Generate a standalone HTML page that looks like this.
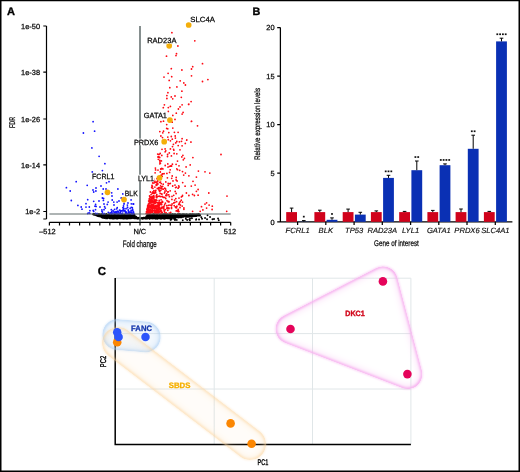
<!DOCTYPE html>
<html><head><meta charset="utf-8"><style>
html,body{margin:0;padding:0;background:#fff;}
body{width:520px;height:472px;overflow:hidden;position:relative;}
svg{position:absolute;left:0;top:0;font-family:"Liberation Sans", sans-serif;will-change:transform;text-rendering:geometricPrecision;}
text.t{stroke:#000;stroke-width:0.25px;}
</style></head><body>
<svg width="520" height="472" viewBox="0 0 520 472">
<g id="A">
<text x="7.0" y="14.8" font-size="11" text-anchor="start" fill="#000" font-weight="bold" stroke="#000" stroke-width="0.35">A</text>
<path d="M46.5 26 V219 M43.3 26 H46.5 M43.3 72.2 H46.5 M43.3 119 H46.5 M43.3 164.8 H46.5 M43.3 211.5 H46.5 M43.3 219 H46.5" stroke="#000" stroke-width="1.2" fill="none"/>
<text x="40.0" y="28.7" font-size="7.4" text-anchor="end" fill="#111" class="t" >1e-50</text>
<text x="40.0" y="74.9" font-size="7.4" text-anchor="end" fill="#111" class="t" >1e-38</text>
<text x="40.0" y="121.7" font-size="7.4" text-anchor="end" fill="#111" class="t" >1e-26</text>
<text x="40.0" y="167.5" font-size="7.4" text-anchor="end" fill="#111" class="t" >1e-14</text>
<text x="40.0" y="214.2" font-size="7.4" text-anchor="end" fill="#111" class="t" >1e-2</text>
<text class="t" transform="translate(15.2 122.5) rotate(-90)" font-size="8.2" text-anchor="middle" textLength="11" lengthAdjust="spacingAndGlyphs" fill="#111">FDR</text>
<path d="M49.4 222.3 H230.7 M49.4 222.3 V225.6 M59.5 222.3 V225.6 M69.5 222.3 V225.6 M79.6 222.3 V225.6 M89.7 222.3 V225.6 M99.8 222.3 V225.6 M109.8 222.3 V225.6 M119.9 222.3 V225.6 M130.0 222.3 V225.6 M140.0 222.3 V225.6 M150.1 222.3 V225.6 M160.2 222.3 V225.6 M170.3 222.3 V225.6 M180.3 222.3 V225.6 M190.4 222.3 V225.6 M200.5 222.3 V225.6 M210.6 222.3 V225.6 M220.6 222.3 V225.6 M230.7 222.3 V225.6" stroke="#000" stroke-width="1.2" fill="none"/>
<text x="47.4" y="233.6" font-size="7.4" text-anchor="middle" fill="#111" class="t" >–512</text>
<text x="139.8" y="233.6" font-size="7.4" text-anchor="middle" fill="#111" class="t" >N/C</text>
<text x="230.0" y="233.6" font-size="7.4" text-anchor="middle" fill="#111" class="t" >512</text>
<text x="122.8" y="246.9" font-size="9.3" text-anchor="start" fill="#111" textLength="34" lengthAdjust="spacingAndGlyphs" class="t" >Fold change</text>
<path fill="#000" d="M189.6 216.1a0.95 0.95 0 1 0 1.9 0a0.95 0.95 0 1 0 -1.9 0M96.8 215.2a0.95 0.95 0 1 0 1.9 0a0.95 0.95 0 1 0 -1.9 0M192.0 214.7a0.95 0.95 0 1 0 1.9 0a0.95 0.95 0 1 0 -1.9 0M159.4 215.9a0.95 0.95 0 1 0 1.9 0a0.95 0.95 0 1 0 -1.9 0M98.5 215.3a0.95 0.95 0 1 0 1.9 0a0.95 0.95 0 1 0 -1.9 0M93.3 214.3a0.95 0.95 0 1 0 1.9 0a0.95 0.95 0 1 0 -1.9 0M174.9 217.6a0.95 0.95 0 1 0 1.9 0a0.95 0.95 0 1 0 -1.9 0M178.5 217.1a0.95 0.95 0 1 0 1.9 0a0.95 0.95 0 1 0 -1.9 0M94.8 214.9a0.95 0.95 0 1 0 1.9 0a0.95 0.95 0 1 0 -1.9 0M164.3 215.5a0.95 0.95 0 1 0 1.9 0a0.95 0.95 0 1 0 -1.9 0M190.9 215.6a0.95 0.95 0 1 0 1.9 0a0.95 0.95 0 1 0 -1.9 0M147.2 216.2a0.95 0.95 0 1 0 1.9 0a0.95 0.95 0 1 0 -1.9 0M122.1 215.5a0.95 0.95 0 1 0 1.9 0a0.95 0.95 0 1 0 -1.9 0M104.1 216.8a0.95 0.95 0 1 0 1.9 0a0.95 0.95 0 1 0 -1.9 0M146.5 215.4a0.95 0.95 0 1 0 1.9 0a0.95 0.95 0 1 0 -1.9 0M148.7 214.9a0.95 0.95 0 1 0 1.9 0a0.95 0.95 0 1 0 -1.9 0M105.2 215.5a0.95 0.95 0 1 0 1.9 0a0.95 0.95 0 1 0 -1.9 0M122.2 215.3a0.95 0.95 0 1 0 1.9 0a0.95 0.95 0 1 0 -1.9 0M150.1 218.1a0.95 0.95 0 1 0 1.9 0a0.95 0.95 0 1 0 -1.9 0M152.6 217.2a0.95 0.95 0 1 0 1.9 0a0.95 0.95 0 1 0 -1.9 0M167.8 216.2a0.95 0.95 0 1 0 1.9 0a0.95 0.95 0 1 0 -1.9 0M157.2 216.4a0.95 0.95 0 1 0 1.9 0a0.95 0.95 0 1 0 -1.9 0M117.2 215.2a0.95 0.95 0 1 0 1.9 0a0.95 0.95 0 1 0 -1.9 0M129.1 218.0a0.95 0.95 0 1 0 1.9 0a0.95 0.95 0 1 0 -1.9 0M151.2 216.5a0.95 0.95 0 1 0 1.9 0a0.95 0.95 0 1 0 -1.9 0M197.7 214.7a0.95 0.95 0 1 0 1.9 0a0.95 0.95 0 1 0 -1.9 0M108.2 214.5a0.95 0.95 0 1 0 1.9 0a0.95 0.95 0 1 0 -1.9 0M132.9 216.1a0.95 0.95 0 1 0 1.9 0a0.95 0.95 0 1 0 -1.9 0M102.8 215.1a0.95 0.95 0 1 0 1.9 0a0.95 0.95 0 1 0 -1.9 0M170.8 214.8a0.95 0.95 0 1 0 1.9 0a0.95 0.95 0 1 0 -1.9 0M129.1 217.2a0.95 0.95 0 1 0 1.9 0a0.95 0.95 0 1 0 -1.9 0M182.8 216.6a0.95 0.95 0 1 0 1.9 0a0.95 0.95 0 1 0 -1.9 0M170.8 217.2a0.95 0.95 0 1 0 1.9 0a0.95 0.95 0 1 0 -1.9 0M142.4 217.8a0.95 0.95 0 1 0 1.9 0a0.95 0.95 0 1 0 -1.9 0M189.8 214.5a0.95 0.95 0 1 0 1.9 0a0.95 0.95 0 1 0 -1.9 0M173.7 216.4a0.95 0.95 0 1 0 1.9 0a0.95 0.95 0 1 0 -1.9 0M195.0 215.2a0.95 0.95 0 1 0 1.9 0a0.95 0.95 0 1 0 -1.9 0M175.7 217.3a0.95 0.95 0 1 0 1.9 0a0.95 0.95 0 1 0 -1.9 0M132.0 216.2a0.95 0.95 0 1 0 1.9 0a0.95 0.95 0 1 0 -1.9 0M169.1 215.4a0.95 0.95 0 1 0 1.9 0a0.95 0.95 0 1 0 -1.9 0M151.0 216.0a0.95 0.95 0 1 0 1.9 0a0.95 0.95 0 1 0 -1.9 0M176.1 217.2a0.95 0.95 0 1 0 1.9 0a0.95 0.95 0 1 0 -1.9 0M123.9 214.8a0.95 0.95 0 1 0 1.9 0a0.95 0.95 0 1 0 -1.9 0M153.9 214.6a0.95 0.95 0 1 0 1.9 0a0.95 0.95 0 1 0 -1.9 0M126.0 217.9a0.95 0.95 0 1 0 1.9 0a0.95 0.95 0 1 0 -1.9 0M194.6 214.6a0.95 0.95 0 1 0 1.9 0a0.95 0.95 0 1 0 -1.9 0M152.1 216.5a0.95 0.95 0 1 0 1.9 0a0.95 0.95 0 1 0 -1.9 0M174.6 216.2a0.95 0.95 0 1 0 1.9 0a0.95 0.95 0 1 0 -1.9 0M146.9 216.6a0.95 0.95 0 1 0 1.9 0a0.95 0.95 0 1 0 -1.9 0M133.1 215.8a0.95 0.95 0 1 0 1.9 0a0.95 0.95 0 1 0 -1.9 0M129.0 218.4a0.95 0.95 0 1 0 1.9 0a0.95 0.95 0 1 0 -1.9 0M147.8 214.7a0.95 0.95 0 1 0 1.9 0a0.95 0.95 0 1 0 -1.9 0M134.3 216.8a0.95 0.95 0 1 0 1.9 0a0.95 0.95 0 1 0 -1.9 0M186.1 216.7a0.95 0.95 0 1 0 1.9 0a0.95 0.95 0 1 0 -1.9 0M198.6 214.7a0.95 0.95 0 1 0 1.9 0a0.95 0.95 0 1 0 -1.9 0M179.2 214.8a0.95 0.95 0 1 0 1.9 0a0.95 0.95 0 1 0 -1.9 0M196.7 215.6a0.95 0.95 0 1 0 1.9 0a0.95 0.95 0 1 0 -1.9 0M103.0 217.8a0.95 0.95 0 1 0 1.9 0a0.95 0.95 0 1 0 -1.9 0M179.7 217.4a0.95 0.95 0 1 0 1.9 0a0.95 0.95 0 1 0 -1.9 0M122.4 216.5a0.95 0.95 0 1 0 1.9 0a0.95 0.95 0 1 0 -1.9 0M111.4 215.0a0.95 0.95 0 1 0 1.9 0a0.95 0.95 0 1 0 -1.9 0M156.2 215.8a0.95 0.95 0 1 0 1.9 0a0.95 0.95 0 1 0 -1.9 0M159.8 214.4a0.95 0.95 0 1 0 1.9 0a0.95 0.95 0 1 0 -1.9 0M176.1 215.3a0.95 0.95 0 1 0 1.9 0a0.95 0.95 0 1 0 -1.9 0M123.9 217.9a0.95 0.95 0 1 0 1.9 0a0.95 0.95 0 1 0 -1.9 0M163.2 215.1a0.95 0.95 0 1 0 1.9 0a0.95 0.95 0 1 0 -1.9 0M150.8 215.4a0.95 0.95 0 1 0 1.9 0a0.95 0.95 0 1 0 -1.9 0M148.5 218.8a0.95 0.95 0 1 0 1.9 0a0.95 0.95 0 1 0 -1.9 0M108.0 217.5a0.95 0.95 0 1 0 1.9 0a0.95 0.95 0 1 0 -1.9 0M101.9 214.8a0.95 0.95 0 1 0 1.9 0a0.95 0.95 0 1 0 -1.9 0M179.9 216.1a0.95 0.95 0 1 0 1.9 0a0.95 0.95 0 1 0 -1.9 0M97.8 214.2a0.95 0.95 0 1 0 1.9 0a0.95 0.95 0 1 0 -1.9 0M125.9 217.3a0.95 0.95 0 1 0 1.9 0a0.95 0.95 0 1 0 -1.9 0M109.3 215.4a0.95 0.95 0 1 0 1.9 0a0.95 0.95 0 1 0 -1.9 0M188.7 215.6a0.95 0.95 0 1 0 1.9 0a0.95 0.95 0 1 0 -1.9 0M97.0 215.9a0.95 0.95 0 1 0 1.9 0a0.95 0.95 0 1 0 -1.9 0M194.7 215.0a0.95 0.95 0 1 0 1.9 0a0.95 0.95 0 1 0 -1.9 0M118.0 214.4a0.95 0.95 0 1 0 1.9 0a0.95 0.95 0 1 0 -1.9 0M183.4 215.1a0.95 0.95 0 1 0 1.9 0a0.95 0.95 0 1 0 -1.9 0M179.2 215.2a0.95 0.95 0 1 0 1.9 0a0.95 0.95 0 1 0 -1.9 0M194.7 215.1a0.95 0.95 0 1 0 1.9 0a0.95 0.95 0 1 0 -1.9 0M117.3 215.9a0.95 0.95 0 1 0 1.9 0a0.95 0.95 0 1 0 -1.9 0M115.0 215.6a0.95 0.95 0 1 0 1.9 0a0.95 0.95 0 1 0 -1.9 0M143.4 217.8a0.95 0.95 0 1 0 1.9 0a0.95 0.95 0 1 0 -1.9 0M109.8 215.8a0.95 0.95 0 1 0 1.9 0a0.95 0.95 0 1 0 -1.9 0M196.0 214.7a0.95 0.95 0 1 0 1.9 0a0.95 0.95 0 1 0 -1.9 0M103.5 216.4a0.95 0.95 0 1 0 1.9 0a0.95 0.95 0 1 0 -1.9 0M104.4 217.8a0.95 0.95 0 1 0 1.9 0a0.95 0.95 0 1 0 -1.9 0M117.5 215.0a0.95 0.95 0 1 0 1.9 0a0.95 0.95 0 1 0 -1.9 0M116.7 214.4a0.95 0.95 0 1 0 1.9 0a0.95 0.95 0 1 0 -1.9 0M127.9 214.9a0.95 0.95 0 1 0 1.9 0a0.95 0.95 0 1 0 -1.9 0M101.1 215.1a0.95 0.95 0 1 0 1.9 0a0.95 0.95 0 1 0 -1.9 0M104.9 216.2a0.95 0.95 0 1 0 1.9 0a0.95 0.95 0 1 0 -1.9 0M178.0 214.7a0.95 0.95 0 1 0 1.9 0a0.95 0.95 0 1 0 -1.9 0M169.1 215.8a0.95 0.95 0 1 0 1.9 0a0.95 0.95 0 1 0 -1.9 0M113.5 218.4a0.95 0.95 0 1 0 1.9 0a0.95 0.95 0 1 0 -1.9 0M115.6 216.2a0.95 0.95 0 1 0 1.9 0a0.95 0.95 0 1 0 -1.9 0M167.3 215.3a0.95 0.95 0 1 0 1.9 0a0.95 0.95 0 1 0 -1.9 0M154.5 215.9a0.95 0.95 0 1 0 1.9 0a0.95 0.95 0 1 0 -1.9 0M156.7 215.2a0.95 0.95 0 1 0 1.9 0a0.95 0.95 0 1 0 -1.9 0M104.3 216.5a0.95 0.95 0 1 0 1.9 0a0.95 0.95 0 1 0 -1.9 0M120.3 217.6a0.95 0.95 0 1 0 1.9 0a0.95 0.95 0 1 0 -1.9 0M162.1 216.8a0.95 0.95 0 1 0 1.9 0a0.95 0.95 0 1 0 -1.9 0M133.2 214.6a0.95 0.95 0 1 0 1.9 0a0.95 0.95 0 1 0 -1.9 0M183.0 215.1a0.95 0.95 0 1 0 1.9 0a0.95 0.95 0 1 0 -1.9 0M102.8 216.4a0.95 0.95 0 1 0 1.9 0a0.95 0.95 0 1 0 -1.9 0M98.2 214.9a0.95 0.95 0 1 0 1.9 0a0.95 0.95 0 1 0 -1.9 0M104.7 217.4a0.95 0.95 0 1 0 1.9 0a0.95 0.95 0 1 0 -1.9 0M134.6 218.4a0.95 0.95 0 1 0 1.9 0a0.95 0.95 0 1 0 -1.9 0M186.4 216.4a0.95 0.95 0 1 0 1.9 0a0.95 0.95 0 1 0 -1.9 0M120.9 214.3a0.95 0.95 0 1 0 1.9 0a0.95 0.95 0 1 0 -1.9 0M162.7 215.8a0.95 0.95 0 1 0 1.9 0a0.95 0.95 0 1 0 -1.9 0M162.2 217.4a0.95 0.95 0 1 0 1.9 0a0.95 0.95 0 1 0 -1.9 0M182.5 215.2a0.95 0.95 0 1 0 1.9 0a0.95 0.95 0 1 0 -1.9 0M110.7 214.7a0.95 0.95 0 1 0 1.9 0a0.95 0.95 0 1 0 -1.9 0M95.4 214.4a0.95 0.95 0 1 0 1.9 0a0.95 0.95 0 1 0 -1.9 0M124.6 217.0a0.95 0.95 0 1 0 1.9 0a0.95 0.95 0 1 0 -1.9 0M181.7 215.9a0.95 0.95 0 1 0 1.9 0a0.95 0.95 0 1 0 -1.9 0M118.6 216.1a0.95 0.95 0 1 0 1.9 0a0.95 0.95 0 1 0 -1.9 0M128.7 214.2a0.95 0.95 0 1 0 1.9 0a0.95 0.95 0 1 0 -1.9 0M117.5 214.7a0.95 0.95 0 1 0 1.9 0a0.95 0.95 0 1 0 -1.9 0M113.7 218.2a0.95 0.95 0 1 0 1.9 0a0.95 0.95 0 1 0 -1.9 0M100.4 216.4a0.95 0.95 0 1 0 1.9 0a0.95 0.95 0 1 0 -1.9 0M171.8 217.4a0.95 0.95 0 1 0 1.9 0a0.95 0.95 0 1 0 -1.9 0M100.8 217.3a0.95 0.95 0 1 0 1.9 0a0.95 0.95 0 1 0 -1.9 0M191.5 215.7a0.95 0.95 0 1 0 1.9 0a0.95 0.95 0 1 0 -1.9 0M180.7 216.1a0.95 0.95 0 1 0 1.9 0a0.95 0.95 0 1 0 -1.9 0M96.9 215.5a0.95 0.95 0 1 0 1.9 0a0.95 0.95 0 1 0 -1.9 0M146.3 218.5a0.95 0.95 0 1 0 1.9 0a0.95 0.95 0 1 0 -1.9 0M173.3 214.4a0.95 0.95 0 1 0 1.9 0a0.95 0.95 0 1 0 -1.9 0M178.1 215.1a0.95 0.95 0 1 0 1.9 0a0.95 0.95 0 1 0 -1.9 0M195.7 215.3a0.95 0.95 0 1 0 1.9 0a0.95 0.95 0 1 0 -1.9 0M118.0 214.5a0.95 0.95 0 1 0 1.9 0a0.95 0.95 0 1 0 -1.9 0M124.6 214.8a0.95 0.95 0 1 0 1.9 0a0.95 0.95 0 1 0 -1.9 0M163.4 215.3a0.95 0.95 0 1 0 1.9 0a0.95 0.95 0 1 0 -1.9 0M146.7 216.2a0.95 0.95 0 1 0 1.9 0a0.95 0.95 0 1 0 -1.9 0M129.0 215.5a0.95 0.95 0 1 0 1.9 0a0.95 0.95 0 1 0 -1.9 0M106.4 216.7a0.95 0.95 0 1 0 1.9 0a0.95 0.95 0 1 0 -1.9 0M179.1 216.0a0.95 0.95 0 1 0 1.9 0a0.95 0.95 0 1 0 -1.9 0M109.3 217.1a0.95 0.95 0 1 0 1.9 0a0.95 0.95 0 1 0 -1.9 0M180.8 214.6a0.95 0.95 0 1 0 1.9 0a0.95 0.95 0 1 0 -1.9 0M130.0 215.1a0.95 0.95 0 1 0 1.9 0a0.95 0.95 0 1 0 -1.9 0M121.4 215.1a0.95 0.95 0 1 0 1.9 0a0.95 0.95 0 1 0 -1.9 0M126.1 216.3a0.95 0.95 0 1 0 1.9 0a0.95 0.95 0 1 0 -1.9 0M198.2 215.3a0.95 0.95 0 1 0 1.9 0a0.95 0.95 0 1 0 -1.9 0M168.5 218.3a0.95 0.95 0 1 0 1.9 0a0.95 0.95 0 1 0 -1.9 0M102.8 216.1a0.95 0.95 0 1 0 1.9 0a0.95 0.95 0 1 0 -1.9 0M190.4 215.6a0.95 0.95 0 1 0 1.9 0a0.95 0.95 0 1 0 -1.9 0M192.1 215.6a0.95 0.95 0 1 0 1.9 0a0.95 0.95 0 1 0 -1.9 0M174.7 217.3a0.95 0.95 0 1 0 1.9 0a0.95 0.95 0 1 0 -1.9 0M111.1 217.0a0.95 0.95 0 1 0 1.9 0a0.95 0.95 0 1 0 -1.9 0M191.1 214.6a0.95 0.95 0 1 0 1.9 0a0.95 0.95 0 1 0 -1.9 0M180.7 216.5a0.95 0.95 0 1 0 1.9 0a0.95 0.95 0 1 0 -1.9 0M111.0 217.8a0.95 0.95 0 1 0 1.9 0a0.95 0.95 0 1 0 -1.9 0M130.9 216.6a0.95 0.95 0 1 0 1.9 0a0.95 0.95 0 1 0 -1.9 0M152.3 217.1a0.95 0.95 0 1 0 1.9 0a0.95 0.95 0 1 0 -1.9 0M167.3 218.1a0.95 0.95 0 1 0 1.9 0a0.95 0.95 0 1 0 -1.9 0M108.1 215.5a0.95 0.95 0 1 0 1.9 0a0.95 0.95 0 1 0 -1.9 0M99.7 216.2a0.95 0.95 0 1 0 1.9 0a0.95 0.95 0 1 0 -1.9 0M138.9 218.7a0.95 0.95 0 1 0 1.9 0a0.95 0.95 0 1 0 -1.9 0M95.4 214.8a0.95 0.95 0 1 0 1.9 0a0.95 0.95 0 1 0 -1.9 0M169.1 214.2a0.95 0.95 0 1 0 1.9 0a0.95 0.95 0 1 0 -1.9 0M183.4 216.4a0.95 0.95 0 1 0 1.9 0a0.95 0.95 0 1 0 -1.9 0M121.6 217.1a0.95 0.95 0 1 0 1.9 0a0.95 0.95 0 1 0 -1.9 0M180.3 217.0a0.95 0.95 0 1 0 1.9 0a0.95 0.95 0 1 0 -1.9 0M123.0 216.1a0.95 0.95 0 1 0 1.9 0a0.95 0.95 0 1 0 -1.9 0M128.6 215.1a0.95 0.95 0 1 0 1.9 0a0.95 0.95 0 1 0 -1.9 0M126.0 216.2a0.95 0.95 0 1 0 1.9 0a0.95 0.95 0 1 0 -1.9 0M189.2 216.2a0.95 0.95 0 1 0 1.9 0a0.95 0.95 0 1 0 -1.9 0M194.9 215.3a0.95 0.95 0 1 0 1.9 0a0.95 0.95 0 1 0 -1.9 0M97.5 215.6a0.95 0.95 0 1 0 1.9 0a0.95 0.95 0 1 0 -1.9 0M123.1 216.7a0.95 0.95 0 1 0 1.9 0a0.95 0.95 0 1 0 -1.9 0M123.4 215.7a0.95 0.95 0 1 0 1.9 0a0.95 0.95 0 1 0 -1.9 0M94.1 214.4a0.95 0.95 0 1 0 1.9 0a0.95 0.95 0 1 0 -1.9 0M162.4 215.9a0.95 0.95 0 1 0 1.9 0a0.95 0.95 0 1 0 -1.9 0M152.1 216.0a0.95 0.95 0 1 0 1.9 0a0.95 0.95 0 1 0 -1.9 0M110.5 218.1a0.95 0.95 0 1 0 1.9 0a0.95 0.95 0 1 0 -1.9 0M103.2 217.7a0.95 0.95 0 1 0 1.9 0a0.95 0.95 0 1 0 -1.9 0M101.3 216.0a0.95 0.95 0 1 0 1.9 0a0.95 0.95 0 1 0 -1.9 0M115.5 216.7a0.95 0.95 0 1 0 1.9 0a0.95 0.95 0 1 0 -1.9 0M146.5 216.9a0.95 0.95 0 1 0 1.9 0a0.95 0.95 0 1 0 -1.9 0M138.5 218.2a0.95 0.95 0 1 0 1.9 0a0.95 0.95 0 1 0 -1.9 0M168.2 217.4a0.95 0.95 0 1 0 1.9 0a0.95 0.95 0 1 0 -1.9 0M198.0 215.3a0.95 0.95 0 1 0 1.9 0a0.95 0.95 0 1 0 -1.9 0M180.7 215.4a0.95 0.95 0 1 0 1.9 0a0.95 0.95 0 1 0 -1.9 0M194.7 215.2a0.95 0.95 0 1 0 1.9 0a0.95 0.95 0 1 0 -1.9 0M155.2 215.2a0.95 0.95 0 1 0 1.9 0a0.95 0.95 0 1 0 -1.9 0M167.5 216.0a0.95 0.95 0 1 0 1.9 0a0.95 0.95 0 1 0 -1.9 0M158.1 218.2a0.95 0.95 0 1 0 1.9 0a0.95 0.95 0 1 0 -1.9 0M190.1 216.2a0.95 0.95 0 1 0 1.9 0a0.95 0.95 0 1 0 -1.9 0M171.6 215.5a0.95 0.95 0 1 0 1.9 0a0.95 0.95 0 1 0 -1.9 0M164.5 218.0a0.95 0.95 0 1 0 1.9 0a0.95 0.95 0 1 0 -1.9 0M131.3 217.4a0.95 0.95 0 1 0 1.9 0a0.95 0.95 0 1 0 -1.9 0M169.0 214.4a0.95 0.95 0 1 0 1.9 0a0.95 0.95 0 1 0 -1.9 0M101.8 216.2a0.95 0.95 0 1 0 1.9 0a0.95 0.95 0 1 0 -1.9 0M103.3 218.0a0.95 0.95 0 1 0 1.9 0a0.95 0.95 0 1 0 -1.9 0M118.5 215.0a0.95 0.95 0 1 0 1.9 0a0.95 0.95 0 1 0 -1.9 0M181.6 216.0a0.95 0.95 0 1 0 1.9 0a0.95 0.95 0 1 0 -1.9 0M93.3 214.3a0.95 0.95 0 1 0 1.9 0a0.95 0.95 0 1 0 -1.9 0M111.1 216.6a0.95 0.95 0 1 0 1.9 0a0.95 0.95 0 1 0 -1.9 0M165.3 215.9a0.95 0.95 0 1 0 1.9 0a0.95 0.95 0 1 0 -1.9 0M185.6 215.6a0.95 0.95 0 1 0 1.9 0a0.95 0.95 0 1 0 -1.9 0M128.0 214.9a0.95 0.95 0 1 0 1.9 0a0.95 0.95 0 1 0 -1.9 0M110.7 217.8a0.95 0.95 0 1 0 1.9 0a0.95 0.95 0 1 0 -1.9 0M133.4 216.3a0.95 0.95 0 1 0 1.9 0a0.95 0.95 0 1 0 -1.9 0M182.3 215.4a0.95 0.95 0 1 0 1.9 0a0.95 0.95 0 1 0 -1.9 0M157.0 214.5a0.95 0.95 0 1 0 1.9 0a0.95 0.95 0 1 0 -1.9 0M114.4 218.1a0.95 0.95 0 1 0 1.9 0a0.95 0.95 0 1 0 -1.9 0M95.8 214.5a0.95 0.95 0 1 0 1.9 0a0.95 0.95 0 1 0 -1.9 0M106.8 217.2a0.95 0.95 0 1 0 1.9 0a0.95 0.95 0 1 0 -1.9 0M120.6 216.4a0.95 0.95 0 1 0 1.9 0a0.95 0.95 0 1 0 -1.9 0M152.5 216.6a0.95 0.95 0 1 0 1.9 0a0.95 0.95 0 1 0 -1.9 0M198.2 214.3a0.95 0.95 0 1 0 1.9 0a0.95 0.95 0 1 0 -1.9 0M174.3 217.4a0.95 0.95 0 1 0 1.9 0a0.95 0.95 0 1 0 -1.9 0M159.4 217.1a0.95 0.95 0 1 0 1.9 0a0.95 0.95 0 1 0 -1.9 0M121.5 217.7a0.95 0.95 0 1 0 1.9 0a0.95 0.95 0 1 0 -1.9 0M192.4 215.6a0.95 0.95 0 1 0 1.9 0a0.95 0.95 0 1 0 -1.9 0M173.5 217.0a0.95 0.95 0 1 0 1.9 0a0.95 0.95 0 1 0 -1.9 0M159.7 215.8a0.95 0.95 0 1 0 1.9 0a0.95 0.95 0 1 0 -1.9 0M127.5 215.6a0.95 0.95 0 1 0 1.9 0a0.95 0.95 0 1 0 -1.9 0M117.3 215.2a0.95 0.95 0 1 0 1.9 0a0.95 0.95 0 1 0 -1.9 0M105.7 214.2a0.95 0.95 0 1 0 1.9 0a0.95 0.95 0 1 0 -1.9 0M152.5 215.6a0.95 0.95 0 1 0 1.9 0a0.95 0.95 0 1 0 -1.9 0M98.2 214.9a0.95 0.95 0 1 0 1.9 0a0.95 0.95 0 1 0 -1.9 0M169.5 216.5a0.95 0.95 0 1 0 1.9 0a0.95 0.95 0 1 0 -1.9 0M127.8 218.3a0.95 0.95 0 1 0 1.9 0a0.95 0.95 0 1 0 -1.9 0M99.7 214.7a0.95 0.95 0 1 0 1.9 0a0.95 0.95 0 1 0 -1.9 0M197.7 214.8a0.95 0.95 0 1 0 1.9 0a0.95 0.95 0 1 0 -1.9 0M137.3 218.2a0.95 0.95 0 1 0 1.9 0a0.95 0.95 0 1 0 -1.9 0M143.4 218.3a0.95 0.95 0 1 0 1.9 0a0.95 0.95 0 1 0 -1.9 0M118.9 214.3a0.95 0.95 0 1 0 1.9 0a0.95 0.95 0 1 0 -1.9 0M120.0 217.3a0.95 0.95 0 1 0 1.9 0a0.95 0.95 0 1 0 -1.9 0M156.2 218.2a0.95 0.95 0 1 0 1.9 0a0.95 0.95 0 1 0 -1.9 0M112.3 217.4a0.95 0.95 0 1 0 1.9 0a0.95 0.95 0 1 0 -1.9 0M156.0 214.6a0.95 0.95 0 1 0 1.9 0a0.95 0.95 0 1 0 -1.9 0M185.6 215.1a0.95 0.95 0 1 0 1.9 0a0.95 0.95 0 1 0 -1.9 0M111.4 216.6a0.95 0.95 0 1 0 1.9 0a0.95 0.95 0 1 0 -1.9 0M160.2 218.4a0.95 0.95 0 1 0 1.9 0a0.95 0.95 0 1 0 -1.9 0M126.3 217.5a0.95 0.95 0 1 0 1.9 0a0.95 0.95 0 1 0 -1.9 0M134.8 217.3a0.95 0.95 0 1 0 1.9 0a0.95 0.95 0 1 0 -1.9 0M158.7 215.7a0.95 0.95 0 1 0 1.9 0a0.95 0.95 0 1 0 -1.9 0M155.6 215.4a0.95 0.95 0 1 0 1.9 0a0.95 0.95 0 1 0 -1.9 0M92.5 214.5a0.95 0.95 0 1 0 1.9 0a0.95 0.95 0 1 0 -1.9 0M197.7 214.3a0.95 0.95 0 1 0 1.9 0a0.95 0.95 0 1 0 -1.9 0M169.3 215.6a0.95 0.95 0 1 0 1.9 0a0.95 0.95 0 1 0 -1.9 0M107.9 214.8a0.95 0.95 0 1 0 1.9 0a0.95 0.95 0 1 0 -1.9 0M100.8 216.8a0.95 0.95 0 1 0 1.9 0a0.95 0.95 0 1 0 -1.9 0M149.2 216.9a0.95 0.95 0 1 0 1.9 0a0.95 0.95 0 1 0 -1.9 0M162.0 217.0a0.95 0.95 0 1 0 1.9 0a0.95 0.95 0 1 0 -1.9 0M171.1 215.2a0.95 0.95 0 1 0 1.9 0a0.95 0.95 0 1 0 -1.9 0M173.5 217.1a0.95 0.95 0 1 0 1.9 0a0.95 0.95 0 1 0 -1.9 0M174.5 217.8a0.95 0.95 0 1 0 1.9 0a0.95 0.95 0 1 0 -1.9 0M121.1 216.5a0.95 0.95 0 1 0 1.9 0a0.95 0.95 0 1 0 -1.9 0M105.3 214.2a0.95 0.95 0 1 0 1.9 0a0.95 0.95 0 1 0 -1.9 0M161.8 217.8a0.95 0.95 0 1 0 1.9 0a0.95 0.95 0 1 0 -1.9 0M197.9 214.6a0.95 0.95 0 1 0 1.9 0a0.95 0.95 0 1 0 -1.9 0M100.8 214.3a0.95 0.95 0 1 0 1.9 0a0.95 0.95 0 1 0 -1.9 0M97.5 215.3a0.95 0.95 0 1 0 1.9 0a0.95 0.95 0 1 0 -1.9 0M110.7 218.3a0.95 0.95 0 1 0 1.9 0a0.95 0.95 0 1 0 -1.9 0M107.2 215.0a0.95 0.95 0 1 0 1.9 0a0.95 0.95 0 1 0 -1.9 0M175.1 215.1a0.95 0.95 0 1 0 1.9 0a0.95 0.95 0 1 0 -1.9 0M144.9 217.1a0.95 0.95 0 1 0 1.9 0a0.95 0.95 0 1 0 -1.9 0M177.5 215.8a0.95 0.95 0 1 0 1.9 0a0.95 0.95 0 1 0 -1.9 0M188.6 214.5a0.95 0.95 0 1 0 1.9 0a0.95 0.95 0 1 0 -1.9 0M98.1 215.7a0.95 0.95 0 1 0 1.9 0a0.95 0.95 0 1 0 -1.9 0M184.4 214.4a0.95 0.95 0 1 0 1.9 0a0.95 0.95 0 1 0 -1.9 0M135.3 218.4a0.95 0.95 0 1 0 1.9 0a0.95 0.95 0 1 0 -1.9 0M158.8 215.2a0.95 0.95 0 1 0 1.9 0a0.95 0.95 0 1 0 -1.9 0M119.4 216.1a0.95 0.95 0 1 0 1.9 0a0.95 0.95 0 1 0 -1.9 0M113.0 217.5a0.95 0.95 0 1 0 1.9 0a0.95 0.95 0 1 0 -1.9 0M123.3 218.6a0.95 0.95 0 1 0 1.9 0a0.95 0.95 0 1 0 -1.9 0M152.6 214.9a0.95 0.95 0 1 0 1.9 0a0.95 0.95 0 1 0 -1.9 0M184.9 214.9a0.95 0.95 0 1 0 1.9 0a0.95 0.95 0 1 0 -1.9 0M179.9 215.1a0.95 0.95 0 1 0 1.9 0a0.95 0.95 0 1 0 -1.9 0M143.5 218.3a0.95 0.95 0 1 0 1.9 0a0.95 0.95 0 1 0 -1.9 0M164.8 216.9a0.95 0.95 0 1 0 1.9 0a0.95 0.95 0 1 0 -1.9 0M153.6 218.3a0.95 0.95 0 1 0 1.9 0a0.95 0.95 0 1 0 -1.9 0M186.5 215.1a0.95 0.95 0 1 0 1.9 0a0.95 0.95 0 1 0 -1.9 0M184.3 214.7a0.95 0.95 0 1 0 1.9 0a0.95 0.95 0 1 0 -1.9 0M189.5 214.5a0.95 0.95 0 1 0 1.9 0a0.95 0.95 0 1 0 -1.9 0M101.6 214.8a0.95 0.95 0 1 0 1.9 0a0.95 0.95 0 1 0 -1.9 0M100.8 215.3a0.95 0.95 0 1 0 1.9 0a0.95 0.95 0 1 0 -1.9 0M168.4 217.9a0.95 0.95 0 1 0 1.9 0a0.95 0.95 0 1 0 -1.9 0M94.6 214.5a0.95 0.95 0 1 0 1.9 0a0.95 0.95 0 1 0 -1.9 0M165.5 214.4a0.95 0.95 0 1 0 1.9 0a0.95 0.95 0 1 0 -1.9 0M116.1 216.1a0.95 0.95 0 1 0 1.9 0a0.95 0.95 0 1 0 -1.9 0M93.2 214.8a0.95 0.95 0 1 0 1.9 0a0.95 0.95 0 1 0 -1.9 0M185.9 214.5a0.95 0.95 0 1 0 1.9 0a0.95 0.95 0 1 0 -1.9 0M105.7 216.1a0.95 0.95 0 1 0 1.9 0a0.95 0.95 0 1 0 -1.9 0M165.1 214.9a0.95 0.95 0 1 0 1.9 0a0.95 0.95 0 1 0 -1.9 0M129.2 216.4a0.95 0.95 0 1 0 1.9 0a0.95 0.95 0 1 0 -1.9 0M128.8 215.1a0.95 0.95 0 1 0 1.9 0a0.95 0.95 0 1 0 -1.9 0M186.4 216.1a0.95 0.95 0 1 0 1.9 0a0.95 0.95 0 1 0 -1.9 0M110.2 215.4a0.95 0.95 0 1 0 1.9 0a0.95 0.95 0 1 0 -1.9 0M95.7 215.0a0.95 0.95 0 1 0 1.9 0a0.95 0.95 0 1 0 -1.9 0M165.4 217.1a0.95 0.95 0 1 0 1.9 0a0.95 0.95 0 1 0 -1.9 0M150.3 217.4a0.95 0.95 0 1 0 1.9 0a0.95 0.95 0 1 0 -1.9 0M185.4 216.1a0.95 0.95 0 1 0 1.9 0a0.95 0.95 0 1 0 -1.9 0M125.4 216.0a0.95 0.95 0 1 0 1.9 0a0.95 0.95 0 1 0 -1.9 0M132.9 215.9a0.95 0.95 0 1 0 1.9 0a0.95 0.95 0 1 0 -1.9 0M156.7 218.5a0.95 0.95 0 1 0 1.9 0a0.95 0.95 0 1 0 -1.9 0M157.0 215.9a0.95 0.95 0 1 0 1.9 0a0.95 0.95 0 1 0 -1.9 0M112.5 214.7a0.95 0.95 0 1 0 1.9 0a0.95 0.95 0 1 0 -1.9 0M166.0 215.6a0.95 0.95 0 1 0 1.9 0a0.95 0.95 0 1 0 -1.9 0M150.3 215.7a0.95 0.95 0 1 0 1.9 0a0.95 0.95 0 1 0 -1.9 0M171.6 217.5a0.95 0.95 0 1 0 1.9 0a0.95 0.95 0 1 0 -1.9 0M155.0 218.8a0.95 0.95 0 1 0 1.9 0a0.95 0.95 0 1 0 -1.9 0M159.0 217.6a0.95 0.95 0 1 0 1.9 0a0.95 0.95 0 1 0 -1.9 0M168.0 215.9a0.95 0.95 0 1 0 1.9 0a0.95 0.95 0 1 0 -1.9 0M157.2 217.3a0.95 0.95 0 1 0 1.9 0a0.95 0.95 0 1 0 -1.9 0M159.0 216.7a0.95 0.95 0 1 0 1.9 0a0.95 0.95 0 1 0 -1.9 0M157.2 215.4a0.95 0.95 0 1 0 1.9 0a0.95 0.95 0 1 0 -1.9 0M147.4 216.4a0.95 0.95 0 1 0 1.9 0a0.95 0.95 0 1 0 -1.9 0M106.4 218.3a0.95 0.95 0 1 0 1.9 0a0.95 0.95 0 1 0 -1.9 0M147.6 216.6a0.95 0.95 0 1 0 1.9 0a0.95 0.95 0 1 0 -1.9 0M116.8 215.0a0.95 0.95 0 1 0 1.9 0a0.95 0.95 0 1 0 -1.9 0M180.4 217.0a0.95 0.95 0 1 0 1.9 0a0.95 0.95 0 1 0 -1.9 0M95.7 214.8a0.95 0.95 0 1 0 1.9 0a0.95 0.95 0 1 0 -1.9 0M179.4 214.6a0.95 0.95 0 1 0 1.9 0a0.95 0.95 0 1 0 -1.9 0M118.2 214.7a0.95 0.95 0 1 0 1.9 0a0.95 0.95 0 1 0 -1.9 0M177.8 216.0a0.95 0.95 0 1 0 1.9 0a0.95 0.95 0 1 0 -1.9 0M100.6 215.5a0.95 0.95 0 1 0 1.9 0a0.95 0.95 0 1 0 -1.9 0M166.1 216.2a0.95 0.95 0 1 0 1.9 0a0.95 0.95 0 1 0 -1.9 0M177.3 216.8a0.95 0.95 0 1 0 1.9 0a0.95 0.95 0 1 0 -1.9 0M164.5 215.9a0.95 0.95 0 1 0 1.9 0a0.95 0.95 0 1 0 -1.9 0M116.7 215.8a0.95 0.95 0 1 0 1.9 0a0.95 0.95 0 1 0 -1.9 0M132.2 214.3a0.95 0.95 0 1 0 1.9 0a0.95 0.95 0 1 0 -1.9 0M152.7 214.5a0.95 0.95 0 1 0 1.9 0a0.95 0.95 0 1 0 -1.9 0M168.6 215.4a0.95 0.95 0 1 0 1.9 0a0.95 0.95 0 1 0 -1.9 0M117.2 217.9a0.95 0.95 0 1 0 1.9 0a0.95 0.95 0 1 0 -1.9 0M159.8 218.2a0.95 0.95 0 1 0 1.9 0a0.95 0.95 0 1 0 -1.9 0M136.7 217.8a0.95 0.95 0 1 0 1.9 0a0.95 0.95 0 1 0 -1.9 0M131.2 214.4a0.95 0.95 0 1 0 1.9 0a0.95 0.95 0 1 0 -1.9 0M130.7 217.3a0.95 0.95 0 1 0 1.9 0a0.95 0.95 0 1 0 -1.9 0M135.1 217.2a0.95 0.95 0 1 0 1.9 0a0.95 0.95 0 1 0 -1.9 0M129.1 215.9a0.95 0.95 0 1 0 1.9 0a0.95 0.95 0 1 0 -1.9 0M190.9 214.6a0.95 0.95 0 1 0 1.9 0a0.95 0.95 0 1 0 -1.9 0M167.9 215.8a0.95 0.95 0 1 0 1.9 0a0.95 0.95 0 1 0 -1.9 0M126.6 214.5a0.95 0.95 0 1 0 1.9 0a0.95 0.95 0 1 0 -1.9 0M132.0 216.5a0.95 0.95 0 1 0 1.9 0a0.95 0.95 0 1 0 -1.9 0M155.1 216.3a0.95 0.95 0 1 0 1.9 0a0.95 0.95 0 1 0 -1.9 0M181.7 215.4a0.95 0.95 0 1 0 1.9 0a0.95 0.95 0 1 0 -1.9 0M187.2 215.3a0.95 0.95 0 1 0 1.9 0a0.95 0.95 0 1 0 -1.9 0M146.3 218.0a0.95 0.95 0 1 0 1.9 0a0.95 0.95 0 1 0 -1.9 0M164.5 216.7a0.95 0.95 0 1 0 1.9 0a0.95 0.95 0 1 0 -1.9 0M174.2 214.6a0.95 0.95 0 1 0 1.9 0a0.95 0.95 0 1 0 -1.9 0M99.4 216.5a0.95 0.95 0 1 0 1.9 0a0.95 0.95 0 1 0 -1.9 0M100.6 216.6a0.95 0.95 0 1 0 1.9 0a0.95 0.95 0 1 0 -1.9 0M97.0 215.5a0.95 0.95 0 1 0 1.9 0a0.95 0.95 0 1 0 -1.9 0M165.7 216.1a0.95 0.95 0 1 0 1.9 0a0.95 0.95 0 1 0 -1.9 0M198.8 215.4a0.95 0.95 0 1 0 1.9 0a0.95 0.95 0 1 0 -1.9 0M106.8 215.7a0.95 0.95 0 1 0 1.9 0a0.95 0.95 0 1 0 -1.9 0M197.8 214.6a0.95 0.95 0 1 0 1.9 0a0.95 0.95 0 1 0 -1.9 0M124.9 215.3a0.95 0.95 0 1 0 1.9 0a0.95 0.95 0 1 0 -1.9 0M151.1 216.6a0.95 0.95 0 1 0 1.9 0a0.95 0.95 0 1 0 -1.9 0M96.6 214.7a0.95 0.95 0 1 0 1.9 0a0.95 0.95 0 1 0 -1.9 0M177.7 217.1a0.95 0.95 0 1 0 1.9 0a0.95 0.95 0 1 0 -1.9 0M112.9 214.4a0.95 0.95 0 1 0 1.9 0a0.95 0.95 0 1 0 -1.9 0M131.4 216.2a0.95 0.95 0 1 0 1.9 0a0.95 0.95 0 1 0 -1.9 0M154.1 215.9a0.95 0.95 0 1 0 1.9 0a0.95 0.95 0 1 0 -1.9 0M112.7 218.2a0.95 0.95 0 1 0 1.9 0a0.95 0.95 0 1 0 -1.9 0M96.6 214.8a0.95 0.95 0 1 0 1.9 0a0.95 0.95 0 1 0 -1.9 0M135.2 216.8a0.95 0.95 0 1 0 1.9 0a0.95 0.95 0 1 0 -1.9 0M120.6 217.7a0.95 0.95 0 1 0 1.9 0a0.95 0.95 0 1 0 -1.9 0M167.8 217.6a0.95 0.95 0 1 0 1.9 0a0.95 0.95 0 1 0 -1.9 0M140.1 218.5a0.95 0.95 0 1 0 1.9 0a0.95 0.95 0 1 0 -1.9 0M185.9 214.4a0.95 0.95 0 1 0 1.9 0a0.95 0.95 0 1 0 -1.9 0M160.1 214.4a0.95 0.95 0 1 0 1.9 0a0.95 0.95 0 1 0 -1.9 0M98.8 215.7a0.95 0.95 0 1 0 1.9 0a0.95 0.95 0 1 0 -1.9 0M190.7 215.4a0.95 0.95 0 1 0 1.9 0a0.95 0.95 0 1 0 -1.9 0M144.9 217.3a0.95 0.95 0 1 0 1.9 0a0.95 0.95 0 1 0 -1.9 0M122.9 215.1a0.95 0.95 0 1 0 1.9 0a0.95 0.95 0 1 0 -1.9 0M106.8 218.2a0.95 0.95 0 1 0 1.9 0a0.95 0.95 0 1 0 -1.9 0M101.9 214.5a0.95 0.95 0 1 0 1.9 0a0.95 0.95 0 1 0 -1.9 0M193.7 215.0a0.95 0.95 0 1 0 1.9 0a0.95 0.95 0 1 0 -1.9 0M118.9 218.2a0.95 0.95 0 1 0 1.9 0a0.95 0.95 0 1 0 -1.9 0M107.8 214.4a0.95 0.95 0 1 0 1.9 0a0.95 0.95 0 1 0 -1.9 0M95.6 215.4a0.95 0.95 0 1 0 1.9 0a0.95 0.95 0 1 0 -1.9 0M116.2 216.8a0.95 0.95 0 1 0 1.9 0a0.95 0.95 0 1 0 -1.9 0M151.6 214.9a0.95 0.95 0 1 0 1.9 0a0.95 0.95 0 1 0 -1.9 0M126.1 217.9a0.95 0.95 0 1 0 1.9 0a0.95 0.95 0 1 0 -1.9 0M177.4 217.5a0.95 0.95 0 1 0 1.9 0a0.95 0.95 0 1 0 -1.9 0M94.6 214.6a0.95 0.95 0 1 0 1.9 0a0.95 0.95 0 1 0 -1.9 0M115.2 216.6a0.95 0.95 0 1 0 1.9 0a0.95 0.95 0 1 0 -1.9 0M103.4 217.7a0.95 0.95 0 1 0 1.9 0a0.95 0.95 0 1 0 -1.9 0M190.8 216.4a0.95 0.95 0 1 0 1.9 0a0.95 0.95 0 1 0 -1.9 0M147.9 215.5a0.95 0.95 0 1 0 1.9 0a0.95 0.95 0 1 0 -1.9 0M172.1 216.1a0.95 0.95 0 1 0 1.9 0a0.95 0.95 0 1 0 -1.9 0M101.1 215.8a0.95 0.95 0 1 0 1.9 0a0.95 0.95 0 1 0 -1.9 0M155.6 216.7a0.95 0.95 0 1 0 1.9 0a0.95 0.95 0 1 0 -1.9 0M106.1 215.4a0.95 0.95 0 1 0 1.9 0a0.95 0.95 0 1 0 -1.9 0M182.4 214.9a0.95 0.95 0 1 0 1.9 0a0.95 0.95 0 1 0 -1.9 0M94.5 214.8a0.95 0.95 0 1 0 1.9 0a0.95 0.95 0 1 0 -1.9 0M128.2 218.4a0.95 0.95 0 1 0 1.9 0a0.95 0.95 0 1 0 -1.9 0M96.5 214.8a0.95 0.95 0 1 0 1.9 0a0.95 0.95 0 1 0 -1.9 0M117.8 217.5a0.95 0.95 0 1 0 1.9 0a0.95 0.95 0 1 0 -1.9 0M176.1 215.2a0.95 0.95 0 1 0 1.9 0a0.95 0.95 0 1 0 -1.9 0M151.4 214.6a0.95 0.95 0 1 0 1.9 0a0.95 0.95 0 1 0 -1.9 0M176.2 216.3a0.95 0.95 0 1 0 1.9 0a0.95 0.95 0 1 0 -1.9 0M94.7 214.8a0.95 0.95 0 1 0 1.9 0a0.95 0.95 0 1 0 -1.9 0M160.9 214.8a0.95 0.95 0 1 0 1.9 0a0.95 0.95 0 1 0 -1.9 0M129.2 215.8a0.95 0.95 0 1 0 1.9 0a0.95 0.95 0 1 0 -1.9 0M108.7 214.9a0.95 0.95 0 1 0 1.9 0a0.95 0.95 0 1 0 -1.9 0M126.9 217.9a0.95 0.95 0 1 0 1.9 0a0.95 0.95 0 1 0 -1.9 0M101.2 217.2a0.95 0.95 0 1 0 1.9 0a0.95 0.95 0 1 0 -1.9 0M103.7 216.2a0.95 0.95 0 1 0 1.9 0a0.95 0.95 0 1 0 -1.9 0M148.9 216.5a0.95 0.95 0 1 0 1.9 0a0.95 0.95 0 1 0 -1.9 0M112.4 216.0a0.95 0.95 0 1 0 1.9 0a0.95 0.95 0 1 0 -1.9 0M104.8 215.3a0.95 0.95 0 1 0 1.9 0a0.95 0.95 0 1 0 -1.9 0M192.9 215.2a0.95 0.95 0 1 0 1.9 0a0.95 0.95 0 1 0 -1.9 0M152.7 217.4a0.95 0.95 0 1 0 1.9 0a0.95 0.95 0 1 0 -1.9 0M172.1 214.8a0.95 0.95 0 1 0 1.9 0a0.95 0.95 0 1 0 -1.9 0M94.4 214.6a0.95 0.95 0 1 0 1.9 0a0.95 0.95 0 1 0 -1.9 0M122.6 218.1a0.95 0.95 0 1 0 1.9 0a0.95 0.95 0 1 0 -1.9 0M153.5 215.3a0.95 0.95 0 1 0 1.9 0a0.95 0.95 0 1 0 -1.9 0M175.7 216.7a0.95 0.95 0 1 0 1.9 0a0.95 0.95 0 1 0 -1.9 0M117.6 216.8a0.95 0.95 0 1 0 1.9 0a0.95 0.95 0 1 0 -1.9 0M95.5 215.1a0.95 0.95 0 1 0 1.9 0a0.95 0.95 0 1 0 -1.9 0M179.0 215.3a0.95 0.95 0 1 0 1.9 0a0.95 0.95 0 1 0 -1.9 0M192.6 215.0a0.95 0.95 0 1 0 1.9 0a0.95 0.95 0 1 0 -1.9 0M100.6 215.0a0.95 0.95 0 1 0 1.9 0a0.95 0.95 0 1 0 -1.9 0M164.4 214.9a0.95 0.95 0 1 0 1.9 0a0.95 0.95 0 1 0 -1.9 0M106.2 215.1a0.95 0.95 0 1 0 1.9 0a0.95 0.95 0 1 0 -1.9 0M126.8 218.5a0.95 0.95 0 1 0 1.9 0a0.95 0.95 0 1 0 -1.9 0M176.5 215.9a0.95 0.95 0 1 0 1.9 0a0.95 0.95 0 1 0 -1.9 0M175.2 217.5a0.95 0.95 0 1 0 1.9 0a0.95 0.95 0 1 0 -1.9 0M159.8 215.1a0.95 0.95 0 1 0 1.9 0a0.95 0.95 0 1 0 -1.9 0M182.4 216.5a0.95 0.95 0 1 0 1.9 0a0.95 0.95 0 1 0 -1.9 0M168.5 215.7a0.95 0.95 0 1 0 1.9 0a0.95 0.95 0 1 0 -1.9 0M195.4 215.4a0.95 0.95 0 1 0 1.9 0a0.95 0.95 0 1 0 -1.9 0M105.6 217.8a0.95 0.95 0 1 0 1.9 0a0.95 0.95 0 1 0 -1.9 0M188.8 216.0a0.95 0.95 0 1 0 1.9 0a0.95 0.95 0 1 0 -1.9 0M177.7 216.2a0.95 0.95 0 1 0 1.9 0a0.95 0.95 0 1 0 -1.9 0M180.2 216.7a0.95 0.95 0 1 0 1.9 0a0.95 0.95 0 1 0 -1.9 0M123.3 218.4a0.95 0.95 0 1 0 1.9 0a0.95 0.95 0 1 0 -1.9 0M193.2 214.4a0.95 0.95 0 1 0 1.9 0a0.95 0.95 0 1 0 -1.9 0M176.1 215.1a0.95 0.95 0 1 0 1.9 0a0.95 0.95 0 1 0 -1.9 0M116.1 215.1a0.95 0.95 0 1 0 1.9 0a0.95 0.95 0 1 0 -1.9 0M116.6 216.4a0.95 0.95 0 1 0 1.9 0a0.95 0.95 0 1 0 -1.9 0M165.1 217.4a0.95 0.95 0 1 0 1.9 0a0.95 0.95 0 1 0 -1.9 0M175.7 217.0a0.95 0.95 0 1 0 1.9 0a0.95 0.95 0 1 0 -1.9 0M192.8 215.9a0.95 0.95 0 1 0 1.9 0a0.95 0.95 0 1 0 -1.9 0M100.5 216.3a0.95 0.95 0 1 0 1.9 0a0.95 0.95 0 1 0 -1.9 0M127.7 216.8a0.95 0.95 0 1 0 1.9 0a0.95 0.95 0 1 0 -1.9 0M176.7 214.2a0.95 0.95 0 1 0 1.9 0a0.95 0.95 0 1 0 -1.9 0M92.8 214.3a0.95 0.95 0 1 0 1.9 0a0.95 0.95 0 1 0 -1.9 0M114.1 215.8a0.95 0.95 0 1 0 1.9 0a0.95 0.95 0 1 0 -1.9 0M157.9 215.5a0.95 0.95 0 1 0 1.9 0a0.95 0.95 0 1 0 -1.9 0M120.3 217.3a0.95 0.95 0 1 0 1.9 0a0.95 0.95 0 1 0 -1.9 0M162.4 217.9a0.95 0.95 0 1 0 1.9 0a0.95 0.95 0 1 0 -1.9 0M164.8 214.4a0.95 0.95 0 1 0 1.9 0a0.95 0.95 0 1 0 -1.9 0M110.9 215.4a0.95 0.95 0 1 0 1.9 0a0.95 0.95 0 1 0 -1.9 0M130.2 215.2a0.95 0.95 0 1 0 1.9 0a0.95 0.95 0 1 0 -1.9 0M157.0 218.3a0.95 0.95 0 1 0 1.9 0a0.95 0.95 0 1 0 -1.9 0M145.0 218.6a0.95 0.95 0 1 0 1.9 0a0.95 0.95 0 1 0 -1.9 0M197.8 214.5a0.95 0.95 0 1 0 1.9 0a0.95 0.95 0 1 0 -1.9 0M110.0 218.4a0.95 0.95 0 1 0 1.9 0a0.95 0.95 0 1 0 -1.9 0M178.5 215.0a0.95 0.95 0 1 0 1.9 0a0.95 0.95 0 1 0 -1.9 0M101.9 216.2a0.95 0.95 0 1 0 1.9 0a0.95 0.95 0 1 0 -1.9 0M146.5 215.9a0.95 0.95 0 1 0 1.9 0a0.95 0.95 0 1 0 -1.9 0M187.6 215.9a0.95 0.95 0 1 0 1.9 0a0.95 0.95 0 1 0 -1.9 0M158.4 216.2a0.95 0.95 0 1 0 1.9 0a0.95 0.95 0 1 0 -1.9 0M130.1 217.1a0.95 0.95 0 1 0 1.9 0a0.95 0.95 0 1 0 -1.9 0M131.6 216.5a0.95 0.95 0 1 0 1.9 0a0.95 0.95 0 1 0 -1.9 0M189.0 215.4a0.95 0.95 0 1 0 1.9 0a0.95 0.95 0 1 0 -1.9 0M196.5 214.3a0.95 0.95 0 1 0 1.9 0a0.95 0.95 0 1 0 -1.9 0M164.9 216.7a0.95 0.95 0 1 0 1.9 0a0.95 0.95 0 1 0 -1.9 0M172.2 217.6a0.95 0.95 0 1 0 1.9 0a0.95 0.95 0 1 0 -1.9 0M172.0 214.3a0.95 0.95 0 1 0 1.9 0a0.95 0.95 0 1 0 -1.9 0M105.8 218.4a0.95 0.95 0 1 0 1.9 0a0.95 0.95 0 1 0 -1.9 0M106.7 216.8a0.95 0.95 0 1 0 1.9 0a0.95 0.95 0 1 0 -1.9 0M96.1 214.8a0.95 0.95 0 1 0 1.9 0a0.95 0.95 0 1 0 -1.9 0M160.3 215.5a0.95 0.95 0 1 0 1.9 0a0.95 0.95 0 1 0 -1.9 0M122.5 216.6a0.95 0.95 0 1 0 1.9 0a0.95 0.95 0 1 0 -1.9 0M196.7 215.3a0.95 0.95 0 1 0 1.9 0a0.95 0.95 0 1 0 -1.9 0M164.1 215.9a0.95 0.95 0 1 0 1.9 0a0.95 0.95 0 1 0 -1.9 0M167.7 217.2a0.95 0.95 0 1 0 1.9 0a0.95 0.95 0 1 0 -1.9 0M108.5 216.7a0.95 0.95 0 1 0 1.9 0a0.95 0.95 0 1 0 -1.9 0M176.8 215.4a0.95 0.95 0 1 0 1.9 0a0.95 0.95 0 1 0 -1.9 0M146.8 218.2a0.95 0.95 0 1 0 1.9 0a0.95 0.95 0 1 0 -1.9 0M170.8 214.9a0.95 0.95 0 1 0 1.9 0a0.95 0.95 0 1 0 -1.9 0M96.8 214.8a0.95 0.95 0 1 0 1.9 0a0.95 0.95 0 1 0 -1.9 0M195.5 215.9a0.95 0.95 0 1 0 1.9 0a0.95 0.95 0 1 0 -1.9 0M124.5 218.4a0.95 0.95 0 1 0 1.9 0a0.95 0.95 0 1 0 -1.9 0M125.7 216.1a0.95 0.95 0 1 0 1.9 0a0.95 0.95 0 1 0 -1.9 0M119.2 215.9a0.95 0.95 0 1 0 1.9 0a0.95 0.95 0 1 0 -1.9 0M195.1 214.7a0.95 0.95 0 1 0 1.9 0a0.95 0.95 0 1 0 -1.9 0M189.2 215.3a0.95 0.95 0 1 0 1.9 0a0.95 0.95 0 1 0 -1.9 0M159.9 217.8a0.95 0.95 0 1 0 1.9 0a0.95 0.95 0 1 0 -1.9 0M107.5 217.5a0.95 0.95 0 1 0 1.9 0a0.95 0.95 0 1 0 -1.9 0M151.4 217.3a0.95 0.95 0 1 0 1.9 0a0.95 0.95 0 1 0 -1.9 0M120.8 215.8a0.95 0.95 0 1 0 1.9 0a0.95 0.95 0 1 0 -1.9 0M148.2 215.5a0.95 0.95 0 1 0 1.9 0a0.95 0.95 0 1 0 -1.9 0M180.3 216.0a0.95 0.95 0 1 0 1.9 0a0.95 0.95 0 1 0 -1.9 0M192.6 214.7a0.95 0.95 0 1 0 1.9 0a0.95 0.95 0 1 0 -1.9 0M98.6 215.6a0.95 0.95 0 1 0 1.9 0a0.95 0.95 0 1 0 -1.9 0M164.3 216.1a0.95 0.95 0 1 0 1.9 0a0.95 0.95 0 1 0 -1.9 0M103.1 215.4a0.95 0.95 0 1 0 1.9 0a0.95 0.95 0 1 0 -1.9 0M195.5 215.3a0.95 0.95 0 1 0 1.9 0a0.95 0.95 0 1 0 -1.9 0M174.7 215.6a0.95 0.95 0 1 0 1.9 0a0.95 0.95 0 1 0 -1.9 0M171.2 215.6a0.95 0.95 0 1 0 1.9 0a0.95 0.95 0 1 0 -1.9 0M178.1 215.4a0.95 0.95 0 1 0 1.9 0a0.95 0.95 0 1 0 -1.9 0M185.2 215.6a0.95 0.95 0 1 0 1.9 0a0.95 0.95 0 1 0 -1.9 0M163.3 218.3a0.95 0.95 0 1 0 1.9 0a0.95 0.95 0 1 0 -1.9 0M127.6 214.5a0.95 0.95 0 1 0 1.9 0a0.95 0.95 0 1 0 -1.9 0M145.3 218.1a0.95 0.95 0 1 0 1.9 0a0.95 0.95 0 1 0 -1.9 0M153.5 216.1a0.95 0.95 0 1 0 1.9 0a0.95 0.95 0 1 0 -1.9 0M120.6 217.9a0.95 0.95 0 1 0 1.9 0a0.95 0.95 0 1 0 -1.9 0M181.6 214.7a0.95 0.95 0 1 0 1.9 0a0.95 0.95 0 1 0 -1.9 0M172.5 216.1a0.95 0.95 0 1 0 1.9 0a0.95 0.95 0 1 0 -1.9 0M188.1 216.0a0.95 0.95 0 1 0 1.9 0a0.95 0.95 0 1 0 -1.9 0M161.1 218.2a0.95 0.95 0 1 0 1.9 0a0.95 0.95 0 1 0 -1.9 0M167.1 217.2a0.95 0.95 0 1 0 1.9 0a0.95 0.95 0 1 0 -1.9 0M120.8 214.5a0.95 0.95 0 1 0 1.9 0a0.95 0.95 0 1 0 -1.9 0M180.1 215.1a0.95 0.95 0 1 0 1.9 0a0.95 0.95 0 1 0 -1.9 0M115.2 214.6a0.95 0.95 0 1 0 1.9 0a0.95 0.95 0 1 0 -1.9 0M196.3 215.6a0.95 0.95 0 1 0 1.9 0a0.95 0.95 0 1 0 -1.9 0M166.6 214.5a0.95 0.95 0 1 0 1.9 0a0.95 0.95 0 1 0 -1.9 0M126.2 214.2a0.95 0.95 0 1 0 1.9 0a0.95 0.95 0 1 0 -1.9 0M178.2 214.3a0.95 0.95 0 1 0 1.9 0a0.95 0.95 0 1 0 -1.9 0M103.0 215.1a0.95 0.95 0 1 0 1.9 0a0.95 0.95 0 1 0 -1.9 0M127.8 215.7a0.95 0.95 0 1 0 1.9 0a0.95 0.95 0 1 0 -1.9 0M114.6 217.7a0.95 0.95 0 1 0 1.9 0a0.95 0.95 0 1 0 -1.9 0M181.7 216.6a0.95 0.95 0 1 0 1.9 0a0.95 0.95 0 1 0 -1.9 0M145.6 216.1a0.95 0.95 0 1 0 1.9 0a0.95 0.95 0 1 0 -1.9 0M159.1 217.5a0.95 0.95 0 1 0 1.9 0a0.95 0.95 0 1 0 -1.9 0M134.3 216.6a0.95 0.95 0 1 0 1.9 0a0.95 0.95 0 1 0 -1.9 0M115.5 218.0a0.95 0.95 0 1 0 1.9 0a0.95 0.95 0 1 0 -1.9 0M177.9 217.4a0.95 0.95 0 1 0 1.9 0a0.95 0.95 0 1 0 -1.9 0M197.6 214.3a0.95 0.95 0 1 0 1.9 0a0.95 0.95 0 1 0 -1.9 0M105.5 216.2a0.95 0.95 0 1 0 1.9 0a0.95 0.95 0 1 0 -1.9 0M167.6 216.1a0.95 0.95 0 1 0 1.9 0a0.95 0.95 0 1 0 -1.9 0M111.6 216.0a0.95 0.95 0 1 0 1.9 0a0.95 0.95 0 1 0 -1.9 0M112.0 217.4a0.95 0.95 0 1 0 1.9 0a0.95 0.95 0 1 0 -1.9 0M167.1 215.1a0.95 0.95 0 1 0 1.9 0a0.95 0.95 0 1 0 -1.9 0M151.6 217.4a0.95 0.95 0 1 0 1.9 0a0.95 0.95 0 1 0 -1.9 0M171.8 217.9a0.95 0.95 0 1 0 1.9 0a0.95 0.95 0 1 0 -1.9 0M169.1 217.2a0.95 0.95 0 1 0 1.9 0a0.95 0.95 0 1 0 -1.9 0M113.3 214.3a0.95 0.95 0 1 0 1.9 0a0.95 0.95 0 1 0 -1.9 0M169.0 216.8a0.95 0.95 0 1 0 1.9 0a0.95 0.95 0 1 0 -1.9 0M129.4 214.9a0.95 0.95 0 1 0 1.9 0a0.95 0.95 0 1 0 -1.9 0M110.0 215.8a0.95 0.95 0 1 0 1.9 0a0.95 0.95 0 1 0 -1.9 0M177.9 215.7a0.95 0.95 0 1 0 1.9 0a0.95 0.95 0 1 0 -1.9 0M102.6 214.8a0.95 0.95 0 1 0 1.9 0a0.95 0.95 0 1 0 -1.9 0M141.9 218.8a0.95 0.95 0 1 0 1.9 0a0.95 0.95 0 1 0 -1.9 0M176.9 215.8a0.95 0.95 0 1 0 1.9 0a0.95 0.95 0 1 0 -1.9 0M104.9 214.7a0.95 0.95 0 1 0 1.9 0a0.95 0.95 0 1 0 -1.9 0M118.3 214.3a0.95 0.95 0 1 0 1.9 0a0.95 0.95 0 1 0 -1.9 0M167.8 218.2a0.95 0.95 0 1 0 1.9 0a0.95 0.95 0 1 0 -1.9 0M132.5 217.8a0.95 0.95 0 1 0 1.9 0a0.95 0.95 0 1 0 -1.9 0M105.5 214.3a0.95 0.95 0 1 0 1.9 0a0.95 0.95 0 1 0 -1.9 0M180.7 216.6a0.95 0.95 0 1 0 1.9 0a0.95 0.95 0 1 0 -1.9 0M95.7 215.5a0.95 0.95 0 1 0 1.9 0a0.95 0.95 0 1 0 -1.9 0M98.7 215.0a0.95 0.95 0 1 0 1.9 0a0.95 0.95 0 1 0 -1.9 0M186.7 215.4a0.95 0.95 0 1 0 1.9 0a0.95 0.95 0 1 0 -1.9 0M113.3 215.3a0.95 0.95 0 1 0 1.9 0a0.95 0.95 0 1 0 -1.9 0M132.4 214.7a0.95 0.95 0 1 0 1.9 0a0.95 0.95 0 1 0 -1.9 0M104.7 215.1a0.95 0.95 0 1 0 1.9 0a0.95 0.95 0 1 0 -1.9 0M154.3 217.1a0.95 0.95 0 1 0 1.9 0a0.95 0.95 0 1 0 -1.9 0M169.3 214.4a0.95 0.95 0 1 0 1.9 0a0.95 0.95 0 1 0 -1.9 0M134.3 217.3a0.95 0.95 0 1 0 1.9 0a0.95 0.95 0 1 0 -1.9 0M116.9 217.1a0.95 0.95 0 1 0 1.9 0a0.95 0.95 0 1 0 -1.9 0M189.2 215.6a0.95 0.95 0 1 0 1.9 0a0.95 0.95 0 1 0 -1.9 0M116.8 218.5a0.95 0.95 0 1 0 1.9 0a0.95 0.95 0 1 0 -1.9 0M133.4 217.7a0.95 0.95 0 1 0 1.9 0a0.95 0.95 0 1 0 -1.9 0M101.2 217.5a0.95 0.95 0 1 0 1.9 0a0.95 0.95 0 1 0 -1.9 0M95.2 214.3a0.95 0.95 0 1 0 1.9 0a0.95 0.95 0 1 0 -1.9 0M191.6 214.7a0.95 0.95 0 1 0 1.9 0a0.95 0.95 0 1 0 -1.9 0M191.5 215.6a0.95 0.95 0 1 0 1.9 0a0.95 0.95 0 1 0 -1.9 0M172.8 214.6a0.95 0.95 0 1 0 1.9 0a0.95 0.95 0 1 0 -1.9 0M167.7 215.0a0.95 0.95 0 1 0 1.9 0a0.95 0.95 0 1 0 -1.9 0M108.6 216.5a0.95 0.95 0 1 0 1.9 0a0.95 0.95 0 1 0 -1.9 0M176.0 217.3a0.95 0.95 0 1 0 1.9 0a0.95 0.95 0 1 0 -1.9 0M183.0 215.8a0.95 0.95 0 1 0 1.9 0a0.95 0.95 0 1 0 -1.9 0M145.3 217.1a0.95 0.95 0 1 0 1.9 0a0.95 0.95 0 1 0 -1.9 0M150.0 215.5a0.95 0.95 0 1 0 1.9 0a0.95 0.95 0 1 0 -1.9 0M171.5 214.3a0.95 0.95 0 1 0 1.9 0a0.95 0.95 0 1 0 -1.9 0M178.7 215.7a0.95 0.95 0 1 0 1.9 0a0.95 0.95 0 1 0 -1.9 0M161.3 215.2a0.95 0.95 0 1 0 1.9 0a0.95 0.95 0 1 0 -1.9 0M103.0 218.1a0.95 0.95 0 1 0 1.9 0a0.95 0.95 0 1 0 -1.9 0M129.1 214.6a0.95 0.95 0 1 0 1.9 0a0.95 0.95 0 1 0 -1.9 0M182.8 216.7a0.95 0.95 0 1 0 1.9 0a0.95 0.95 0 1 0 -1.9 0M130.7 215.5a0.95 0.95 0 1 0 1.9 0a0.95 0.95 0 1 0 -1.9 0M107.0 216.9a0.95 0.95 0 1 0 1.9 0a0.95 0.95 0 1 0 -1.9 0M174.1 214.2a0.95 0.95 0 1 0 1.9 0a0.95 0.95 0 1 0 -1.9 0M103.3 217.1a0.95 0.95 0 1 0 1.9 0a0.95 0.95 0 1 0 -1.9 0M147.2 216.3a0.95 0.95 0 1 0 1.9 0a0.95 0.95 0 1 0 -1.9 0M157.0 217.2a0.95 0.95 0 1 0 1.9 0a0.95 0.95 0 1 0 -1.9 0M170.2 217.4a0.95 0.95 0 1 0 1.9 0a0.95 0.95 0 1 0 -1.9 0M164.6 218.1a0.95 0.95 0 1 0 1.9 0a0.95 0.95 0 1 0 -1.9 0M185.9 214.7a0.95 0.95 0 1 0 1.9 0a0.95 0.95 0 1 0 -1.9 0M118.3 215.5a0.95 0.95 0 1 0 1.9 0a0.95 0.95 0 1 0 -1.9 0M126.1 214.6a0.95 0.95 0 1 0 1.9 0a0.95 0.95 0 1 0 -1.9 0M197.0 215.3a0.95 0.95 0 1 0 1.9 0a0.95 0.95 0 1 0 -1.9 0M173.4 217.3a0.95 0.95 0 1 0 1.9 0a0.95 0.95 0 1 0 -1.9 0M172.3 215.3a0.95 0.95 0 1 0 1.9 0a0.95 0.95 0 1 0 -1.9 0M116.0 218.1a0.95 0.95 0 1 0 1.9 0a0.95 0.95 0 1 0 -1.9 0M126.6 217.6a0.95 0.95 0 1 0 1.9 0a0.95 0.95 0 1 0 -1.9 0M187.2 216.2a0.95 0.95 0 1 0 1.9 0a0.95 0.95 0 1 0 -1.9 0M102.4 217.3a0.95 0.95 0 1 0 1.9 0a0.95 0.95 0 1 0 -1.9 0M158.8 215.9a0.95 0.95 0 1 0 1.9 0a0.95 0.95 0 1 0 -1.9 0M195.3 214.5a0.95 0.95 0 1 0 1.9 0a0.95 0.95 0 1 0 -1.9 0M161.2 216.7a0.95 0.95 0 1 0 1.9 0a0.95 0.95 0 1 0 -1.9 0M135.1 218.4a0.95 0.95 0 1 0 1.9 0a0.95 0.95 0 1 0 -1.9 0M195.5 214.4a0.95 0.95 0 1 0 1.9 0a0.95 0.95 0 1 0 -1.9 0M119.2 217.3a0.95 0.95 0 1 0 1.9 0a0.95 0.95 0 1 0 -1.9 0M110.1 216.1a0.95 0.95 0 1 0 1.9 0a0.95 0.95 0 1 0 -1.9 0M165.6 217.5a0.95 0.95 0 1 0 1.9 0a0.95 0.95 0 1 0 -1.9 0M165.7 215.1a0.95 0.95 0 1 0 1.9 0a0.95 0.95 0 1 0 -1.9 0M195.2 215.4a0.95 0.95 0 1 0 1.9 0a0.95 0.95 0 1 0 -1.9 0M161.9 217.0a0.95 0.95 0 1 0 1.9 0a0.95 0.95 0 1 0 -1.9 0M123.9 214.5a0.95 0.95 0 1 0 1.9 0a0.95 0.95 0 1 0 -1.9 0M92.6 214.3a0.95 0.95 0 1 0 1.9 0a0.95 0.95 0 1 0 -1.9 0M103.2 216.2a0.95 0.95 0 1 0 1.9 0a0.95 0.95 0 1 0 -1.9 0M165.3 215.4a0.95 0.95 0 1 0 1.9 0a0.95 0.95 0 1 0 -1.9 0M110.3 214.6a0.95 0.95 0 1 0 1.9 0a0.95 0.95 0 1 0 -1.9 0M135.2 217.4a0.95 0.95 0 1 0 1.9 0a0.95 0.95 0 1 0 -1.9 0M169.7 214.6a0.95 0.95 0 1 0 1.9 0a0.95 0.95 0 1 0 -1.9 0M180.6 214.9a0.95 0.95 0 1 0 1.9 0a0.95 0.95 0 1 0 -1.9 0M177.8 216.5a0.95 0.95 0 1 0 1.9 0a0.95 0.95 0 1 0 -1.9 0M92.1 214.2a0.95 0.95 0 1 0 1.9 0a0.95 0.95 0 1 0 -1.9 0M108.1 217.1a0.95 0.95 0 1 0 1.9 0a0.95 0.95 0 1 0 -1.9 0M162.5 215.0a0.95 0.95 0 1 0 1.9 0a0.95 0.95 0 1 0 -1.9 0M101.5 217.7a0.95 0.95 0 1 0 1.9 0a0.95 0.95 0 1 0 -1.9 0M161.5 216.8a0.95 0.95 0 1 0 1.9 0a0.95 0.95 0 1 0 -1.9 0M98.0 214.2a0.95 0.95 0 1 0 1.9 0a0.95 0.95 0 1 0 -1.9 0M105.1 218.4a0.95 0.95 0 1 0 1.9 0a0.95 0.95 0 1 0 -1.9 0M169.1 214.8a0.95 0.95 0 1 0 1.9 0a0.95 0.95 0 1 0 -1.9 0M118.2 215.8a0.95 0.95 0 1 0 1.9 0a0.95 0.95 0 1 0 -1.9 0M103.1 215.2a0.95 0.95 0 1 0 1.9 0a0.95 0.95 0 1 0 -1.9 0M121.9 215.9a0.95 0.95 0 1 0 1.9 0a0.95 0.95 0 1 0 -1.9 0M115.2 215.1a0.95 0.95 0 1 0 1.9 0a0.95 0.95 0 1 0 -1.9 0M132.5 215.8a0.95 0.95 0 1 0 1.9 0a0.95 0.95 0 1 0 -1.9 0M162.7 218.0a0.95 0.95 0 1 0 1.9 0a0.95 0.95 0 1 0 -1.9 0M94.2 214.6a0.95 0.95 0 1 0 1.9 0a0.95 0.95 0 1 0 -1.9 0M101.2 214.6a0.95 0.95 0 1 0 1.9 0a0.95 0.95 0 1 0 -1.9 0M109.8 215.2a0.95 0.95 0 1 0 1.9 0a0.95 0.95 0 1 0 -1.9 0M103.8 214.5a0.95 0.95 0 1 0 1.9 0a0.95 0.95 0 1 0 -1.9 0M141.7 218.5a0.95 0.95 0 1 0 1.9 0a0.95 0.95 0 1 0 -1.9 0M98.8 214.8a0.95 0.95 0 1 0 1.9 0a0.95 0.95 0 1 0 -1.9 0M151.8 218.2a0.95 0.95 0 1 0 1.9 0a0.95 0.95 0 1 0 -1.9 0M183.7 214.5a0.95 0.95 0 1 0 1.9 0a0.95 0.95 0 1 0 -1.9 0M147.7 215.3a0.95 0.95 0 1 0 1.9 0a0.95 0.95 0 1 0 -1.9 0M184.4 214.8a0.95 0.95 0 1 0 1.9 0a0.95 0.95 0 1 0 -1.9 0M119.7 218.3a0.95 0.95 0 1 0 1.9 0a0.95 0.95 0 1 0 -1.9 0M170.0 214.5a0.95 0.95 0 1 0 1.9 0a0.95 0.95 0 1 0 -1.9 0M125.4 215.1a0.95 0.95 0 1 0 1.9 0a0.95 0.95 0 1 0 -1.9 0M130.1 214.7a0.95 0.95 0 1 0 1.9 0a0.95 0.95 0 1 0 -1.9 0M92.2 214.4a0.95 0.95 0 1 0 1.9 0a0.95 0.95 0 1 0 -1.9 0M93.7 214.6a0.95 0.95 0 1 0 1.9 0a0.95 0.95 0 1 0 -1.9 0M149.1 215.3a0.95 0.95 0 1 0 1.9 0a0.95 0.95 0 1 0 -1.9 0M156.4 217.2a0.95 0.95 0 1 0 1.9 0a0.95 0.95 0 1 0 -1.9 0M177.8 217.4a0.95 0.95 0 1 0 1.9 0a0.95 0.95 0 1 0 -1.9 0M183.6 215.2a0.95 0.95 0 1 0 1.9 0a0.95 0.95 0 1 0 -1.9 0M110.7 215.2a0.95 0.95 0 1 0 1.9 0a0.95 0.95 0 1 0 -1.9 0M188.4 214.4a0.95 0.95 0 1 0 1.9 0a0.95 0.95 0 1 0 -1.9 0M94.9 214.7a0.95 0.95 0 1 0 1.9 0a0.95 0.95 0 1 0 -1.9 0M111.7 217.5a0.95 0.95 0 1 0 1.9 0a0.95 0.95 0 1 0 -1.9 0M192.5 215.0a0.95 0.95 0 1 0 1.9 0a0.95 0.95 0 1 0 -1.9 0M92.4 214.5a0.95 0.95 0 1 0 1.9 0a0.95 0.95 0 1 0 -1.9 0M193.5 215.2a0.95 0.95 0 1 0 1.9 0a0.95 0.95 0 1 0 -1.9 0M158.1 215.2a0.95 0.95 0 1 0 1.9 0a0.95 0.95 0 1 0 -1.9 0M112.9 218.6a0.95 0.95 0 1 0 1.9 0a0.95 0.95 0 1 0 -1.9 0M115.5 218.4a0.95 0.95 0 1 0 1.9 0a0.95 0.95 0 1 0 -1.9 0M163.3 214.3a0.95 0.95 0 1 0 1.9 0a0.95 0.95 0 1 0 -1.9 0M156.7 215.4a0.95 0.95 0 1 0 1.9 0a0.95 0.95 0 1 0 -1.9 0M151.7 217.5a0.95 0.95 0 1 0 1.9 0a0.95 0.95 0 1 0 -1.9 0M117.0 214.7a0.95 0.95 0 1 0 1.9 0a0.95 0.95 0 1 0 -1.9 0M107.2 214.8a0.95 0.95 0 1 0 1.9 0a0.95 0.95 0 1 0 -1.9 0M116.4 214.9a0.95 0.95 0 1 0 1.9 0a0.95 0.95 0 1 0 -1.9 0M187.0 215.9a0.95 0.95 0 1 0 1.9 0a0.95 0.95 0 1 0 -1.9 0M194.4 214.7a0.95 0.95 0 1 0 1.9 0a0.95 0.95 0 1 0 -1.9 0M122.3 215.5a0.95 0.95 0 1 0 1.9 0a0.95 0.95 0 1 0 -1.9 0M185.1 215.3a0.95 0.95 0 1 0 1.9 0a0.95 0.95 0 1 0 -1.9 0M182.7 216.6a0.95 0.95 0 1 0 1.9 0a0.95 0.95 0 1 0 -1.9 0M146.4 214.7a0.95 0.95 0 1 0 1.9 0a0.95 0.95 0 1 0 -1.9 0M162.1 216.9a0.95 0.95 0 1 0 1.9 0a0.95 0.95 0 1 0 -1.9 0M188.1 216.5a0.95 0.95 0 1 0 1.9 0a0.95 0.95 0 1 0 -1.9 0M99.3 216.6a0.95 0.95 0 1 0 1.9 0a0.95 0.95 0 1 0 -1.9 0M110.7 217.2a0.95 0.95 0 1 0 1.9 0a0.95 0.95 0 1 0 -1.9 0M116.6 215.8a0.95 0.95 0 1 0 1.9 0a0.95 0.95 0 1 0 -1.9 0M164.2 214.5a0.95 0.95 0 1 0 1.9 0a0.95 0.95 0 1 0 -1.9 0M158.5 216.4a0.95 0.95 0 1 0 1.9 0a0.95 0.95 0 1 0 -1.9 0M177.4 214.2a0.95 0.95 0 1 0 1.9 0a0.95 0.95 0 1 0 -1.9 0M164.3 217.4a0.95 0.95 0 1 0 1.9 0a0.95 0.95 0 1 0 -1.9 0M110.5 218.4a0.95 0.95 0 1 0 1.9 0a0.95 0.95 0 1 0 -1.9 0M116.2 216.1a0.95 0.95 0 1 0 1.9 0a0.95 0.95 0 1 0 -1.9 0M113.4 216.0a0.95 0.95 0 1 0 1.9 0a0.95 0.95 0 1 0 -1.9 0M188.3 214.8a0.95 0.95 0 1 0 1.9 0a0.95 0.95 0 1 0 -1.9 0M129.9 217.1a0.95 0.95 0 1 0 1.9 0a0.95 0.95 0 1 0 -1.9 0M104.8 215.2a0.95 0.95 0 1 0 1.9 0a0.95 0.95 0 1 0 -1.9 0M119.8 214.4a0.95 0.95 0 1 0 1.9 0a0.95 0.95 0 1 0 -1.9 0M99.5 215.8a0.95 0.95 0 1 0 1.9 0a0.95 0.95 0 1 0 -1.9 0M153.4 215.8a0.95 0.95 0 1 0 1.9 0a0.95 0.95 0 1 0 -1.9 0M164.1 214.9a0.95 0.95 0 1 0 1.9 0a0.95 0.95 0 1 0 -1.9 0M195.0 215.6a0.95 0.95 0 1 0 1.9 0a0.95 0.95 0 1 0 -1.9 0M160.4 217.1a0.95 0.95 0 1 0 1.9 0a0.95 0.95 0 1 0 -1.9 0M195.4 214.5a0.95 0.95 0 1 0 1.9 0a0.95 0.95 0 1 0 -1.9 0M123.5 215.3a0.95 0.95 0 1 0 1.9 0a0.95 0.95 0 1 0 -1.9 0M156.0 218.1a0.95 0.95 0 1 0 1.9 0a0.95 0.95 0 1 0 -1.9 0M148.8 217.5a0.95 0.95 0 1 0 1.9 0a0.95 0.95 0 1 0 -1.9 0M98.6 214.2a0.95 0.95 0 1 0 1.9 0a0.95 0.95 0 1 0 -1.9 0M166.2 214.2a0.95 0.95 0 1 0 1.9 0a0.95 0.95 0 1 0 -1.9 0M119.7 217.3a0.95 0.95 0 1 0 1.9 0a0.95 0.95 0 1 0 -1.9 0M93.1 214.3a0.95 0.95 0 1 0 1.9 0a0.95 0.95 0 1 0 -1.9 0M195.8 214.5a0.95 0.95 0 1 0 1.9 0a0.95 0.95 0 1 0 -1.9 0M147.5 215.7a0.95 0.95 0 1 0 1.9 0a0.95 0.95 0 1 0 -1.9 0M97.0 214.4a0.95 0.95 0 1 0 1.9 0a0.95 0.95 0 1 0 -1.9 0M100.9 216.3a0.95 0.95 0 1 0 1.9 0a0.95 0.95 0 1 0 -1.9 0M119.4 217.7a0.95 0.95 0 1 0 1.9 0a0.95 0.95 0 1 0 -1.9 0M128.0 216.4a0.95 0.95 0 1 0 1.9 0a0.95 0.95 0 1 0 -1.9 0M107.7 217.2a0.95 0.95 0 1 0 1.9 0a0.95 0.95 0 1 0 -1.9 0M168.5 215.2a0.95 0.95 0 1 0 1.9 0a0.95 0.95 0 1 0 -1.9 0M177.7 214.5a0.95 0.95 0 1 0 1.9 0a0.95 0.95 0 1 0 -1.9 0M111.7 217.3a0.95 0.95 0 1 0 1.9 0a0.95 0.95 0 1 0 -1.9 0M176.5 215.0a0.95 0.95 0 1 0 1.9 0a0.95 0.95 0 1 0 -1.9 0M162.7 216.8a0.95 0.95 0 1 0 1.9 0a0.95 0.95 0 1 0 -1.9 0M111.9 216.8a0.95 0.95 0 1 0 1.9 0a0.95 0.95 0 1 0 -1.9 0M159.5 215.3a0.95 0.95 0 1 0 1.9 0a0.95 0.95 0 1 0 -1.9 0M169.3 214.3a0.95 0.95 0 1 0 1.9 0a0.95 0.95 0 1 0 -1.9 0M114.9 215.5a0.95 0.95 0 1 0 1.9 0a0.95 0.95 0 1 0 -1.9 0M165.7 216.9a0.95 0.95 0 1 0 1.9 0a0.95 0.95 0 1 0 -1.9 0M113.2 215.6a0.95 0.95 0 1 0 1.9 0a0.95 0.95 0 1 0 -1.9 0M119.2 214.9a0.95 0.95 0 1 0 1.9 0a0.95 0.95 0 1 0 -1.9 0M174.4 217.2a0.95 0.95 0 1 0 1.9 0a0.95 0.95 0 1 0 -1.9 0M194.6 215.7a0.95 0.95 0 1 0 1.9 0a0.95 0.95 0 1 0 -1.9 0M146.5 214.9a0.95 0.95 0 1 0 1.9 0a0.95 0.95 0 1 0 -1.9 0M185.8 215.4a0.95 0.95 0 1 0 1.9 0a0.95 0.95 0 1 0 -1.9 0M104.0 216.4a0.95 0.95 0 1 0 1.9 0a0.95 0.95 0 1 0 -1.9 0M130.2 217.4a0.95 0.95 0 1 0 1.9 0a0.95 0.95 0 1 0 -1.9 0M174.8 214.6a0.95 0.95 0 1 0 1.9 0a0.95 0.95 0 1 0 -1.9 0M132.8 216.3a0.95 0.95 0 1 0 1.9 0a0.95 0.95 0 1 0 -1.9 0M163.3 215.2a0.95 0.95 0 1 0 1.9 0a0.95 0.95 0 1 0 -1.9 0M174.2 215.6a0.95 0.95 0 1 0 1.9 0a0.95 0.95 0 1 0 -1.9 0M191.2 216.2a0.95 0.95 0 1 0 1.9 0a0.95 0.95 0 1 0 -1.9 0M102.4 215.9a0.95 0.95 0 1 0 1.9 0a0.95 0.95 0 1 0 -1.9 0M121.1 214.4a0.95 0.95 0 1 0 1.9 0a0.95 0.95 0 1 0 -1.9 0M189.3 214.5a0.95 0.95 0 1 0 1.9 0a0.95 0.95 0 1 0 -1.9 0M157.9 215.6a0.95 0.95 0 1 0 1.9 0a0.95 0.95 0 1 0 -1.9 0M172.1 217.2a0.95 0.95 0 1 0 1.9 0a0.95 0.95 0 1 0 -1.9 0M100.3 215.4a0.95 0.95 0 1 0 1.9 0a0.95 0.95 0 1 0 -1.9 0M195.1 214.3a0.95 0.95 0 1 0 1.9 0a0.95 0.95 0 1 0 -1.9 0M174.0 214.7a0.95 0.95 0 1 0 1.9 0a0.95 0.95 0 1 0 -1.9 0M98.7 214.6a0.95 0.95 0 1 0 1.9 0a0.95 0.95 0 1 0 -1.9 0M181.0 214.7a0.95 0.95 0 1 0 1.9 0a0.95 0.95 0 1 0 -1.9 0M173.7 215.8a0.95 0.95 0 1 0 1.9 0a0.95 0.95 0 1 0 -1.9 0M104.4 215.3a0.95 0.95 0 1 0 1.9 0a0.95 0.95 0 1 0 -1.9 0M103.7 215.3a0.95 0.95 0 1 0 1.9 0a0.95 0.95 0 1 0 -1.9 0M187.4 216.5a0.95 0.95 0 1 0 1.9 0a0.95 0.95 0 1 0 -1.9 0M194.3 215.3a0.95 0.95 0 1 0 1.9 0a0.95 0.95 0 1 0 -1.9 0M170.3 214.7a0.95 0.95 0 1 0 1.9 0a0.95 0.95 0 1 0 -1.9 0M194.5 214.4a0.95 0.95 0 1 0 1.9 0a0.95 0.95 0 1 0 -1.9 0M127.6 215.3a0.95 0.95 0 1 0 1.9 0a0.95 0.95 0 1 0 -1.9 0M141.7 218.8a0.95 0.95 0 1 0 1.9 0a0.95 0.95 0 1 0 -1.9 0M183.3 215.1a0.95 0.95 0 1 0 1.9 0a0.95 0.95 0 1 0 -1.9 0M171.5 215.5a0.95 0.95 0 1 0 1.9 0a0.95 0.95 0 1 0 -1.9 0M136.2 218.0a0.95 0.95 0 1 0 1.9 0a0.95 0.95 0 1 0 -1.9 0M153.1 214.2a0.95 0.95 0 1 0 1.9 0a0.95 0.95 0 1 0 -1.9 0M156.6 218.3a0.95 0.95 0 1 0 1.9 0a0.95 0.95 0 1 0 -1.9 0M126.4 217.9a0.95 0.95 0 1 0 1.9 0a0.95 0.95 0 1 0 -1.9 0M119.8 215.8a0.95 0.95 0 1 0 1.9 0a0.95 0.95 0 1 0 -1.9 0M129.2 215.9a0.95 0.95 0 1 0 1.9 0a0.95 0.95 0 1 0 -1.9 0M115.6 218.2a0.95 0.95 0 1 0 1.9 0a0.95 0.95 0 1 0 -1.9 0M159.7 218.3a0.95 0.95 0 1 0 1.9 0a0.95 0.95 0 1 0 -1.9 0M117.4 218.2a0.95 0.95 0 1 0 1.9 0a0.95 0.95 0 1 0 -1.9 0M198.0 215.3a0.95 0.95 0 1 0 1.9 0a0.95 0.95 0 1 0 -1.9 0M178.9 215.0a0.95 0.95 0 1 0 1.9 0a0.95 0.95 0 1 0 -1.9 0M132.2 217.9a0.95 0.95 0 1 0 1.9 0a0.95 0.95 0 1 0 -1.9 0M149.3 215.7a0.95 0.95 0 1 0 1.9 0a0.95 0.95 0 1 0 -1.9 0M128.3 217.9a0.95 0.95 0 1 0 1.9 0a0.95 0.95 0 1 0 -1.9 0M186.0 214.6a0.95 0.95 0 1 0 1.9 0a0.95 0.95 0 1 0 -1.9 0M171.4 216.9a0.95 0.95 0 1 0 1.9 0a0.95 0.95 0 1 0 -1.9 0M96.2 215.6a0.95 0.95 0 1 0 1.9 0a0.95 0.95 0 1 0 -1.9 0M175.6 217.0a0.95 0.95 0 1 0 1.9 0a0.95 0.95 0 1 0 -1.9 0M114.2 215.7a0.95 0.95 0 1 0 1.9 0a0.95 0.95 0 1 0 -1.9 0M177.1 215.0a0.95 0.95 0 1 0 1.9 0a0.95 0.95 0 1 0 -1.9 0M98.4 216.0a0.95 0.95 0 1 0 1.9 0a0.95 0.95 0 1 0 -1.9 0M177.7 217.4a0.95 0.95 0 1 0 1.9 0a0.95 0.95 0 1 0 -1.9 0M159.3 218.3a0.95 0.95 0 1 0 1.9 0a0.95 0.95 0 1 0 -1.9 0M188.2 216.0a0.95 0.95 0 1 0 1.9 0a0.95 0.95 0 1 0 -1.9 0M185.4 215.7a0.95 0.95 0 1 0 1.9 0a0.95 0.95 0 1 0 -1.9 0M154.5 218.0a0.95 0.95 0 1 0 1.9 0a0.95 0.95 0 1 0 -1.9 0M186.1 215.9a0.95 0.95 0 1 0 1.9 0a0.95 0.95 0 1 0 -1.9 0M130.2 215.8a0.95 0.95 0 1 0 1.9 0a0.95 0.95 0 1 0 -1.9 0M166.2 214.8a0.95 0.95 0 1 0 1.9 0a0.95 0.95 0 1 0 -1.9 0M94.8 214.9a0.95 0.95 0 1 0 1.9 0a0.95 0.95 0 1 0 -1.9 0M168.5 216.0a0.95 0.95 0 1 0 1.9 0a0.95 0.95 0 1 0 -1.9 0M147.6 218.0a0.95 0.95 0 1 0 1.9 0a0.95 0.95 0 1 0 -1.9 0M129.6 215.2a0.95 0.95 0 1 0 1.9 0a0.95 0.95 0 1 0 -1.9 0M177.6 214.9a0.95 0.95 0 1 0 1.9 0a0.95 0.95 0 1 0 -1.9 0M198.2 214.9a0.95 0.95 0 1 0 1.9 0a0.95 0.95 0 1 0 -1.9 0M167.7 218.2a0.95 0.95 0 1 0 1.9 0a0.95 0.95 0 1 0 -1.9 0M123.6 215.6a0.95 0.95 0 1 0 1.9 0a0.95 0.95 0 1 0 -1.9 0M111.2 216.6a0.95 0.95 0 1 0 1.9 0a0.95 0.95 0 1 0 -1.9 0M163.2 214.9a0.95 0.95 0 1 0 1.9 0a0.95 0.95 0 1 0 -1.9 0M199.0 215.0a0.95 0.95 0 1 0 1.9 0a0.95 0.95 0 1 0 -1.9 0M110.9 218.2a0.95 0.95 0 1 0 1.9 0a0.95 0.95 0 1 0 -1.9 0M173.1 217.5a0.95 0.95 0 1 0 1.9 0a0.95 0.95 0 1 0 -1.9 0M145.3 218.3a0.95 0.95 0 1 0 1.9 0a0.95 0.95 0 1 0 -1.9 0M194.2 215.2a0.95 0.95 0 1 0 1.9 0a0.95 0.95 0 1 0 -1.9 0M151.5 214.9a0.95 0.95 0 1 0 1.9 0a0.95 0.95 0 1 0 -1.9 0M177.8 215.6a0.95 0.95 0 1 0 1.9 0a0.95 0.95 0 1 0 -1.9 0M119.0 215.4a0.95 0.95 0 1 0 1.9 0a0.95 0.95 0 1 0 -1.9 0M146.5 216.4a0.95 0.95 0 1 0 1.9 0a0.95 0.95 0 1 0 -1.9 0M127.8 217.4a0.95 0.95 0 1 0 1.9 0a0.95 0.95 0 1 0 -1.9 0M116.7 215.3a0.95 0.95 0 1 0 1.9 0a0.95 0.95 0 1 0 -1.9 0M110.0 216.9a0.95 0.95 0 1 0 1.9 0a0.95 0.95 0 1 0 -1.9 0M112.9 216.8a0.95 0.95 0 1 0 1.9 0a0.95 0.95 0 1 0 -1.9 0M172.0 217.0a0.95 0.95 0 1 0 1.9 0a0.95 0.95 0 1 0 -1.9 0M120.5 217.9a0.95 0.95 0 1 0 1.9 0a0.95 0.95 0 1 0 -1.9 0M96.7 215.9a0.95 0.95 0 1 0 1.9 0a0.95 0.95 0 1 0 -1.9 0M100.4 214.4a0.95 0.95 0 1 0 1.9 0a0.95 0.95 0 1 0 -1.9 0M164.2 214.9a0.95 0.95 0 1 0 1.9 0a0.95 0.95 0 1 0 -1.9 0M160.0 218.8a0.95 0.95 0 1 0 1.9 0a0.95 0.95 0 1 0 -1.9 0M173.8 215.1a0.95 0.95 0 1 0 1.9 0a0.95 0.95 0 1 0 -1.9 0M108.5 216.0a0.95 0.95 0 1 0 1.9 0a0.95 0.95 0 1 0 -1.9 0M123.8 214.9a0.95 0.95 0 1 0 1.9 0a0.95 0.95 0 1 0 -1.9 0M100.2 214.8a0.95 0.95 0 1 0 1.9 0a0.95 0.95 0 1 0 -1.9 0M196.1 215.0a0.95 0.95 0 1 0 1.9 0a0.95 0.95 0 1 0 -1.9 0M155.0 214.9a0.95 0.95 0 1 0 1.9 0a0.95 0.95 0 1 0 -1.9 0M99.0 216.0a0.95 0.95 0 1 0 1.9 0a0.95 0.95 0 1 0 -1.9 0M165.6 215.9a0.95 0.95 0 1 0 1.9 0a0.95 0.95 0 1 0 -1.9 0M182.8 216.3a0.95 0.95 0 1 0 1.9 0a0.95 0.95 0 1 0 -1.9 0M159.1 218.4a0.95 0.95 0 1 0 1.9 0a0.95 0.95 0 1 0 -1.9 0M150.9 217.2a0.95 0.95 0 1 0 1.9 0a0.95 0.95 0 1 0 -1.9 0M193.6 214.5a0.95 0.95 0 1 0 1.9 0a0.95 0.95 0 1 0 -1.9 0M183.0 216.5a0.95 0.95 0 1 0 1.9 0a0.95 0.95 0 1 0 -1.9 0M164.2 215.8a0.95 0.95 0 1 0 1.9 0a0.95 0.95 0 1 0 -1.9 0M150.4 216.1a0.95 0.95 0 1 0 1.9 0a0.95 0.95 0 1 0 -1.9 0M103.5 218.0a0.95 0.95 0 1 0 1.9 0a0.95 0.95 0 1 0 -1.9 0M93.9 214.5a0.95 0.95 0 1 0 1.9 0a0.95 0.95 0 1 0 -1.9 0M187.7 215.1a0.95 0.95 0 1 0 1.9 0a0.95 0.95 0 1 0 -1.9 0M191.4 215.6a0.95 0.95 0 1 0 1.9 0a0.95 0.95 0 1 0 -1.9 0M127.0 215.9a0.95 0.95 0 1 0 1.9 0a0.95 0.95 0 1 0 -1.9 0M175.9 215.1a0.95 0.95 0 1 0 1.9 0a0.95 0.95 0 1 0 -1.9 0M132.9 215.8a0.95 0.95 0 1 0 1.9 0a0.95 0.95 0 1 0 -1.9 0M149.3 215.5a0.95 0.95 0 1 0 1.9 0a0.95 0.95 0 1 0 -1.9 0M179.8 214.7a0.95 0.95 0 1 0 1.9 0a0.95 0.95 0 1 0 -1.9 0M178.1 214.7a0.95 0.95 0 1 0 1.9 0a0.95 0.95 0 1 0 -1.9 0M97.3 214.7a0.95 0.95 0 1 0 1.9 0a0.95 0.95 0 1 0 -1.9 0M168.8 218.0a0.95 0.95 0 1 0 1.9 0a0.95 0.95 0 1 0 -1.9 0M150.5 218.4a0.95 0.95 0 1 0 1.9 0a0.95 0.95 0 1 0 -1.9 0M191.0 215.1a0.95 0.95 0 1 0 1.9 0a0.95 0.95 0 1 0 -1.9 0M171.8 217.5a0.95 0.95 0 1 0 1.9 0a0.95 0.95 0 1 0 -1.9 0M101.1 217.1a0.95 0.95 0 1 0 1.9 0a0.95 0.95 0 1 0 -1.9 0M167.5 216.9a0.95 0.95 0 1 0 1.9 0a0.95 0.95 0 1 0 -1.9 0M108.5 215.0a0.95 0.95 0 1 0 1.9 0a0.95 0.95 0 1 0 -1.9 0M163.7 218.7a0.95 0.95 0 1 0 1.9 0a0.95 0.95 0 1 0 -1.9 0M196.8 214.9a0.95 0.95 0 1 0 1.9 0a0.95 0.95 0 1 0 -1.9 0M118.4 215.2a0.95 0.95 0 1 0 1.9 0a0.95 0.95 0 1 0 -1.9 0M198.5 215.3a0.95 0.95 0 1 0 1.9 0a0.95 0.95 0 1 0 -1.9 0M110.5 214.9a0.95 0.95 0 1 0 1.9 0a0.95 0.95 0 1 0 -1.9 0M170.7 214.4a0.95 0.95 0 1 0 1.9 0a0.95 0.95 0 1 0 -1.9 0M164.6 214.4a0.95 0.95 0 1 0 1.9 0a0.95 0.95 0 1 0 -1.9 0M176.5 216.2a0.95 0.95 0 1 0 1.9 0a0.95 0.95 0 1 0 -1.9 0M186.2 215.8a0.95 0.95 0 1 0 1.9 0a0.95 0.95 0 1 0 -1.9 0M133.8 218.4a0.95 0.95 0 1 0 1.9 0a0.95 0.95 0 1 0 -1.9 0M189.9 215.5a0.95 0.95 0 1 0 1.9 0a0.95 0.95 0 1 0 -1.9 0M110.0 215.9a0.95 0.95 0 1 0 1.9 0a0.95 0.95 0 1 0 -1.9 0M177.7 216.9a0.95 0.95 0 1 0 1.9 0a0.95 0.95 0 1 0 -1.9 0M177.2 215.6a0.95 0.95 0 1 0 1.9 0a0.95 0.95 0 1 0 -1.9 0M152.6 217.6a0.95 0.95 0 1 0 1.9 0a0.95 0.95 0 1 0 -1.9 0M194.7 216.0a0.95 0.95 0 1 0 1.9 0a0.95 0.95 0 1 0 -1.9 0M157.5 215.7a0.95 0.95 0 1 0 1.9 0a0.95 0.95 0 1 0 -1.9 0M120.1 218.2a0.95 0.95 0 1 0 1.9 0a0.95 0.95 0 1 0 -1.9 0M176.2 217.1a0.95 0.95 0 1 0 1.9 0a0.95 0.95 0 1 0 -1.9 0M165.4 215.6a0.95 0.95 0 1 0 1.9 0a0.95 0.95 0 1 0 -1.9 0M119.4 216.9a0.95 0.95 0 1 0 1.9 0a0.95 0.95 0 1 0 -1.9 0M183.7 215.6a0.95 0.95 0 1 0 1.9 0a0.95 0.95 0 1 0 -1.9 0M190.7 214.4a0.95 0.95 0 1 0 1.9 0a0.95 0.95 0 1 0 -1.9 0M172.8 214.8a0.95 0.95 0 1 0 1.9 0a0.95 0.95 0 1 0 -1.9 0M153.0 218.4a0.95 0.95 0 1 0 1.9 0a0.95 0.95 0 1 0 -1.9 0M137.2 218.5a0.95 0.95 0 1 0 1.9 0a0.95 0.95 0 1 0 -1.9 0M175.0 214.6a0.95 0.95 0 1 0 1.9 0a0.95 0.95 0 1 0 -1.9 0M103.3 217.8a0.95 0.95 0 1 0 1.9 0a0.95 0.95 0 1 0 -1.9 0M169.5 215.3a0.95 0.95 0 1 0 1.9 0a0.95 0.95 0 1 0 -1.9 0M161.1 214.6a0.95 0.95 0 1 0 1.9 0a0.95 0.95 0 1 0 -1.9 0M169.0 215.1a0.95 0.95 0 1 0 1.9 0a0.95 0.95 0 1 0 -1.9 0M121.1 215.8a0.95 0.95 0 1 0 1.9 0a0.95 0.95 0 1 0 -1.9 0M192.9 216.2a0.95 0.95 0 1 0 1.9 0a0.95 0.95 0 1 0 -1.9 0M152.8 217.9a0.95 0.95 0 1 0 1.9 0a0.95 0.95 0 1 0 -1.9 0M140.3 218.2a0.95 0.95 0 1 0 1.9 0a0.95 0.95 0 1 0 -1.9 0M193.7 215.1a0.95 0.95 0 1 0 1.9 0a0.95 0.95 0 1 0 -1.9 0M172.0 214.8a0.95 0.95 0 1 0 1.9 0a0.95 0.95 0 1 0 -1.9 0M96.8 216.1a0.95 0.95 0 1 0 1.9 0a0.95 0.95 0 1 0 -1.9 0M171.0 214.7a0.95 0.95 0 1 0 1.9 0a0.95 0.95 0 1 0 -1.9 0M131.7 215.3a0.95 0.95 0 1 0 1.9 0a0.95 0.95 0 1 0 -1.9 0M94.6 214.7a0.95 0.95 0 1 0 1.9 0a0.95 0.95 0 1 0 -1.9 0M168.7 217.3a0.95 0.95 0 1 0 1.9 0a0.95 0.95 0 1 0 -1.9 0M191.8 214.6a0.95 0.95 0 1 0 1.9 0a0.95 0.95 0 1 0 -1.9 0M179.0 214.6a0.95 0.95 0 1 0 1.9 0a0.95 0.95 0 1 0 -1.9 0M108.7 218.3a0.95 0.95 0 1 0 1.9 0a0.95 0.95 0 1 0 -1.9 0M175.9 215.1a0.95 0.95 0 1 0 1.9 0a0.95 0.95 0 1 0 -1.9 0M114.9 218.2a0.95 0.95 0 1 0 1.9 0a0.95 0.95 0 1 0 -1.9 0M195.9 215.5a0.95 0.95 0 1 0 1.9 0a0.95 0.95 0 1 0 -1.9 0M148.6 218.1a0.95 0.95 0 1 0 1.9 0a0.95 0.95 0 1 0 -1.9 0M101.7 217.5a0.95 0.95 0 1 0 1.9 0a0.95 0.95 0 1 0 -1.9 0M164.7 217.6a0.95 0.95 0 1 0 1.9 0a0.95 0.95 0 1 0 -1.9 0M141.1 218.0a0.95 0.95 0 1 0 1.9 0a0.95 0.95 0 1 0 -1.9 0M190.8 214.6a0.95 0.95 0 1 0 1.9 0a0.95 0.95 0 1 0 -1.9 0M150.9 216.1a0.95 0.95 0 1 0 1.9 0a0.95 0.95 0 1 0 -1.9 0M105.9 216.3a0.95 0.95 0 1 0 1.9 0a0.95 0.95 0 1 0 -1.9 0M120.0 215.8a0.95 0.95 0 1 0 1.9 0a0.95 0.95 0 1 0 -1.9 0M173.3 216.4a0.95 0.95 0 1 0 1.9 0a0.95 0.95 0 1 0 -1.9 0M186.7 215.1a0.95 0.95 0 1 0 1.9 0a0.95 0.95 0 1 0 -1.9 0M197.1 214.4a0.95 0.95 0 1 0 1.9 0a0.95 0.95 0 1 0 -1.9 0M195.5 214.9a0.95 0.95 0 1 0 1.9 0a0.95 0.95 0 1 0 -1.9 0M124.9 214.3a0.95 0.95 0 1 0 1.9 0a0.95 0.95 0 1 0 -1.9 0M104.4 215.5a0.95 0.95 0 1 0 1.9 0a0.95 0.95 0 1 0 -1.9 0M151.9 218.6a0.95 0.95 0 1 0 1.9 0a0.95 0.95 0 1 0 -1.9 0M130.2 218.4a0.95 0.95 0 1 0 1.9 0a0.95 0.95 0 1 0 -1.9 0M149.7 218.2a0.95 0.95 0 1 0 1.9 0a0.95 0.95 0 1 0 -1.9 0M130.0 216.9a0.95 0.95 0 1 0 1.9 0a0.95 0.95 0 1 0 -1.9 0M195.7 214.6a0.95 0.95 0 1 0 1.9 0a0.95 0.95 0 1 0 -1.9 0M98.0 214.2a0.95 0.95 0 1 0 1.9 0a0.95 0.95 0 1 0 -1.9 0M113.3 216.4a0.95 0.95 0 1 0 1.9 0a0.95 0.95 0 1 0 -1.9 0M181.4 216.2a0.95 0.95 0 1 0 1.9 0a0.95 0.95 0 1 0 -1.9 0M191.1 216.3a0.95 0.95 0 1 0 1.9 0a0.95 0.95 0 1 0 -1.9 0M137.1 218.7a0.95 0.95 0 1 0 1.9 0a0.95 0.95 0 1 0 -1.9 0M152.4 214.2a0.95 0.95 0 1 0 1.9 0a0.95 0.95 0 1 0 -1.9 0M188.5 215.6a0.95 0.95 0 1 0 1.9 0a0.95 0.95 0 1 0 -1.9 0M92.5 214.3a0.95 0.95 0 1 0 1.9 0a0.95 0.95 0 1 0 -1.9 0M180.9 214.5a0.95 0.95 0 1 0 1.9 0a0.95 0.95 0 1 0 -1.9 0M119.9 218.1a0.95 0.95 0 1 0 1.9 0a0.95 0.95 0 1 0 -1.9 0M126.0 218.5a0.95 0.95 0 1 0 1.9 0a0.95 0.95 0 1 0 -1.9 0M166.4 214.5a0.95 0.95 0 1 0 1.9 0a0.95 0.95 0 1 0 -1.9 0M197.0 214.4a0.95 0.95 0 1 0 1.9 0a0.95 0.95 0 1 0 -1.9 0M120.3 214.9a0.95 0.95 0 1 0 1.9 0a0.95 0.95 0 1 0 -1.9 0M162.5 218.6a0.95 0.95 0 1 0 1.9 0a0.95 0.95 0 1 0 -1.9 0M198.4 215.1a0.95 0.95 0 1 0 1.9 0a0.95 0.95 0 1 0 -1.9 0M108.5 217.4a0.95 0.95 0 1 0 1.9 0a0.95 0.95 0 1 0 -1.9 0M129.8 218.2a0.95 0.95 0 1 0 1.9 0a0.95 0.95 0 1 0 -1.9 0M106.3 214.9a0.95 0.95 0 1 0 1.9 0a0.95 0.95 0 1 0 -1.9 0M154.6 217.9a0.95 0.95 0 1 0 1.9 0a0.95 0.95 0 1 0 -1.9 0M145.4 216.8a0.95 0.95 0 1 0 1.9 0a0.95 0.95 0 1 0 -1.9 0M92.7 214.2a0.95 0.95 0 1 0 1.9 0a0.95 0.95 0 1 0 -1.9 0M116.6 217.5a0.95 0.95 0 1 0 1.9 0a0.95 0.95 0 1 0 -1.9 0M180.0 215.0a0.95 0.95 0 1 0 1.9 0a0.95 0.95 0 1 0 -1.9 0M127.3 217.6a0.95 0.95 0 1 0 1.9 0a0.95 0.95 0 1 0 -1.9 0M163.4 218.0a0.95 0.95 0 1 0 1.9 0a0.95 0.95 0 1 0 -1.9 0M145.4 218.4a0.95 0.95 0 1 0 1.9 0a0.95 0.95 0 1 0 -1.9 0M110.6 214.5a0.95 0.95 0 1 0 1.9 0a0.95 0.95 0 1 0 -1.9 0M126.9 214.6a0.95 0.95 0 1 0 1.9 0a0.95 0.95 0 1 0 -1.9 0M146.4 218.5a0.95 0.95 0 1 0 1.9 0a0.95 0.95 0 1 0 -1.9 0M107.8 215.5a0.95 0.95 0 1 0 1.9 0a0.95 0.95 0 1 0 -1.9 0M189.3 215.8a0.95 0.95 0 1 0 1.9 0a0.95 0.95 0 1 0 -1.9 0M109.0 214.4a0.95 0.95 0 1 0 1.9 0a0.95 0.95 0 1 0 -1.9 0M182.6 216.1a0.95 0.95 0 1 0 1.9 0a0.95 0.95 0 1 0 -1.9 0M158.6 214.5a0.95 0.95 0 1 0 1.9 0a0.95 0.95 0 1 0 -1.9 0M127.3 214.7a0.95 0.95 0 1 0 1.9 0a0.95 0.95 0 1 0 -1.9 0M168.5 216.3a0.95 0.95 0 1 0 1.9 0a0.95 0.95 0 1 0 -1.9 0M163.4 216.2a0.95 0.95 0 1 0 1.9 0a0.95 0.95 0 1 0 -1.9 0M115.1 216.0a0.95 0.95 0 1 0 1.9 0a0.95 0.95 0 1 0 -1.9 0M100.5 216.4a0.95 0.95 0 1 0 1.9 0a0.95 0.95 0 1 0 -1.9 0M127.2 215.4a0.95 0.95 0 1 0 1.9 0a0.95 0.95 0 1 0 -1.9 0M115.1 216.0a0.95 0.95 0 1 0 1.9 0a0.95 0.95 0 1 0 -1.9 0M98.7 215.6a0.95 0.95 0 1 0 1.9 0a0.95 0.95 0 1 0 -1.9 0M190.4 214.4a0.95 0.95 0 1 0 1.9 0a0.95 0.95 0 1 0 -1.9 0M163.4 216.5a0.95 0.95 0 1 0 1.9 0a0.95 0.95 0 1 0 -1.9 0M122.6 218.3a0.95 0.95 0 1 0 1.9 0a0.95 0.95 0 1 0 -1.9 0M165.1 217.3a0.95 0.95 0 1 0 1.9 0a0.95 0.95 0 1 0 -1.9 0M196.5 214.3a0.95 0.95 0 1 0 1.9 0a0.95 0.95 0 1 0 -1.9 0M177.5 214.6a0.95 0.95 0 1 0 1.9 0a0.95 0.95 0 1 0 -1.9 0M96.9 215.3a0.95 0.95 0 1 0 1.9 0a0.95 0.95 0 1 0 -1.9 0M128.6 217.3a0.95 0.95 0 1 0 1.9 0a0.95 0.95 0 1 0 -1.9 0M168.0 215.4a0.95 0.95 0 1 0 1.9 0a0.95 0.95 0 1 0 -1.9 0M100.9 216.6a0.95 0.95 0 1 0 1.9 0a0.95 0.95 0 1 0 -1.9 0M159.8 214.9a0.95 0.95 0 1 0 1.9 0a0.95 0.95 0 1 0 -1.9 0M168.5 214.7a0.95 0.95 0 1 0 1.9 0a0.95 0.95 0 1 0 -1.9 0M129.2 218.0a0.95 0.95 0 1 0 1.9 0a0.95 0.95 0 1 0 -1.9 0M125.4 218.2a0.95 0.95 0 1 0 1.9 0a0.95 0.95 0 1 0 -1.9 0M184.5 215.8a0.95 0.95 0 1 0 1.9 0a0.95 0.95 0 1 0 -1.9 0M160.6 218.6a0.95 0.95 0 1 0 1.9 0a0.95 0.95 0 1 0 -1.9 0M112.3 216.5a0.95 0.95 0 1 0 1.9 0a0.95 0.95 0 1 0 -1.9 0M127.5 215.8a0.95 0.95 0 1 0 1.9 0a0.95 0.95 0 1 0 -1.9 0M154.6 215.2a0.95 0.95 0 1 0 1.9 0a0.95 0.95 0 1 0 -1.9 0M145.4 216.5a0.95 0.95 0 1 0 1.9 0a0.95 0.95 0 1 0 -1.9 0M162.8 215.1a0.95 0.95 0 1 0 1.9 0a0.95 0.95 0 1 0 -1.9 0M120.8 217.6a0.95 0.95 0 1 0 1.9 0a0.95 0.95 0 1 0 -1.9 0M175.4 216.1a0.95 0.95 0 1 0 1.9 0a0.95 0.95 0 1 0 -1.9 0M191.0 215.3a0.95 0.95 0 1 0 1.9 0a0.95 0.95 0 1 0 -1.9 0M122.4 216.0a0.95 0.95 0 1 0 1.9 0a0.95 0.95 0 1 0 -1.9 0M179.5 215.8a0.95 0.95 0 1 0 1.9 0a0.95 0.95 0 1 0 -1.9 0M114.0 216.2a0.95 0.95 0 1 0 1.9 0a0.95 0.95 0 1 0 -1.9 0M124.1 215.8a0.95 0.95 0 1 0 1.9 0a0.95 0.95 0 1 0 -1.9 0M170.3 215.0a0.95 0.95 0 1 0 1.9 0a0.95 0.95 0 1 0 -1.9 0M175.8 216.5a0.95 0.95 0 1 0 1.9 0a0.95 0.95 0 1 0 -1.9 0M159.7 217.4a0.95 0.95 0 1 0 1.9 0a0.95 0.95 0 1 0 -1.9 0M194.9 215.2a0.95 0.95 0 1 0 1.9 0a0.95 0.95 0 1 0 -1.9 0M195.4 215.6a0.95 0.95 0 1 0 1.9 0a0.95 0.95 0 1 0 -1.9 0M127.4 214.7a0.95 0.95 0 1 0 1.9 0a0.95 0.95 0 1 0 -1.9 0M170.7 216.2a0.95 0.95 0 1 0 1.9 0a0.95 0.95 0 1 0 -1.9 0M120.2 216.3a0.95 0.95 0 1 0 1.9 0a0.95 0.95 0 1 0 -1.9 0M187.8 216.3a0.95 0.95 0 1 0 1.9 0a0.95 0.95 0 1 0 -1.9 0M125.0 218.5a0.95 0.95 0 1 0 1.9 0a0.95 0.95 0 1 0 -1.9 0M108.1 215.4a0.95 0.95 0 1 0 1.9 0a0.95 0.95 0 1 0 -1.9 0M183.1 215.2a0.95 0.95 0 1 0 1.9 0a0.95 0.95 0 1 0 -1.9 0M187.2 215.3a0.95 0.95 0 1 0 1.9 0a0.95 0.95 0 1 0 -1.9 0M174.5 215.6a0.95 0.95 0 1 0 1.9 0a0.95 0.95 0 1 0 -1.9 0M188.6 215.3a0.95 0.95 0 1 0 1.9 0a0.95 0.95 0 1 0 -1.9 0M131.2 217.5a0.95 0.95 0 1 0 1.9 0a0.95 0.95 0 1 0 -1.9 0M164.4 217.1a0.95 0.95 0 1 0 1.9 0a0.95 0.95 0 1 0 -1.9 0M93.3 214.6a0.95 0.95 0 1 0 1.9 0a0.95 0.95 0 1 0 -1.9 0M122.8 215.1a0.95 0.95 0 1 0 1.9 0a0.95 0.95 0 1 0 -1.9 0M189.3 214.7a0.95 0.95 0 1 0 1.9 0a0.95 0.95 0 1 0 -1.9 0M126.2 217.0a0.95 0.95 0 1 0 1.9 0a0.95 0.95 0 1 0 -1.9 0M114.0 215.6a0.95 0.95 0 1 0 1.9 0a0.95 0.95 0 1 0 -1.9 0M130.3 218.2a0.95 0.95 0 1 0 1.9 0a0.95 0.95 0 1 0 -1.9 0M197.6 214.6a0.95 0.95 0 1 0 1.9 0a0.95 0.95 0 1 0 -1.9 0M117.4 216.8a0.95 0.95 0 1 0 1.9 0a0.95 0.95 0 1 0 -1.9 0M95.1 215.2a0.95 0.95 0 1 0 1.9 0a0.95 0.95 0 1 0 -1.9 0M120.1 217.6a0.95 0.95 0 1 0 1.9 0a0.95 0.95 0 1 0 -1.9 0M197.6 214.3a0.95 0.95 0 1 0 1.9 0a0.95 0.95 0 1 0 -1.9 0M115.7 216.9a0.95 0.95 0 1 0 1.9 0a0.95 0.95 0 1 0 -1.9 0M182.0 215.8a0.95 0.95 0 1 0 1.9 0a0.95 0.95 0 1 0 -1.9 0M177.4 214.6a0.95 0.95 0 1 0 1.9 0a0.95 0.95 0 1 0 -1.9 0M172.3 215.9a0.95 0.95 0 1 0 1.9 0a0.95 0.95 0 1 0 -1.9 0M100.9 215.7a0.95 0.95 0 1 0 1.9 0a0.95 0.95 0 1 0 -1.9 0M101.1 214.5a0.95 0.95 0 1 0 1.9 0a0.95 0.95 0 1 0 -1.9 0M122.3 217.3a0.95 0.95 0 1 0 1.9 0a0.95 0.95 0 1 0 -1.9 0M197.1 214.5a0.95 0.95 0 1 0 1.9 0a0.95 0.95 0 1 0 -1.9 0M184.1 214.8a0.95 0.95 0 1 0 1.9 0a0.95 0.95 0 1 0 -1.9 0M129.7 215.7a0.95 0.95 0 1 0 1.9 0a0.95 0.95 0 1 0 -1.9 0M151.9 215.5a0.95 0.95 0 1 0 1.9 0a0.95 0.95 0 1 0 -1.9 0M194.2 214.9a0.95 0.95 0 1 0 1.9 0a0.95 0.95 0 1 0 -1.9 0M162.0 216.6a0.95 0.95 0 1 0 1.9 0a0.95 0.95 0 1 0 -1.9 0M126.5 217.9a0.95 0.95 0 1 0 1.9 0a0.95 0.95 0 1 0 -1.9 0M136.1 218.6a0.95 0.95 0 1 0 1.9 0a0.95 0.95 0 1 0 -1.9 0M162.6 217.3a0.95 0.95 0 1 0 1.9 0a0.95 0.95 0 1 0 -1.9 0M176.4 215.8a0.95 0.95 0 1 0 1.9 0a0.95 0.95 0 1 0 -1.9 0M114.8 218.4a0.95 0.95 0 1 0 1.9 0a0.95 0.95 0 1 0 -1.9 0M164.0 216.5a0.95 0.95 0 1 0 1.9 0a0.95 0.95 0 1 0 -1.9 0M112.4 215.0a0.95 0.95 0 1 0 1.9 0a0.95 0.95 0 1 0 -1.9 0M166.0 215.3a0.95 0.95 0 1 0 1.9 0a0.95 0.95 0 1 0 -1.9 0M105.8 216.9a0.95 0.95 0 1 0 1.9 0a0.95 0.95 0 1 0 -1.9 0M146.1 215.6a0.95 0.95 0 1 0 1.9 0a0.95 0.95 0 1 0 -1.9 0M105.5 216.3a0.95 0.95 0 1 0 1.9 0a0.95 0.95 0 1 0 -1.9 0M105.6 215.6a0.95 0.95 0 1 0 1.9 0a0.95 0.95 0 1 0 -1.9 0M150.0 217.0a0.95 0.95 0 1 0 1.9 0a0.95 0.95 0 1 0 -1.9 0M152.8 215.2a0.95 0.95 0 1 0 1.9 0a0.95 0.95 0 1 0 -1.9 0M180.7 216.0a0.95 0.95 0 1 0 1.9 0a0.95 0.95 0 1 0 -1.9 0M130.4 216.2a0.95 0.95 0 1 0 1.9 0a0.95 0.95 0 1 0 -1.9 0M179.8 216.3a0.95 0.95 0 1 0 1.9 0a0.95 0.95 0 1 0 -1.9 0M157.1 214.4a0.95 0.95 0 1 0 1.9 0a0.95 0.95 0 1 0 -1.9 0M196.0 215.5a0.95 0.95 0 1 0 1.9 0a0.95 0.95 0 1 0 -1.9 0M182.4 214.7a0.95 0.95 0 1 0 1.9 0a0.95 0.95 0 1 0 -1.9 0M147.3 214.3a0.95 0.95 0 1 0 1.9 0a0.95 0.95 0 1 0 -1.9 0M138.6 218.0a0.95 0.95 0 1 0 1.9 0a0.95 0.95 0 1 0 -1.9 0M148.6 218.2a0.95 0.95 0 1 0 1.9 0a0.95 0.95 0 1 0 -1.9 0M127.4 214.5a0.95 0.95 0 1 0 1.9 0a0.95 0.95 0 1 0 -1.9 0M158.5 214.8a0.95 0.95 0 1 0 1.9 0a0.95 0.95 0 1 0 -1.9 0M122.6 215.4a0.95 0.95 0 1 0 1.9 0a0.95 0.95 0 1 0 -1.9 0M188.8 216.3a0.95 0.95 0 1 0 1.9 0a0.95 0.95 0 1 0 -1.9 0M138.6 217.9a0.95 0.95 0 1 0 1.9 0a0.95 0.95 0 1 0 -1.9 0M191.1 216.0a0.95 0.95 0 1 0 1.9 0a0.95 0.95 0 1 0 -1.9 0M115.6 214.6a0.95 0.95 0 1 0 1.9 0a0.95 0.95 0 1 0 -1.9 0M150.7 217.0a0.95 0.95 0 1 0 1.9 0a0.95 0.95 0 1 0 -1.9 0M106.5 217.3a0.95 0.95 0 1 0 1.9 0a0.95 0.95 0 1 0 -1.9 0M175.9 215.8a0.95 0.95 0 1 0 1.9 0a0.95 0.95 0 1 0 -1.9 0M194.3 214.7a0.95 0.95 0 1 0 1.9 0a0.95 0.95 0 1 0 -1.9 0M180.8 215.0a0.95 0.95 0 1 0 1.9 0a0.95 0.95 0 1 0 -1.9 0M133.8 215.2a0.95 0.95 0 1 0 1.9 0a0.95 0.95 0 1 0 -1.9 0M194.1 214.9a0.95 0.95 0 1 0 1.9 0a0.95 0.95 0 1 0 -1.9 0M172.4 217.1a0.95 0.95 0 1 0 1.9 0a0.95 0.95 0 1 0 -1.9 0M129.6 215.1a0.95 0.95 0 1 0 1.9 0a0.95 0.95 0 1 0 -1.9 0M170.1 216.9a0.95 0.95 0 1 0 1.9 0a0.95 0.95 0 1 0 -1.9 0M147.7 214.9a0.95 0.95 0 1 0 1.9 0a0.95 0.95 0 1 0 -1.9 0M176.0 214.9a0.95 0.95 0 1 0 1.9 0a0.95 0.95 0 1 0 -1.9 0M129.2 217.8a0.95 0.95 0 1 0 1.9 0a0.95 0.95 0 1 0 -1.9 0M120.9 217.0a0.95 0.95 0 1 0 1.9 0a0.95 0.95 0 1 0 -1.9 0M131.8 216.7a0.95 0.95 0 1 0 1.9 0a0.95 0.95 0 1 0 -1.9 0M177.3 215.1a0.95 0.95 0 1 0 1.9 0a0.95 0.95 0 1 0 -1.9 0M150.7 217.0a0.95 0.95 0 1 0 1.9 0a0.95 0.95 0 1 0 -1.9 0M104.6 217.6a0.95 0.95 0 1 0 1.9 0a0.95 0.95 0 1 0 -1.9 0M184.2 216.4a0.95 0.95 0 1 0 1.9 0a0.95 0.95 0 1 0 -1.9 0M179.1 215.6a0.95 0.95 0 1 0 1.9 0a0.95 0.95 0 1 0 -1.9 0M194.0 214.6a0.95 0.95 0 1 0 1.9 0a0.95 0.95 0 1 0 -1.9 0M107.2 215.2a0.95 0.95 0 1 0 1.9 0a0.95 0.95 0 1 0 -1.9 0M133.0 214.9a0.95 0.95 0 1 0 1.9 0a0.95 0.95 0 1 0 -1.9 0M153.4 215.1a0.95 0.95 0 1 0 1.9 0a0.95 0.95 0 1 0 -1.9 0M149.1 216.2a0.95 0.95 0 1 0 1.9 0a0.95 0.95 0 1 0 -1.9 0M181.4 214.3a0.95 0.95 0 1 0 1.9 0a0.95 0.95 0 1 0 -1.9 0M112.6 214.4a0.95 0.95 0 1 0 1.9 0a0.95 0.95 0 1 0 -1.9 0M152.6 216.7a0.95 0.95 0 1 0 1.9 0a0.95 0.95 0 1 0 -1.9 0M175.4 215.3a0.95 0.95 0 1 0 1.9 0a0.95 0.95 0 1 0 -1.9 0M115.7 216.7a0.95 0.95 0 1 0 1.9 0a0.95 0.95 0 1 0 -1.9 0M131.2 216.3a0.95 0.95 0 1 0 1.9 0a0.95 0.95 0 1 0 -1.9 0M160.5 217.4a0.95 0.95 0 1 0 1.9 0a0.95 0.95 0 1 0 -1.9 0M150.5 217.6a0.95 0.95 0 1 0 1.9 0a0.95 0.95 0 1 0 -1.9 0M117.9 214.6a0.95 0.95 0 1 0 1.9 0a0.95 0.95 0 1 0 -1.9 0M100.4 215.7a0.95 0.95 0 1 0 1.9 0a0.95 0.95 0 1 0 -1.9 0M123.5 216.2a0.95 0.95 0 1 0 1.9 0a0.95 0.95 0 1 0 -1.9 0M176.2 216.7a0.95 0.95 0 1 0 1.9 0a0.95 0.95 0 1 0 -1.9 0M115.2 214.2a0.95 0.95 0 1 0 1.9 0a0.95 0.95 0 1 0 -1.9 0M102.7 216.9a0.95 0.95 0 1 0 1.9 0a0.95 0.95 0 1 0 -1.9 0M172.8 215.8a0.95 0.95 0 1 0 1.9 0a0.95 0.95 0 1 0 -1.9 0M133.4 215.6a0.95 0.95 0 1 0 1.9 0a0.95 0.95 0 1 0 -1.9 0M193.4 215.2a0.95 0.95 0 1 0 1.9 0a0.95 0.95 0 1 0 -1.9 0M138.3 217.7a0.95 0.95 0 1 0 1.9 0a0.95 0.95 0 1 0 -1.9 0M134.9 218.3a0.95 0.95 0 1 0 1.9 0a0.95 0.95 0 1 0 -1.9 0M162.4 216.8a0.95 0.95 0 1 0 1.9 0a0.95 0.95 0 1 0 -1.9 0M153.1 215.3a0.95 0.95 0 1 0 1.9 0a0.95 0.95 0 1 0 -1.9 0M184.4 214.4a0.95 0.95 0 1 0 1.9 0a0.95 0.95 0 1 0 -1.9 0M158.8 217.1a0.95 0.95 0 1 0 1.9 0a0.95 0.95 0 1 0 -1.9 0M123.5 217.3a0.95 0.95 0 1 0 1.9 0a0.95 0.95 0 1 0 -1.9 0M113.1 217.0a0.95 0.95 0 1 0 1.9 0a0.95 0.95 0 1 0 -1.9 0M162.1 214.3a0.95 0.95 0 1 0 1.9 0a0.95 0.95 0 1 0 -1.9 0M126.1 216.8a0.95 0.95 0 1 0 1.9 0a0.95 0.95 0 1 0 -1.9 0M104.9 217.1a0.95 0.95 0 1 0 1.9 0a0.95 0.95 0 1 0 -1.9 0M176.4 215.3a0.95 0.95 0 1 0 1.9 0a0.95 0.95 0 1 0 -1.9 0M178.3 214.6a0.95 0.95 0 1 0 1.9 0a0.95 0.95 0 1 0 -1.9 0M169.2 215.7a0.95 0.95 0 1 0 1.9 0a0.95 0.95 0 1 0 -1.9 0M133.7 216.4a0.95 0.95 0 1 0 1.9 0a0.95 0.95 0 1 0 -1.9 0M104.3 216.5a0.95 0.95 0 1 0 1.9 0a0.95 0.95 0 1 0 -1.9 0M195.5 214.9a0.95 0.95 0 1 0 1.9 0a0.95 0.95 0 1 0 -1.9 0M115.7 218.5a0.95 0.95 0 1 0 1.9 0a0.95 0.95 0 1 0 -1.9 0M160.8 218.0a0.95 0.95 0 1 0 1.9 0a0.95 0.95 0 1 0 -1.9 0M172.6 215.3a0.95 0.95 0 1 0 1.9 0a0.95 0.95 0 1 0 -1.9 0M95.6 214.8a0.95 0.95 0 1 0 1.9 0a0.95 0.95 0 1 0 -1.9 0M113.0 216.1a0.95 0.95 0 1 0 1.9 0a0.95 0.95 0 1 0 -1.9 0M120.9 214.9a0.95 0.95 0 1 0 1.9 0a0.95 0.95 0 1 0 -1.9 0M137.0 218.5a0.95 0.95 0 1 0 1.9 0a0.95 0.95 0 1 0 -1.9 0M116.8 216.7a0.95 0.95 0 1 0 1.9 0a0.95 0.95 0 1 0 -1.9 0M94.7 214.7a0.95 0.95 0 1 0 1.9 0a0.95 0.95 0 1 0 -1.9 0M123.8 216.8a0.95 0.95 0 1 0 1.9 0a0.95 0.95 0 1 0 -1.9 0M97.9 216.3a0.95 0.95 0 1 0 1.9 0a0.95 0.95 0 1 0 -1.9 0M131.6 214.8a0.95 0.95 0 1 0 1.9 0a0.95 0.95 0 1 0 -1.9 0M92.8 214.3a0.95 0.95 0 1 0 1.9 0a0.95 0.95 0 1 0 -1.9 0M99.9 214.5a0.95 0.95 0 1 0 1.9 0a0.95 0.95 0 1 0 -1.9 0M147.0 214.8a0.95 0.95 0 1 0 1.9 0a0.95 0.95 0 1 0 -1.9 0M171.2 214.6a0.95 0.95 0 1 0 1.9 0a0.95 0.95 0 1 0 -1.9 0M135.1 216.9a0.95 0.95 0 1 0 1.9 0a0.95 0.95 0 1 0 -1.9 0M101.9 214.4a0.95 0.95 0 1 0 1.9 0a0.95 0.95 0 1 0 -1.9 0M154.5 217.5a0.95 0.95 0 1 0 1.9 0a0.95 0.95 0 1 0 -1.9 0M154.3 215.6a0.95 0.95 0 1 0 1.9 0a0.95 0.95 0 1 0 -1.9 0M160.4 214.6a0.95 0.95 0 1 0 1.9 0a0.95 0.95 0 1 0 -1.9 0M103.5 216.3a0.95 0.95 0 1 0 1.9 0a0.95 0.95 0 1 0 -1.9 0M168.8 215.8a0.95 0.95 0 1 0 1.9 0a0.95 0.95 0 1 0 -1.9 0M187.4 214.9a0.95 0.95 0 1 0 1.9 0a0.95 0.95 0 1 0 -1.9 0M187.4 216.7a0.95 0.95 0 1 0 1.9 0a0.95 0.95 0 1 0 -1.9 0M118.8 217.8a0.95 0.95 0 1 0 1.9 0a0.95 0.95 0 1 0 -1.9 0M113.1 218.6a0.95 0.95 0 1 0 1.9 0a0.95 0.95 0 1 0 -1.9 0M178.5 216.0a0.95 0.95 0 1 0 1.9 0a0.95 0.95 0 1 0 -1.9 0M184.3 214.7a0.95 0.95 0 1 0 1.9 0a0.95 0.95 0 1 0 -1.9 0M157.6 215.1a0.95 0.95 0 1 0 1.9 0a0.95 0.95 0 1 0 -1.9 0M168.1 214.6a0.95 0.95 0 1 0 1.9 0a0.95 0.95 0 1 0 -1.9 0M102.3 216.0a0.95 0.95 0 1 0 1.9 0a0.95 0.95 0 1 0 -1.9 0M165.3 214.4a0.95 0.95 0 1 0 1.9 0a0.95 0.95 0 1 0 -1.9 0M194.7 214.9a0.95 0.95 0 1 0 1.9 0a0.95 0.95 0 1 0 -1.9 0M131.5 217.3a0.95 0.95 0 1 0 1.9 0a0.95 0.95 0 1 0 -1.9 0M161.3 216.1a0.95 0.95 0 1 0 1.9 0a0.95 0.95 0 1 0 -1.9 0M146.7 215.1a0.95 0.95 0 1 0 1.9 0a0.95 0.95 0 1 0 -1.9 0M195.3 215.6a0.95 0.95 0 1 0 1.9 0a0.95 0.95 0 1 0 -1.9 0M141.3 218.1a0.95 0.95 0 1 0 1.9 0a0.95 0.95 0 1 0 -1.9 0M171.3 217.0a0.95 0.95 0 1 0 1.9 0a0.95 0.95 0 1 0 -1.9 0M181.1 216.9a0.95 0.95 0 1 0 1.9 0a0.95 0.95 0 1 0 -1.9 0M176.1 215.9a0.95 0.95 0 1 0 1.9 0a0.95 0.95 0 1 0 -1.9 0M130.8 217.7a0.95 0.95 0 1 0 1.9 0a0.95 0.95 0 1 0 -1.9 0M182.3 216.2a0.95 0.95 0 1 0 1.9 0a0.95 0.95 0 1 0 -1.9 0M107.9 216.7a0.95 0.95 0 1 0 1.9 0a0.95 0.95 0 1 0 -1.9 0M127.4 214.7a0.95 0.95 0 1 0 1.9 0a0.95 0.95 0 1 0 -1.9 0M168.5 215.1a0.95 0.95 0 1 0 1.9 0a0.95 0.95 0 1 0 -1.9 0M126.6 217.9a0.95 0.95 0 1 0 1.9 0a0.95 0.95 0 1 0 -1.9 0M92.4 214.5a0.95 0.95 0 1 0 1.9 0a0.95 0.95 0 1 0 -1.9 0M194.8 214.6a0.95 0.95 0 1 0 1.9 0a0.95 0.95 0 1 0 -1.9 0M93.7 214.3a0.95 0.95 0 1 0 1.9 0a0.95 0.95 0 1 0 -1.9 0M153.9 216.5a0.95 0.95 0 1 0 1.9 0a0.95 0.95 0 1 0 -1.9 0M122.0 218.5a0.95 0.95 0 1 0 1.9 0a0.95 0.95 0 1 0 -1.9 0M197.9 215.6a0.95 0.95 0 1 0 1.9 0a0.95 0.95 0 1 0 -1.9 0M182.7 214.3a0.95 0.95 0 1 0 1.9 0a0.95 0.95 0 1 0 -1.9 0M178.5 216.5a0.95 0.95 0 1 0 1.9 0a0.95 0.95 0 1 0 -1.9 0M178.8 214.7a0.95 0.95 0 1 0 1.9 0a0.95 0.95 0 1 0 -1.9 0M119.8 216.0a0.95 0.95 0 1 0 1.9 0a0.95 0.95 0 1 0 -1.9 0M167.5 216.7a0.95 0.95 0 1 0 1.9 0a0.95 0.95 0 1 0 -1.9 0M158.9 217.0a0.95 0.95 0 1 0 1.9 0a0.95 0.95 0 1 0 -1.9 0M178.8 216.1a0.95 0.95 0 1 0 1.9 0a0.95 0.95 0 1 0 -1.9 0M191.3 215.0a0.95 0.95 0 1 0 1.9 0a0.95 0.95 0 1 0 -1.9 0M127.0 217.3a0.95 0.95 0 1 0 1.9 0a0.95 0.95 0 1 0 -1.9 0M160.8 217.2a0.95 0.95 0 1 0 1.9 0a0.95 0.95 0 1 0 -1.9 0M175.1 215.8a0.95 0.95 0 1 0 1.9 0a0.95 0.95 0 1 0 -1.9 0M173.1 215.4a0.95 0.95 0 1 0 1.9 0a0.95 0.95 0 1 0 -1.9 0M158.0 217.9a0.95 0.95 0 1 0 1.9 0a0.95 0.95 0 1 0 -1.9 0M164.9 218.2a0.95 0.95 0 1 0 1.9 0a0.95 0.95 0 1 0 -1.9 0M105.7 216.4a0.95 0.95 0 1 0 1.9 0a0.95 0.95 0 1 0 -1.9 0M193.6 216.1a0.95 0.95 0 1 0 1.9 0a0.95 0.95 0 1 0 -1.9 0M176.7 216.4a0.95 0.95 0 1 0 1.9 0a0.95 0.95 0 1 0 -1.9 0M196.0 214.5a0.95 0.95 0 1 0 1.9 0a0.95 0.95 0 1 0 -1.9 0M194.1 215.0a0.95 0.95 0 1 0 1.9 0a0.95 0.95 0 1 0 -1.9 0M175.3 216.3a0.95 0.95 0 1 0 1.9 0a0.95 0.95 0 1 0 -1.9 0M124.0 216.4a0.95 0.95 0 1 0 1.9 0a0.95 0.95 0 1 0 -1.9 0M160.8 216.5a0.95 0.95 0 1 0 1.9 0a0.95 0.95 0 1 0 -1.9 0M156.6 218.8a0.95 0.95 0 1 0 1.9 0a0.95 0.95 0 1 0 -1.9 0M127.3 214.3a0.95 0.95 0 1 0 1.9 0a0.95 0.95 0 1 0 -1.9 0M97.0 215.0a0.95 0.95 0 1 0 1.9 0a0.95 0.95 0 1 0 -1.9 0M166.4 218.4a0.95 0.95 0 1 0 1.9 0a0.95 0.95 0 1 0 -1.9 0M132.5 215.4a0.95 0.95 0 1 0 1.9 0a0.95 0.95 0 1 0 -1.9 0M98.1 215.5a0.95 0.95 0 1 0 1.9 0a0.95 0.95 0 1 0 -1.9 0M102.1 216.9a0.95 0.95 0 1 0 1.9 0a0.95 0.95 0 1 0 -1.9 0M155.7 214.7a0.95 0.95 0 1 0 1.9 0a0.95 0.95 0 1 0 -1.9 0M185.1 216.9a0.95 0.95 0 1 0 1.9 0a0.95 0.95 0 1 0 -1.9 0M96.0 215.6a0.95 0.95 0 1 0 1.9 0a0.95 0.95 0 1 0 -1.9 0M120.9 218.2a0.95 0.95 0 1 0 1.9 0a0.95 0.95 0 1 0 -1.9 0M187.7 214.8a0.95 0.95 0 1 0 1.9 0a0.95 0.95 0 1 0 -1.9 0M132.0 215.5a0.95 0.95 0 1 0 1.9 0a0.95 0.95 0 1 0 -1.9 0M157.6 215.7a0.95 0.95 0 1 0 1.9 0a0.95 0.95 0 1 0 -1.9 0M191.3 215.4a0.95 0.95 0 1 0 1.9 0a0.95 0.95 0 1 0 -1.9 0M169.5 218.2a0.95 0.95 0 1 0 1.9 0a0.95 0.95 0 1 0 -1.9 0M148.7 217.4a0.95 0.95 0 1 0 1.9 0a0.95 0.95 0 1 0 -1.9 0M92.6 214.3a0.95 0.95 0 1 0 1.9 0a0.95 0.95 0 1 0 -1.9 0M161.1 217.9a0.95 0.95 0 1 0 1.9 0a0.95 0.95 0 1 0 -1.9 0M132.2 215.2a0.95 0.95 0 1 0 1.9 0a0.95 0.95 0 1 0 -1.9 0M148.2 217.0a0.95 0.95 0 1 0 1.9 0a0.95 0.95 0 1 0 -1.9 0M154.4 218.6a0.95 0.95 0 1 0 1.9 0a0.95 0.95 0 1 0 -1.9 0M193.8 214.7a0.95 0.95 0 1 0 1.9 0a0.95 0.95 0 1 0 -1.9 0M132.7 215.7a0.95 0.95 0 1 0 1.9 0a0.95 0.95 0 1 0 -1.9 0M109.9 216.7a0.95 0.95 0 1 0 1.9 0a0.95 0.95 0 1 0 -1.9 0M192.1 214.2a0.95 0.95 0 1 0 1.9 0a0.95 0.95 0 1 0 -1.9 0M144.3 218.5a0.95 0.95 0 1 0 1.9 0a0.95 0.95 0 1 0 -1.9 0M181.9 215.4a0.95 0.95 0 1 0 1.9 0a0.95 0.95 0 1 0 -1.9 0M191.3 214.3a0.95 0.95 0 1 0 1.9 0a0.95 0.95 0 1 0 -1.9 0M107.9 214.8a0.95 0.95 0 1 0 1.9 0a0.95 0.95 0 1 0 -1.9 0M166.7 216.7a0.95 0.95 0 1 0 1.9 0a0.95 0.95 0 1 0 -1.9 0M177.6 215.9a0.95 0.95 0 1 0 1.9 0a0.95 0.95 0 1 0 -1.9 0M179.7 216.8a0.95 0.95 0 1 0 1.9 0a0.95 0.95 0 1 0 -1.9 0M192.5 215.9a0.95 0.95 0 1 0 1.9 0a0.95 0.95 0 1 0 -1.9 0M184.7 216.5a0.95 0.95 0 1 0 1.9 0a0.95 0.95 0 1 0 -1.9 0M173.8 217.1a0.95 0.95 0 1 0 1.9 0a0.95 0.95 0 1 0 -1.9 0M181.0 217.2a0.95 0.95 0 1 0 1.9 0a0.95 0.95 0 1 0 -1.9 0M181.1 217.0a0.95 0.95 0 1 0 1.9 0a0.95 0.95 0 1 0 -1.9 0M164.9 217.3a0.95 0.95 0 1 0 1.9 0a0.95 0.95 0 1 0 -1.9 0M152.3 215.5a0.95 0.95 0 1 0 1.9 0a0.95 0.95 0 1 0 -1.9 0M149.7 214.8a0.95 0.95 0 1 0 1.9 0a0.95 0.95 0 1 0 -1.9 0M187.1 214.8a0.95 0.95 0 1 0 1.9 0a0.95 0.95 0 1 0 -1.9 0M163.8 214.8a0.95 0.95 0 1 0 1.9 0a0.95 0.95 0 1 0 -1.9 0M173.8 215.3a0.95 0.95 0 1 0 1.9 0a0.95 0.95 0 1 0 -1.9 0M121.5 217.6a0.95 0.95 0 1 0 1.9 0a0.95 0.95 0 1 0 -1.9 0M179.1 214.7a0.95 0.95 0 1 0 1.9 0a0.95 0.95 0 1 0 -1.9 0M128.7 218.1a0.95 0.95 0 1 0 1.9 0a0.95 0.95 0 1 0 -1.9 0M99.0 216.2a0.95 0.95 0 1 0 1.9 0a0.95 0.95 0 1 0 -1.9 0M163.2 214.6a0.95 0.95 0 1 0 1.9 0a0.95 0.95 0 1 0 -1.9 0M162.7 218.2a0.95 0.95 0 1 0 1.9 0a0.95 0.95 0 1 0 -1.9 0M127.8 215.3a0.95 0.95 0 1 0 1.9 0a0.95 0.95 0 1 0 -1.9 0M168.2 217.5a0.95 0.95 0 1 0 1.9 0a0.95 0.95 0 1 0 -1.9 0M166.6 214.8a0.95 0.95 0 1 0 1.9 0a0.95 0.95 0 1 0 -1.9 0M122.7 215.4a0.95 0.95 0 1 0 1.9 0a0.95 0.95 0 1 0 -1.9 0M114.2 215.6a0.95 0.95 0 1 0 1.9 0a0.95 0.95 0 1 0 -1.9 0M184.4 216.0a0.95 0.95 0 1 0 1.9 0a0.95 0.95 0 1 0 -1.9 0M132.1 218.3a0.95 0.95 0 1 0 1.9 0a0.95 0.95 0 1 0 -1.9 0M184.2 214.9a0.95 0.95 0 1 0 1.9 0a0.95 0.95 0 1 0 -1.9 0M102.2 216.1a0.95 0.95 0 1 0 1.9 0a0.95 0.95 0 1 0 -1.9 0M108.0 216.1a0.95 0.95 0 1 0 1.9 0a0.95 0.95 0 1 0 -1.9 0M181.7 216.9a0.95 0.95 0 1 0 1.9 0a0.95 0.95 0 1 0 -1.9 0M104.4 217.0a0.95 0.95 0 1 0 1.9 0a0.95 0.95 0 1 0 -1.9 0M190.8 215.6a0.95 0.95 0 1 0 1.9 0a0.95 0.95 0 1 0 -1.9 0M146.7 215.5a0.95 0.95 0 1 0 1.9 0a0.95 0.95 0 1 0 -1.9 0M141.6 218.4a0.95 0.95 0 1 0 1.9 0a0.95 0.95 0 1 0 -1.9 0M191.1 215.2a0.95 0.95 0 1 0 1.9 0a0.95 0.95 0 1 0 -1.9 0M106.1 218.3a0.95 0.95 0 1 0 1.9 0a0.95 0.95 0 1 0 -1.9 0M185.3 215.3a0.95 0.95 0 1 0 1.9 0a0.95 0.95 0 1 0 -1.9 0M93.8 214.9a0.95 0.95 0 1 0 1.9 0a0.95 0.95 0 1 0 -1.9 0M131.5 217.8a0.95 0.95 0 1 0 1.9 0a0.95 0.95 0 1 0 -1.9 0M172.3 216.0a0.95 0.95 0 1 0 1.9 0a0.95 0.95 0 1 0 -1.9 0M112.3 217.7a0.95 0.95 0 1 0 1.9 0a0.95 0.95 0 1 0 -1.9 0M100.7 217.3a0.95 0.95 0 1 0 1.9 0a0.95 0.95 0 1 0 -1.9 0M131.6 216.0a0.95 0.95 0 1 0 1.9 0a0.95 0.95 0 1 0 -1.9 0M187.2 216.6a0.95 0.95 0 1 0 1.9 0a0.95 0.95 0 1 0 -1.9 0M130.5 214.7a0.95 0.95 0 1 0 1.9 0a0.95 0.95 0 1 0 -1.9 0M147.1 216.9a0.95 0.95 0 1 0 1.9 0a0.95 0.95 0 1 0 -1.9 0M197.2 214.9a0.95 0.95 0 1 0 1.9 0a0.95 0.95 0 1 0 -1.9 0M192.5 215.4a0.95 0.95 0 1 0 1.9 0a0.95 0.95 0 1 0 -1.9 0M125.1 216.4a0.95 0.95 0 1 0 1.9 0a0.95 0.95 0 1 0 -1.9 0M196.8 215.1a0.95 0.95 0 1 0 1.9 0a0.95 0.95 0 1 0 -1.9 0M96.8 214.5a0.95 0.95 0 1 0 1.9 0a0.95 0.95 0 1 0 -1.9 0M175.6 217.4a0.95 0.95 0 1 0 1.9 0a0.95 0.95 0 1 0 -1.9 0M175.3 215.8a0.95 0.95 0 1 0 1.9 0a0.95 0.95 0 1 0 -1.9 0M148.6 214.4a0.95 0.95 0 1 0 1.9 0a0.95 0.95 0 1 0 -1.9 0M163.1 217.4a0.95 0.95 0 1 0 1.9 0a0.95 0.95 0 1 0 -1.9 0M190.3 216.0a0.95 0.95 0 1 0 1.9 0a0.95 0.95 0 1 0 -1.9 0M98.3 215.5a0.95 0.95 0 1 0 1.9 0a0.95 0.95 0 1 0 -1.9 0M115.3 214.4a0.95 0.95 0 1 0 1.9 0a0.95 0.95 0 1 0 -1.9 0M94.7 215.0a0.95 0.95 0 1 0 1.9 0a0.95 0.95 0 1 0 -1.9 0M121.2 216.2a0.95 0.95 0 1 0 1.9 0a0.95 0.95 0 1 0 -1.9 0M111.1 215.0a0.95 0.95 0 1 0 1.9 0a0.95 0.95 0 1 0 -1.9 0M128.6 217.8a0.95 0.95 0 1 0 1.9 0a0.95 0.95 0 1 0 -1.9 0M161.7 216.0a0.95 0.95 0 1 0 1.9 0a0.95 0.95 0 1 0 -1.9 0M111.6 218.5a0.95 0.95 0 1 0 1.9 0a0.95 0.95 0 1 0 -1.9 0M148.6 217.1a0.95 0.95 0 1 0 1.9 0a0.95 0.95 0 1 0 -1.9 0M127.2 215.2a0.95 0.95 0 1 0 1.9 0a0.95 0.95 0 1 0 -1.9 0M92.4 214.3a0.95 0.95 0 1 0 1.9 0a0.95 0.95 0 1 0 -1.9 0M175.6 216.8a0.95 0.95 0 1 0 1.9 0a0.95 0.95 0 1 0 -1.9 0M116.1 217.3a0.95 0.95 0 1 0 1.9 0a0.95 0.95 0 1 0 -1.9 0M169.1 215.6a0.95 0.95 0 1 0 1.9 0a0.95 0.95 0 1 0 -1.9 0M152.9 218.0a0.95 0.95 0 1 0 1.9 0a0.95 0.95 0 1 0 -1.9 0M185.8 214.3a0.95 0.95 0 1 0 1.9 0a0.95 0.95 0 1 0 -1.9 0M133.0 217.6a0.95 0.95 0 1 0 1.9 0a0.95 0.95 0 1 0 -1.9 0M113.5 217.6a0.95 0.95 0 1 0 1.9 0a0.95 0.95 0 1 0 -1.9 0M174.3 215.0a0.95 0.95 0 1 0 1.9 0a0.95 0.95 0 1 0 -1.9 0M119.0 217.1a0.95 0.95 0 1 0 1.9 0a0.95 0.95 0 1 0 -1.9 0M159.8 216.2a0.95 0.95 0 1 0 1.9 0a0.95 0.95 0 1 0 -1.9 0M163.3 215.1a0.95 0.95 0 1 0 1.9 0a0.95 0.95 0 1 0 -1.9 0M155.6 217.6a0.95 0.95 0 1 0 1.9 0a0.95 0.95 0 1 0 -1.9 0M124.6 215.7a0.95 0.95 0 1 0 1.9 0a0.95 0.95 0 1 0 -1.9 0M128.7 217.4a0.95 0.95 0 1 0 1.9 0a0.95 0.95 0 1 0 -1.9 0M109.7 217.4a0.95 0.95 0 1 0 1.9 0a0.95 0.95 0 1 0 -1.9 0M172.2 214.8a0.95 0.95 0 1 0 1.9 0a0.95 0.95 0 1 0 -1.9 0M118.2 216.5a0.95 0.95 0 1 0 1.9 0a0.95 0.95 0 1 0 -1.9 0M186.5 216.6a0.95 0.95 0 1 0 1.9 0a0.95 0.95 0 1 0 -1.9 0M181.8 220.2a0.95 0.95 0 1 0 1.9 0a0.95 0.95 0 1 0 -1.9 0M169.7 216.8a0.95 0.95 0 1 0 1.9 0a0.95 0.95 0 1 0 -1.9 0M179.0 217.4a0.95 0.95 0 1 0 1.9 0a0.95 0.95 0 1 0 -1.9 0M170.2 219.6a0.95 0.95 0 1 0 1.9 0a0.95 0.95 0 1 0 -1.9 0M169.7 219.9a0.95 0.95 0 1 0 1.9 0a0.95 0.95 0 1 0 -1.9 0M179.7 215.6a0.95 0.95 0 1 0 1.9 0a0.95 0.95 0 1 0 -1.9 0M175.0 216.0a0.95 0.95 0 1 0 1.9 0a0.95 0.95 0 1 0 -1.9 0M195.3 219.3a0.95 0.95 0 1 0 1.9 0a0.95 0.95 0 1 0 -1.9 0M186.2 220.0a0.95 0.95 0 1 0 1.9 0a0.95 0.95 0 1 0 -1.9 0M175.8 219.9a0.95 0.95 0 1 0 1.9 0a0.95 0.95 0 1 0 -1.9 0M174.0 220.1a0.95 0.95 0 1 0 1.9 0a0.95 0.95 0 1 0 -1.9 0M170.7 218.9a0.95 0.95 0 1 0 1.9 0a0.95 0.95 0 1 0 -1.9 0M200.4 217.3a0.95 0.95 0 1 0 1.9 0a0.95 0.95 0 1 0 -1.9 0M195.5 216.0a0.95 0.95 0 1 0 1.9 0a0.95 0.95 0 1 0 -1.9 0M173.9 218.4a0.95 0.95 0 1 0 1.9 0a0.95 0.95 0 1 0 -1.9 0M175.4 216.2a0.95 0.95 0 1 0 1.9 0a0.95 0.95 0 1 0 -1.9 0M188.9 220.3a0.95 0.95 0 1 0 1.9 0a0.95 0.95 0 1 0 -1.9 0M211.5 219.3a0.95 0.95 0 1 0 1.9 0a0.95 0.95 0 1 0 -1.9 0M199.1 215.5a0.95 0.95 0 1 0 1.9 0a0.95 0.95 0 1 0 -1.9 0M174.2 219.3a0.95 0.95 0 1 0 1.9 0a0.95 0.95 0 1 0 -1.9 0M184.9 218.8a0.95 0.95 0 1 0 1.9 0a0.95 0.95 0 1 0 -1.9 0M206.6 215.2a0.95 0.95 0 1 0 1.9 0a0.95 0.95 0 1 0 -1.9 0M188.3 219.4a0.95 0.95 0 1 0 1.9 0a0.95 0.95 0 1 0 -1.9 0M170.3 217.7a0.95 0.95 0 1 0 1.9 0a0.95 0.95 0 1 0 -1.9 0M217.8 220.2a0.95 0.95 0 1 0 1.9 0a0.95 0.95 0 1 0 -1.9 0M173.2 218.9a0.95 0.95 0 1 0 1.9 0a0.95 0.95 0 1 0 -1.9 0M199.3 215.1a0.95 0.95 0 1 0 1.9 0a0.95 0.95 0 1 0 -1.9 0M191.0 218.3a0.95 0.95 0 1 0 1.9 0a0.95 0.95 0 1 0 -1.9 0M204.1 218.0a0.95 0.95 0 1 0 1.9 0a0.95 0.95 0 1 0 -1.9 0M209.1 217.0a0.95 0.95 0 1 0 1.9 0a0.95 0.95 0 1 0 -1.9 0M213.1 219.0a0.95 0.95 0 1 0 1.9 0a0.95 0.95 0 1 0 -1.9 0M198.1 219.5a0.95 0.95 0 1 0 1.9 0a0.95 0.95 0 1 0 -1.9 0M189.1 218.5a0.95 0.95 0 1 0 1.9 0a0.95 0.95 0 1 0 -1.9 0M217.1 218.5a0.95 0.95 0 1 0 1.9 0a0.95 0.95 0 1 0 -1.9 0M206.1 219.3a0.95 0.95 0 1 0 1.9 0a0.95 0.95 0 1 0 -1.9 0M195.1 219.8a0.95 0.95 0 1 0 1.9 0a0.95 0.95 0 1 0 -1.9 0M201.1 218.8a0.95 0.95 0 1 0 1.9 0a0.95 0.95 0 1 0 -1.9 0"/>
<path fill="#1414ff" d="M92.2 121.7a0.9 0.9 0 1 0 1.8 0a0.9 0.9 0 1 0 -1.8 0M93.7 131.2a0.9 0.9 0 1 0 1.8 0a0.9 0.9 0 1 0 -1.8 0M82.5 133.0a0.9 0.9 0 1 0 1.8 0a0.9 0.9 0 1 0 -1.8 0M91.0 147.9a0.9 0.9 0 1 0 1.8 0a0.9 0.9 0 1 0 -1.8 0M98.2 156.3a0.9 0.9 0 1 0 1.8 0a0.9 0.9 0 1 0 -1.8 0M104.0 163.7a0.9 0.9 0 1 0 1.8 0a0.9 0.9 0 1 0 -1.8 0M101.5 170.6a0.9 0.9 0 1 0 1.8 0a0.9 0.9 0 1 0 -1.8 0M91.4 171.9a0.9 0.9 0 1 0 1.8 0a0.9 0.9 0 1 0 -1.8 0M75.3 181.7a0.9 0.9 0 1 0 1.8 0a0.9 0.9 0 1 0 -1.8 0M86.3 185.3a0.9 0.9 0 1 0 1.8 0a0.9 0.9 0 1 0 -1.8 0M65.5 187.7a0.9 0.9 0 1 0 1.8 0a0.9 0.9 0 1 0 -1.8 0M69.3 191.0a0.9 0.9 0 1 0 1.8 0a0.9 0.9 0 1 0 -1.8 0M105.6 182.8a0.9 0.9 0 1 0 1.8 0a0.9 0.9 0 1 0 -1.8 0M108.1 181.7a0.9 0.9 0 1 0 1.8 0a0.9 0.9 0 1 0 -1.8 0M102.3 189.0a0.9 0.9 0 1 0 1.8 0a0.9 0.9 0 1 0 -1.8 0M95.0 191.0a0.9 0.9 0 1 0 1.8 0a0.9 0.9 0 1 0 -1.8 0M92.8 192.0a0.9 0.9 0 1 0 1.8 0a0.9 0.9 0 1 0 -1.8 0M117.0 189.0a0.9 0.9 0 1 0 1.8 0a0.9 0.9 0 1 0 -1.8 0M110.8 192.8a0.9 0.9 0 1 0 1.8 0a0.9 0.9 0 1 0 -1.8 0M101.5 193.9a0.9 0.9 0 1 0 1.8 0a0.9 0.9 0 1 0 -1.8 0M121.9 193.9a0.9 0.9 0 1 0 1.8 0a0.9 0.9 0 1 0 -1.8 0M70.4 200.5a0.9 0.9 0 1 0 1.8 0a0.9 0.9 0 1 0 -1.8 0M86.8 199.7a0.9 0.9 0 1 0 1.8 0a0.9 0.9 0 1 0 -1.8 0M92.8 201.3a0.9 0.9 0 1 0 1.8 0a0.9 0.9 0 1 0 -1.8 0M101.5 198.0a0.9 0.9 0 1 0 1.8 0a0.9 0.9 0 1 0 -1.8 0M107.2 202.1a0.9 0.9 0 1 0 1.8 0a0.9 0.9 0 1 0 -1.8 0M112.9 202.1a0.9 0.9 0 1 0 1.8 0a0.9 0.9 0 1 0 -1.8 0M116.2 202.1a0.9 0.9 0 1 0 1.8 0a0.9 0.9 0 1 0 -1.8 0M120.3 198.0a0.9 0.9 0 1 0 1.8 0a0.9 0.9 0 1 0 -1.8 0M77.0 205.4a0.9 0.9 0 1 0 1.8 0a0.9 0.9 0 1 0 -1.8 0M80.3 207.0a0.9 0.9 0 1 0 1.8 0a0.9 0.9 0 1 0 -1.8 0M85.1 203.7a0.9 0.9 0 1 0 1.8 0a0.9 0.9 0 1 0 -1.8 0M88.4 207.0a0.9 0.9 0 1 0 1.8 0a0.9 0.9 0 1 0 -1.8 0M94.1 206.2a0.9 0.9 0 1 0 1.8 0a0.9 0.9 0 1 0 -1.8 0M99.1 207.0a0.9 0.9 0 1 0 1.8 0a0.9 0.9 0 1 0 -1.8 0M92.1 190.0a0.9 0.9 0 1 0 1.8 0a0.9 0.9 0 1 0 -1.8 0M95.1 188.0a0.9 0.9 0 1 0 1.8 0a0.9 0.9 0 1 0 -1.8 0M100.1 186.0a0.9 0.9 0 1 0 1.8 0a0.9 0.9 0 1 0 -1.8 0M105.1 189.0a0.9 0.9 0 1 0 1.8 0a0.9 0.9 0 1 0 -1.8 0M111.1 196.0a0.9 0.9 0 1 0 1.8 0a0.9 0.9 0 1 0 -1.8 0M118.1 201.0a0.9 0.9 0 1 0 1.8 0a0.9 0.9 0 1 0 -1.8 0M123.1 204.0a0.9 0.9 0 1 0 1.8 0a0.9 0.9 0 1 0 -1.8 0M127.1 203.0a0.9 0.9 0 1 0 1.8 0a0.9 0.9 0 1 0 -1.8 0M113.1 205.0a0.9 0.9 0 1 0 1.8 0a0.9 0.9 0 1 0 -1.8 0M103.1 204.0a0.9 0.9 0 1 0 1.8 0a0.9 0.9 0 1 0 -1.8 0M98.1 201.0a0.9 0.9 0 1 0 1.8 0a0.9 0.9 0 1 0 -1.8 0M103.1 209.7a0.9 0.9 0 1 0 1.8 0a0.9 0.9 0 1 0 -1.8 0M122.0 207.6a0.9 0.9 0 1 0 1.8 0a0.9 0.9 0 1 0 -1.8 0M112.1 213.8a0.9 0.9 0 1 0 1.8 0a0.9 0.9 0 1 0 -1.8 0M127.3 209.8a0.9 0.9 0 1 0 1.8 0a0.9 0.9 0 1 0 -1.8 0M108.8 213.3a0.9 0.9 0 1 0 1.8 0a0.9 0.9 0 1 0 -1.8 0M116.8 211.1a0.9 0.9 0 1 0 1.8 0a0.9 0.9 0 1 0 -1.8 0M125.5 213.4a0.9 0.9 0 1 0 1.8 0a0.9 0.9 0 1 0 -1.8 0M92.3 210.4a0.9 0.9 0 1 0 1.8 0a0.9 0.9 0 1 0 -1.8 0M130.7 212.4a0.9 0.9 0 1 0 1.8 0a0.9 0.9 0 1 0 -1.8 0M94.6 209.7a0.9 0.9 0 1 0 1.8 0a0.9 0.9 0 1 0 -1.8 0M110.6 213.3a0.9 0.9 0 1 0 1.8 0a0.9 0.9 0 1 0 -1.8 0M116.3 212.1a0.9 0.9 0 1 0 1.8 0a0.9 0.9 0 1 0 -1.8 0M127.6 211.7a0.9 0.9 0 1 0 1.8 0a0.9 0.9 0 1 0 -1.8 0M127.9 213.4a0.9 0.9 0 1 0 1.8 0a0.9 0.9 0 1 0 -1.8 0M121.4 210.9a0.9 0.9 0 1 0 1.8 0a0.9 0.9 0 1 0 -1.8 0M119.7 211.8a0.9 0.9 0 1 0 1.8 0a0.9 0.9 0 1 0 -1.8 0M128.9 212.1a0.9 0.9 0 1 0 1.8 0a0.9 0.9 0 1 0 -1.8 0M130.2 212.8a0.9 0.9 0 1 0 1.8 0a0.9 0.9 0 1 0 -1.8 0M92.8 211.4a0.9 0.9 0 1 0 1.8 0a0.9 0.9 0 1 0 -1.8 0M109.5 213.6a0.9 0.9 0 1 0 1.8 0a0.9 0.9 0 1 0 -1.8 0M114.0 212.9a0.9 0.9 0 1 0 1.8 0a0.9 0.9 0 1 0 -1.8 0M115.8 208.8a0.9 0.9 0 1 0 1.8 0a0.9 0.9 0 1 0 -1.8 0M125.2 211.8a0.9 0.9 0 1 0 1.8 0a0.9 0.9 0 1 0 -1.8 0M118.7 210.1a0.9 0.9 0 1 0 1.8 0a0.9 0.9 0 1 0 -1.8 0M95.2 206.4a0.9 0.9 0 1 0 1.8 0a0.9 0.9 0 1 0 -1.8 0M132.1 213.2a0.9 0.9 0 1 0 1.8 0a0.9 0.9 0 1 0 -1.8 0M127.9 213.4a0.9 0.9 0 1 0 1.8 0a0.9 0.9 0 1 0 -1.8 0M131.7 213.8a0.9 0.9 0 1 0 1.8 0a0.9 0.9 0 1 0 -1.8 0M131.4 207.7a0.9 0.9 0 1 0 1.8 0a0.9 0.9 0 1 0 -1.8 0M119.9 211.6a0.9 0.9 0 1 0 1.8 0a0.9 0.9 0 1 0 -1.8 0M111.5 213.2a0.9 0.9 0 1 0 1.8 0a0.9 0.9 0 1 0 -1.8 0M120.1 211.1a0.9 0.9 0 1 0 1.8 0a0.9 0.9 0 1 0 -1.8 0M128.6 212.5a0.9 0.9 0 1 0 1.8 0a0.9 0.9 0 1 0 -1.8 0M132.1 213.3a0.9 0.9 0 1 0 1.8 0a0.9 0.9 0 1 0 -1.8 0M121.8 213.2a0.9 0.9 0 1 0 1.8 0a0.9 0.9 0 1 0 -1.8 0M131.8 209.3a0.9 0.9 0 1 0 1.8 0a0.9 0.9 0 1 0 -1.8 0M101.0 210.0a0.9 0.9 0 1 0 1.8 0a0.9 0.9 0 1 0 -1.8 0M96.5 213.6a0.9 0.9 0 1 0 1.8 0a0.9 0.9 0 1 0 -1.8 0M103.7 206.7a0.9 0.9 0 1 0 1.8 0a0.9 0.9 0 1 0 -1.8 0M109.8 213.1a0.9 0.9 0 1 0 1.8 0a0.9 0.9 0 1 0 -1.8 0M130.2 210.3a0.9 0.9 0 1 0 1.8 0a0.9 0.9 0 1 0 -1.8 0M125.4 213.0a0.9 0.9 0 1 0 1.8 0a0.9 0.9 0 1 0 -1.8 0M116.0 213.7a0.9 0.9 0 1 0 1.8 0a0.9 0.9 0 1 0 -1.8 0M126.0 213.5a0.9 0.9 0 1 0 1.8 0a0.9 0.9 0 1 0 -1.8 0M103.7 213.6a0.9 0.9 0 1 0 1.8 0a0.9 0.9 0 1 0 -1.8 0M127.5 210.7a0.9 0.9 0 1 0 1.8 0a0.9 0.9 0 1 0 -1.8 0M126.6 207.2a0.9 0.9 0 1 0 1.8 0a0.9 0.9 0 1 0 -1.8 0M129.2 208.3a0.9 0.9 0 1 0 1.8 0a0.9 0.9 0 1 0 -1.8 0M130.4 212.5a0.9 0.9 0 1 0 1.8 0a0.9 0.9 0 1 0 -1.8 0M85.1 207.1a0.9 0.9 0 1 0 1.8 0a0.9 0.9 0 1 0 -1.8 0M117.4 211.4a0.9 0.9 0 1 0 1.8 0a0.9 0.9 0 1 0 -1.8 0M88.1 212.9a0.9 0.9 0 1 0 1.8 0a0.9 0.9 0 1 0 -1.8 0M107.4 212.3a0.9 0.9 0 1 0 1.8 0a0.9 0.9 0 1 0 -1.8 0M126.6 213.6a0.9 0.9 0 1 0 1.8 0a0.9 0.9 0 1 0 -1.8 0M112.1 210.7a0.9 0.9 0 1 0 1.8 0a0.9 0.9 0 1 0 -1.8 0M119.3 213.2a0.9 0.9 0 1 0 1.8 0a0.9 0.9 0 1 0 -1.8 0M124.9 213.6a0.9 0.9 0 1 0 1.8 0a0.9 0.9 0 1 0 -1.8 0M122.5 209.2a0.9 0.9 0 1 0 1.8 0a0.9 0.9 0 1 0 -1.8 0M115.5 213.5a0.9 0.9 0 1 0 1.8 0a0.9 0.9 0 1 0 -1.8 0M104.4 208.1a0.9 0.9 0 1 0 1.8 0a0.9 0.9 0 1 0 -1.8 0M116.2 213.4a0.9 0.9 0 1 0 1.8 0a0.9 0.9 0 1 0 -1.8 0M125.3 213.1a0.9 0.9 0 1 0 1.8 0a0.9 0.9 0 1 0 -1.8 0M121.3 213.4a0.9 0.9 0 1 0 1.8 0a0.9 0.9 0 1 0 -1.8 0M130.4 207.3a0.9 0.9 0 1 0 1.8 0a0.9 0.9 0 1 0 -1.8 0M124.1 210.6a0.9 0.9 0 1 0 1.8 0a0.9 0.9 0 1 0 -1.8 0M132.7 204.0a0.9 0.9 0 1 0 1.8 0a0.9 0.9 0 1 0 -1.8 0M122.3 209.7a0.9 0.9 0 1 0 1.8 0a0.9 0.9 0 1 0 -1.8 0M133.0 213.6a0.9 0.9 0 1 0 1.8 0a0.9 0.9 0 1 0 -1.8 0M113.7 209.4a0.9 0.9 0 1 0 1.8 0a0.9 0.9 0 1 0 -1.8 0M118.2 213.5a0.9 0.9 0 1 0 1.8 0a0.9 0.9 0 1 0 -1.8 0M126.7 207.7a0.9 0.9 0 1 0 1.8 0a0.9 0.9 0 1 0 -1.8 0M129.2 211.8a0.9 0.9 0 1 0 1.8 0a0.9 0.9 0 1 0 -1.8 0M94.8 213.5a0.9 0.9 0 1 0 1.8 0a0.9 0.9 0 1 0 -1.8 0M127.4 210.8a0.9 0.9 0 1 0 1.8 0a0.9 0.9 0 1 0 -1.8 0M130.7 213.8a0.9 0.9 0 1 0 1.8 0a0.9 0.9 0 1 0 -1.8 0M115.3 211.6a0.9 0.9 0 1 0 1.8 0a0.9 0.9 0 1 0 -1.8 0M127.1 213.2a0.9 0.9 0 1 0 1.8 0a0.9 0.9 0 1 0 -1.8 0M101.1 211.5a0.9 0.9 0 1 0 1.8 0a0.9 0.9 0 1 0 -1.8 0M110.4 209.7a0.9 0.9 0 1 0 1.8 0a0.9 0.9 0 1 0 -1.8 0M131.3 213.4a0.9 0.9 0 1 0 1.8 0a0.9 0.9 0 1 0 -1.8 0M119.5 210.6a0.9 0.9 0 1 0 1.8 0a0.9 0.9 0 1 0 -1.8 0M131.6 210.7a0.9 0.9 0 1 0 1.8 0a0.9 0.9 0 1 0 -1.8 0M122.5 209.7a0.9 0.9 0 1 0 1.8 0a0.9 0.9 0 1 0 -1.8 0M81.1 209.2a0.9 0.9 0 1 0 1.8 0a0.9 0.9 0 1 0 -1.8 0M132.7 212.2a0.9 0.9 0 1 0 1.8 0a0.9 0.9 0 1 0 -1.8 0M116.3 207.7a0.9 0.9 0 1 0 1.8 0a0.9 0.9 0 1 0 -1.8 0M125.1 208.7a0.9 0.9 0 1 0 1.8 0a0.9 0.9 0 1 0 -1.8 0M86.8 213.5a0.9 0.9 0 1 0 1.8 0a0.9 0.9 0 1 0 -1.8 0M128.5 212.8a0.9 0.9 0 1 0 1.8 0a0.9 0.9 0 1 0 -1.8 0M109.6 212.8a0.9 0.9 0 1 0 1.8 0a0.9 0.9 0 1 0 -1.8 0M117.8 212.1a0.9 0.9 0 1 0 1.8 0a0.9 0.9 0 1 0 -1.8 0M129.8 212.1a0.9 0.9 0 1 0 1.8 0a0.9 0.9 0 1 0 -1.8 0M89.0 210.7a0.9 0.9 0 1 0 1.8 0a0.9 0.9 0 1 0 -1.8 0M123.0 208.8a0.9 0.9 0 1 0 1.8 0a0.9 0.9 0 1 0 -1.8 0M120.6 210.8a0.9 0.9 0 1 0 1.8 0a0.9 0.9 0 1 0 -1.8 0M131.5 210.4a0.9 0.9 0 1 0 1.8 0a0.9 0.9 0 1 0 -1.8 0M114.4 212.2a0.9 0.9 0 1 0 1.8 0a0.9 0.9 0 1 0 -1.8 0M113.1 212.0a0.9 0.9 0 1 0 1.8 0a0.9 0.9 0 1 0 -1.8 0M126.5 205.1a0.9 0.9 0 1 0 1.8 0a0.9 0.9 0 1 0 -1.8 0M130.3 213.5a0.9 0.9 0 1 0 1.8 0a0.9 0.9 0 1 0 -1.8 0M88.9 213.3a0.9 0.9 0 1 0 1.8 0a0.9 0.9 0 1 0 -1.8 0M101.9 213.7a0.9 0.9 0 1 0 1.8 0a0.9 0.9 0 1 0 -1.8 0M132.6 213.4a0.9 0.9 0 1 0 1.8 0a0.9 0.9 0 1 0 -1.8 0M110.8 211.6a0.9 0.9 0 1 0 1.8 0a0.9 0.9 0 1 0 -1.8 0M101.6 212.1a0.9 0.9 0 1 0 1.8 0a0.9 0.9 0 1 0 -1.8 0M131.9 210.7a0.9 0.9 0 1 0 1.8 0a0.9 0.9 0 1 0 -1.8 0M115.4 213.7a0.9 0.9 0 1 0 1.8 0a0.9 0.9 0 1 0 -1.8 0M124.6 212.2a0.9 0.9 0 1 0 1.8 0a0.9 0.9 0 1 0 -1.8 0M119.6 213.7a0.9 0.9 0 1 0 1.8 0a0.9 0.9 0 1 0 -1.8 0M109.8 213.6a0.9 0.9 0 1 0 1.8 0a0.9 0.9 0 1 0 -1.8 0M123.2 203.5a0.9 0.9 0 1 0 1.8 0a0.9 0.9 0 1 0 -1.8 0M122.6 206.0a0.9 0.9 0 1 0 1.8 0a0.9 0.9 0 1 0 -1.8 0M123.0 208.5a0.9 0.9 0 1 0 1.8 0a0.9 0.9 0 1 0 -1.8 0M123.1 211.0a0.9 0.9 0 1 0 1.8 0a0.9 0.9 0 1 0 -1.8 0M94.7 204.3a0.9 0.9 0 1 0 1.8 0a0.9 0.9 0 1 0 -1.8 0M130.2 199.9a0.9 0.9 0 1 0 1.8 0a0.9 0.9 0 1 0 -1.8 0M106.4 204.4a0.9 0.9 0 1 0 1.8 0a0.9 0.9 0 1 0 -1.8 0M111.3 200.0a0.9 0.9 0 1 0 1.8 0a0.9 0.9 0 1 0 -1.8 0M130.4 203.8a0.9 0.9 0 1 0 1.8 0a0.9 0.9 0 1 0 -1.8 0M102.7 198.4a0.9 0.9 0 1 0 1.8 0a0.9 0.9 0 1 0 -1.8 0M102.5 200.4a0.9 0.9 0 1 0 1.8 0a0.9 0.9 0 1 0 -1.8 0M132.2 204.0a0.9 0.9 0 1 0 1.8 0a0.9 0.9 0 1 0 -1.8 0"/>
<path fill="#ff0a14" d="M171.0 32.7a0.9 0.9 0 1 0 1.8 0a0.9 0.9 0 1 0 -1.8 0M193.9 40.8a0.9 0.9 0 1 0 1.8 0a0.9 0.9 0 1 0 -1.8 0M177.0 46.0a0.9 0.9 0 1 0 1.8 0a0.9 0.9 0 1 0 -1.8 0M165.6 56.2a0.9 0.9 0 1 0 1.8 0a0.9 0.9 0 1 0 -1.8 0M175.6 53.7a0.9 0.9 0 1 0 1.8 0a0.9 0.9 0 1 0 -1.8 0M175.1 55.6a0.9 0.9 0 1 0 1.8 0a0.9 0.9 0 1 0 -1.8 0M201.6 63.7a0.9 0.9 0 1 0 1.8 0a0.9 0.9 0 1 0 -1.8 0M191.8 66.7a0.9 0.9 0 1 0 1.8 0a0.9 0.9 0 1 0 -1.8 0M190.6 69.0a0.9 0.9 0 1 0 1.8 0a0.9 0.9 0 1 0 -1.8 0M170.4 68.7a0.9 0.9 0 1 0 1.8 0a0.9 0.9 0 1 0 -1.8 0M181.0 70.0a0.9 0.9 0 1 0 1.8 0a0.9 0.9 0 1 0 -1.8 0M167.2 73.3a0.9 0.9 0 1 0 1.8 0a0.9 0.9 0 1 0 -1.8 0M163.1 77.1a0.9 0.9 0 1 0 1.8 0a0.9 0.9 0 1 0 -1.8 0M170.8 76.7a0.9 0.9 0 1 0 1.8 0a0.9 0.9 0 1 0 -1.8 0M190.6 75.8a0.9 0.9 0 1 0 1.8 0a0.9 0.9 0 1 0 -1.8 0M168.3 80.4a0.9 0.9 0 1 0 1.8 0a0.9 0.9 0 1 0 -1.8 0M179.3 80.8a0.9 0.9 0 1 0 1.8 0a0.9 0.9 0 1 0 -1.8 0M182.9 82.9a0.9 0.9 0 1 0 1.8 0a0.9 0.9 0 1 0 -1.8 0M184.5 85.0a0.9 0.9 0 1 0 1.8 0a0.9 0.9 0 1 0 -1.8 0M201.6 81.5a0.9 0.9 0 1 0 1.8 0a0.9 0.9 0 1 0 -1.8 0M207.0 79.6a0.9 0.9 0 1 0 1.8 0a0.9 0.9 0 1 0 -1.8 0M168.9 87.7a0.9 0.9 0 1 0 1.8 0a0.9 0.9 0 1 0 -1.8 0M176.0 86.9a0.9 0.9 0 1 0 1.8 0a0.9 0.9 0 1 0 -1.8 0M181.0 91.2a0.9 0.9 0 1 0 1.8 0a0.9 0.9 0 1 0 -1.8 0M167.0 92.7a0.9 0.9 0 1 0 1.8 0a0.9 0.9 0 1 0 -1.8 0M166.0 95.6a0.9 0.9 0 1 0 1.8 0a0.9 0.9 0 1 0 -1.8 0M174.1 96.0a0.9 0.9 0 1 0 1.8 0a0.9 0.9 0 1 0 -1.8 0M170.4 96.9a0.9 0.9 0 1 0 1.8 0a0.9 0.9 0 1 0 -1.8 0M180.4 97.3a0.9 0.9 0 1 0 1.8 0a0.9 0.9 0 1 0 -1.8 0M166.0 98.5a0.9 0.9 0 1 0 1.8 0a0.9 0.9 0 1 0 -1.8 0M171.8 98.8a0.9 0.9 0 1 0 1.8 0a0.9 0.9 0 1 0 -1.8 0M187.9 104.2a0.9 0.9 0 1 0 1.8 0a0.9 0.9 0 1 0 -1.8 0M190.7 121.3a0.9 0.9 0 1 0 1.8 0a0.9 0.9 0 1 0 -1.8 0M196.6 125.8a0.9 0.9 0 1 0 1.8 0a0.9 0.9 0 1 0 -1.8 0M185.8 140.2a0.9 0.9 0 1 0 1.8 0a0.9 0.9 0 1 0 -1.8 0M190.1 142.1a0.9 0.9 0 1 0 1.8 0a0.9 0.9 0 1 0 -1.8 0M220.1 154.5a0.9 0.9 0 1 0 1.8 0a0.9 0.9 0 1 0 -1.8 0M192.0 157.6a0.9 0.9 0 1 0 1.8 0a0.9 0.9 0 1 0 -1.8 0M189.3 164.9a0.9 0.9 0 1 0 1.8 0a0.9 0.9 0 1 0 -1.8 0M185.2 166.9a0.9 0.9 0 1 0 1.8 0a0.9 0.9 0 1 0 -1.8 0M197.5 171.1a0.9 0.9 0 1 0 1.8 0a0.9 0.9 0 1 0 -1.8 0M204.1 171.8a0.9 0.9 0 1 0 1.8 0a0.9 0.9 0 1 0 -1.8 0M208.9 173.1a0.9 0.9 0 1 0 1.8 0a0.9 0.9 0 1 0 -1.8 0M184.5 173.1a0.9 0.9 0 1 0 1.8 0a0.9 0.9 0 1 0 -1.8 0M188.0 175.8a0.9 0.9 0 1 0 1.8 0a0.9 0.9 0 1 0 -1.8 0M195.5 177.1a0.9 0.9 0 1 0 1.8 0a0.9 0.9 0 1 0 -1.8 0M192.1 181.3a0.9 0.9 0 1 0 1.8 0a0.9 0.9 0 1 0 -1.8 0M194.2 185.1a0.9 0.9 0 1 0 1.8 0a0.9 0.9 0 1 0 -1.8 0M190.4 186.1a0.9 0.9 0 1 0 1.8 0a0.9 0.9 0 1 0 -1.8 0M197.2 189.5a0.9 0.9 0 1 0 1.8 0a0.9 0.9 0 1 0 -1.8 0M195.5 191.3a0.9 0.9 0 1 0 1.8 0a0.9 0.9 0 1 0 -1.8 0M185.5 193.0a0.9 0.9 0 1 0 1.8 0a0.9 0.9 0 1 0 -1.8 0M188.0 195.5a0.9 0.9 0 1 0 1.8 0a0.9 0.9 0 1 0 -1.8 0M191.7 194.4a0.9 0.9 0 1 0 1.8 0a0.9 0.9 0 1 0 -1.8 0M193.5 195.5a0.9 0.9 0 1 0 1.8 0a0.9 0.9 0 1 0 -1.8 0M197.2 195.2a0.9 0.9 0 1 0 1.8 0a0.9 0.9 0 1 0 -1.8 0M207.9 193.0a0.9 0.9 0 1 0 1.8 0a0.9 0.9 0 1 0 -1.8 0M226.1 196.1a0.9 0.9 0 1 0 1.8 0a0.9 0.9 0 1 0 -1.8 0M205.7 202.8a0.9 0.9 0 1 0 1.8 0a0.9 0.9 0 1 0 -1.8 0M204.1 204.1a0.9 0.9 0 1 0 1.8 0a0.9 0.9 0 1 0 -1.8 0M208.2 205.1a0.9 0.9 0 1 0 1.8 0a0.9 0.9 0 1 0 -1.8 0M211.4 206.2a0.9 0.9 0 1 0 1.8 0a0.9 0.9 0 1 0 -1.8 0M200.6 206.7a0.9 0.9 0 1 0 1.8 0a0.9 0.9 0 1 0 -1.8 0M205.7 208.1a0.9 0.9 0 1 0 1.8 0a0.9 0.9 0 1 0 -1.8 0M202.0 209.9a0.9 0.9 0 1 0 1.8 0a0.9 0.9 0 1 0 -1.8 0M211.2 209.5a0.9 0.9 0 1 0 1.8 0a0.9 0.9 0 1 0 -1.8 0M199.3 211.3a0.9 0.9 0 1 0 1.8 0a0.9 0.9 0 1 0 -1.8 0M225.8 211.3a0.9 0.9 0 1 0 1.8 0a0.9 0.9 0 1 0 -1.8 0M191.7 211.3a0.9 0.9 0 1 0 1.8 0a0.9 0.9 0 1 0 -1.8 0M163.5 104.8a0.9 0.9 0 1 0 1.8 0a0.9 0.9 0 1 0 -1.8 0M162.4 107.7a0.9 0.9 0 1 0 1.8 0a0.9 0.9 0 1 0 -1.8 0M167.4 107.6a0.9 0.9 0 1 0 1.8 0a0.9 0.9 0 1 0 -1.8 0M169.5 106.4a0.9 0.9 0 1 0 1.8 0a0.9 0.9 0 1 0 -1.8 0M181.2 104.8a0.9 0.9 0 1 0 1.8 0a0.9 0.9 0 1 0 -1.8 0M179.1 106.9a0.9 0.9 0 1 0 1.8 0a0.9 0.9 0 1 0 -1.8 0M177.5 109.0a0.9 0.9 0 1 0 1.8 0a0.9 0.9 0 1 0 -1.8 0M187.7 104.4a0.9 0.9 0 1 0 1.8 0a0.9 0.9 0 1 0 -1.8 0M190.2 101.6a0.9 0.9 0 1 0 1.8 0a0.9 0.9 0 1 0 -1.8 0M167.4 111.4a0.9 0.9 0 1 0 1.8 0a0.9 0.9 0 1 0 -1.8 0M175.4 113.2a0.9 0.9 0 1 0 1.8 0a0.9 0.9 0 1 0 -1.8 0M181.2 114.1a0.9 0.9 0 1 0 1.8 0a0.9 0.9 0 1 0 -1.8 0M182.2 112.4a0.9 0.9 0 1 0 1.8 0a0.9 0.9 0 1 0 -1.8 0M171.9 115.4a0.9 0.9 0 1 0 1.8 0a0.9 0.9 0 1 0 -1.8 0M174.1 119.4a0.9 0.9 0 1 0 1.8 0a0.9 0.9 0 1 0 -1.8 0M160.0 121.7a0.9 0.9 0 1 0 1.8 0a0.9 0.9 0 1 0 -1.8 0M162.6 121.2a0.9 0.9 0 1 0 1.8 0a0.9 0.9 0 1 0 -1.8 0M171.3 122.2a0.9 0.9 0 1 0 1.8 0a0.9 0.9 0 1 0 -1.8 0M190.5 121.4a0.9 0.9 0 1 0 1.8 0a0.9 0.9 0 1 0 -1.8 0M165.8 124.6a0.9 0.9 0 1 0 1.8 0a0.9 0.9 0 1 0 -1.8 0M165.8 128.4a0.9 0.9 0 1 0 1.8 0a0.9 0.9 0 1 0 -1.8 0M166.9 128.8a0.9 0.9 0 1 0 1.8 0a0.9 0.9 0 1 0 -1.8 0M171.9 128.1a0.9 0.9 0 1 0 1.8 0a0.9 0.9 0 1 0 -1.8 0M158.9 131.6a0.9 0.9 0 1 0 1.8 0a0.9 0.9 0 1 0 -1.8 0M162.6 131.2a0.9 0.9 0 1 0 1.8 0a0.9 0.9 0 1 0 -1.8 0M161.9 132.8a0.9 0.9 0 1 0 1.8 0a0.9 0.9 0 1 0 -1.8 0M167.9 132.6a0.9 0.9 0 1 0 1.8 0a0.9 0.9 0 1 0 -1.8 0M173.5 132.3a0.9 0.9 0 1 0 1.8 0a0.9 0.9 0 1 0 -1.8 0M177.2 132.3a0.9 0.9 0 1 0 1.8 0a0.9 0.9 0 1 0 -1.8 0M160.0 136.0a0.9 0.9 0 1 0 1.8 0a0.9 0.9 0 1 0 -1.8 0M161.6 137.6a0.9 0.9 0 1 0 1.8 0a0.9 0.9 0 1 0 -1.8 0M166.9 137.1a0.9 0.9 0 1 0 1.8 0a0.9 0.9 0 1 0 -1.8 0M170.4 136.5a0.9 0.9 0 1 0 1.8 0a0.9 0.9 0 1 0 -1.8 0M174.3 136.0a0.9 0.9 0 1 0 1.8 0a0.9 0.9 0 1 0 -1.8 0M174.5 138.1a0.9 0.9 0 1 0 1.8 0a0.9 0.9 0 1 0 -1.8 0M167.4 139.7a0.9 0.9 0 1 0 1.8 0a0.9 0.9 0 1 0 -1.8 0M169.5 140.8a0.9 0.9 0 1 0 1.8 0a0.9 0.9 0 1 0 -1.8 0M171.4 139.2a0.9 0.9 0 1 0 1.8 0a0.9 0.9 0 1 0 -1.8 0M181.2 138.7a0.9 0.9 0 1 0 1.8 0a0.9 0.9 0 1 0 -1.8 0M185.9 140.0a0.9 0.9 0 1 0 1.8 0a0.9 0.9 0 1 0 -1.8 0M180.6 141.3a0.9 0.9 0 1 0 1.8 0a0.9 0.9 0 1 0 -1.8 0M175.9 141.5a0.9 0.9 0 1 0 1.8 0a0.9 0.9 0 1 0 -1.8 0M178.5 141.8a0.9 0.9 0 1 0 1.8 0a0.9 0.9 0 1 0 -1.8 0M190.0 142.1a0.9 0.9 0 1 0 1.8 0a0.9 0.9 0 1 0 -1.8 0M174.8 142.9a0.9 0.9 0 1 0 1.8 0a0.9 0.9 0 1 0 -1.8 0M172.5 144.3a0.9 0.9 0 1 0 1.8 0a0.9 0.9 0 1 0 -1.8 0M184.4 143.4a0.9 0.9 0 1 0 1.8 0a0.9 0.9 0 1 0 -1.8 0M177.3 145.6a0.9 0.9 0 1 0 1.8 0a0.9 0.9 0 1 0 -1.8 0M181.2 145.8a0.9 0.9 0 1 0 1.8 0a0.9 0.9 0 1 0 -1.8 0M171.6 146.6a0.9 0.9 0 1 0 1.8 0a0.9 0.9 0 1 0 -1.8 0M161.1 149.3a0.9 0.9 0 1 0 1.8 0a0.9 0.9 0 1 0 -1.8 0M164.2 148.9a0.9 0.9 0 1 0 1.8 0a0.9 0.9 0 1 0 -1.8 0M169.5 148.9a0.9 0.9 0 1 0 1.8 0a0.9 0.9 0 1 0 -1.8 0M172.7 149.3a0.9 0.9 0 1 0 1.8 0a0.9 0.9 0 1 0 -1.8 0M179.1 149.8a0.9 0.9 0 1 0 1.8 0a0.9 0.9 0 1 0 -1.8 0M154.5 212.0a0.9 0.9 0 1 0 1.8 0a0.9 0.9 0 1 0 -1.8 0M151.8 204.8a0.9 0.9 0 1 0 1.8 0a0.9 0.9 0 1 0 -1.8 0M147.2 205.5a0.9 0.9 0 1 0 1.8 0a0.9 0.9 0 1 0 -1.8 0M146.1 213.1a0.9 0.9 0 1 0 1.8 0a0.9 0.9 0 1 0 -1.8 0M151.2 193.0a0.9 0.9 0 1 0 1.8 0a0.9 0.9 0 1 0 -1.8 0M181.6 202.2a0.9 0.9 0 1 0 1.8 0a0.9 0.9 0 1 0 -1.8 0M183.0 207.9a0.9 0.9 0 1 0 1.8 0a0.9 0.9 0 1 0 -1.8 0M154.9 190.5a0.9 0.9 0 1 0 1.8 0a0.9 0.9 0 1 0 -1.8 0M148.5 212.5a0.9 0.9 0 1 0 1.8 0a0.9 0.9 0 1 0 -1.8 0M157.4 202.4a0.9 0.9 0 1 0 1.8 0a0.9 0.9 0 1 0 -1.8 0M153.9 208.4a0.9 0.9 0 1 0 1.8 0a0.9 0.9 0 1 0 -1.8 0M147.1 213.3a0.9 0.9 0 1 0 1.8 0a0.9 0.9 0 1 0 -1.8 0M150.2 207.3a0.9 0.9 0 1 0 1.8 0a0.9 0.9 0 1 0 -1.8 0M150.2 206.8a0.9 0.9 0 1 0 1.8 0a0.9 0.9 0 1 0 -1.8 0M160.0 169.3a0.9 0.9 0 1 0 1.8 0a0.9 0.9 0 1 0 -1.8 0M169.1 205.1a0.9 0.9 0 1 0 1.8 0a0.9 0.9 0 1 0 -1.8 0M160.5 207.5a0.9 0.9 0 1 0 1.8 0a0.9 0.9 0 1 0 -1.8 0M147.1 205.9a0.9 0.9 0 1 0 1.8 0a0.9 0.9 0 1 0 -1.8 0M159.8 196.6a0.9 0.9 0 1 0 1.8 0a0.9 0.9 0 1 0 -1.8 0M165.8 193.9a0.9 0.9 0 1 0 1.8 0a0.9 0.9 0 1 0 -1.8 0M154.0 203.6a0.9 0.9 0 1 0 1.8 0a0.9 0.9 0 1 0 -1.8 0M173.2 153.5a0.9 0.9 0 1 0 1.8 0a0.9 0.9 0 1 0 -1.8 0M155.2 213.2a0.9 0.9 0 1 0 1.8 0a0.9 0.9 0 1 0 -1.8 0M157.0 208.2a0.9 0.9 0 1 0 1.8 0a0.9 0.9 0 1 0 -1.8 0M148.5 206.6a0.9 0.9 0 1 0 1.8 0a0.9 0.9 0 1 0 -1.8 0M157.3 213.3a0.9 0.9 0 1 0 1.8 0a0.9 0.9 0 1 0 -1.8 0M150.3 210.6a0.9 0.9 0 1 0 1.8 0a0.9 0.9 0 1 0 -1.8 0M151.8 208.8a0.9 0.9 0 1 0 1.8 0a0.9 0.9 0 1 0 -1.8 0M177.2 188.2a0.9 0.9 0 1 0 1.8 0a0.9 0.9 0 1 0 -1.8 0M155.8 196.2a0.9 0.9 0 1 0 1.8 0a0.9 0.9 0 1 0 -1.8 0M147.9 211.7a0.9 0.9 0 1 0 1.8 0a0.9 0.9 0 1 0 -1.8 0M155.9 206.0a0.9 0.9 0 1 0 1.8 0a0.9 0.9 0 1 0 -1.8 0M154.3 208.5a0.9 0.9 0 1 0 1.8 0a0.9 0.9 0 1 0 -1.8 0M169.3 169.8a0.9 0.9 0 1 0 1.8 0a0.9 0.9 0 1 0 -1.8 0M148.5 200.5a0.9 0.9 0 1 0 1.8 0a0.9 0.9 0 1 0 -1.8 0M158.0 188.9a0.9 0.9 0 1 0 1.8 0a0.9 0.9 0 1 0 -1.8 0M148.3 201.9a0.9 0.9 0 1 0 1.8 0a0.9 0.9 0 1 0 -1.8 0M147.2 211.2a0.9 0.9 0 1 0 1.8 0a0.9 0.9 0 1 0 -1.8 0M145.2 213.4a0.9 0.9 0 1 0 1.8 0a0.9 0.9 0 1 0 -1.8 0M149.1 212.7a0.9 0.9 0 1 0 1.8 0a0.9 0.9 0 1 0 -1.8 0M164.8 189.1a0.9 0.9 0 1 0 1.8 0a0.9 0.9 0 1 0 -1.8 0M149.7 210.5a0.9 0.9 0 1 0 1.8 0a0.9 0.9 0 1 0 -1.8 0M161.4 212.4a0.9 0.9 0 1 0 1.8 0a0.9 0.9 0 1 0 -1.8 0M162.3 184.2a0.9 0.9 0 1 0 1.8 0a0.9 0.9 0 1 0 -1.8 0M148.9 212.7a0.9 0.9 0 1 0 1.8 0a0.9 0.9 0 1 0 -1.8 0M151.9 192.8a0.9 0.9 0 1 0 1.8 0a0.9 0.9 0 1 0 -1.8 0M166.5 177.8a0.9 0.9 0 1 0 1.8 0a0.9 0.9 0 1 0 -1.8 0M147.3 204.6a0.9 0.9 0 1 0 1.8 0a0.9 0.9 0 1 0 -1.8 0M150.0 210.4a0.9 0.9 0 1 0 1.8 0a0.9 0.9 0 1 0 -1.8 0M158.8 196.3a0.9 0.9 0 1 0 1.8 0a0.9 0.9 0 1 0 -1.8 0M152.9 192.9a0.9 0.9 0 1 0 1.8 0a0.9 0.9 0 1 0 -1.8 0M151.5 205.3a0.9 0.9 0 1 0 1.8 0a0.9 0.9 0 1 0 -1.8 0M156.5 210.4a0.9 0.9 0 1 0 1.8 0a0.9 0.9 0 1 0 -1.8 0M168.4 152.9a0.9 0.9 0 1 0 1.8 0a0.9 0.9 0 1 0 -1.8 0M147.7 210.9a0.9 0.9 0 1 0 1.8 0a0.9 0.9 0 1 0 -1.8 0M174.0 202.3a0.9 0.9 0 1 0 1.8 0a0.9 0.9 0 1 0 -1.8 0M169.4 183.3a0.9 0.9 0 1 0 1.8 0a0.9 0.9 0 1 0 -1.8 0M156.6 208.6a0.9 0.9 0 1 0 1.8 0a0.9 0.9 0 1 0 -1.8 0M159.1 211.6a0.9 0.9 0 1 0 1.8 0a0.9 0.9 0 1 0 -1.8 0M175.2 207.8a0.9 0.9 0 1 0 1.8 0a0.9 0.9 0 1 0 -1.8 0M148.8 203.1a0.9 0.9 0 1 0 1.8 0a0.9 0.9 0 1 0 -1.8 0M177.8 185.8a0.9 0.9 0 1 0 1.8 0a0.9 0.9 0 1 0 -1.8 0M153.7 208.8a0.9 0.9 0 1 0 1.8 0a0.9 0.9 0 1 0 -1.8 0M168.7 172.4a0.9 0.9 0 1 0 1.8 0a0.9 0.9 0 1 0 -1.8 0M184.2 186.2a0.9 0.9 0 1 0 1.8 0a0.9 0.9 0 1 0 -1.8 0M151.3 200.5a0.9 0.9 0 1 0 1.8 0a0.9 0.9 0 1 0 -1.8 0M153.7 210.7a0.9 0.9 0 1 0 1.8 0a0.9 0.9 0 1 0 -1.8 0M147.8 207.5a0.9 0.9 0 1 0 1.8 0a0.9 0.9 0 1 0 -1.8 0M158.7 191.4a0.9 0.9 0 1 0 1.8 0a0.9 0.9 0 1 0 -1.8 0M159.7 185.8a0.9 0.9 0 1 0 1.8 0a0.9 0.9 0 1 0 -1.8 0M164.9 181.9a0.9 0.9 0 1 0 1.8 0a0.9 0.9 0 1 0 -1.8 0M145.6 211.6a0.9 0.9 0 1 0 1.8 0a0.9 0.9 0 1 0 -1.8 0M154.6 203.0a0.9 0.9 0 1 0 1.8 0a0.9 0.9 0 1 0 -1.8 0M159.6 178.4a0.9 0.9 0 1 0 1.8 0a0.9 0.9 0 1 0 -1.8 0M163.8 204.3a0.9 0.9 0 1 0 1.8 0a0.9 0.9 0 1 0 -1.8 0M150.2 204.1a0.9 0.9 0 1 0 1.8 0a0.9 0.9 0 1 0 -1.8 0M158.1 196.2a0.9 0.9 0 1 0 1.8 0a0.9 0.9 0 1 0 -1.8 0M180.5 196.9a0.9 0.9 0 1 0 1.8 0a0.9 0.9 0 1 0 -1.8 0M155.4 202.6a0.9 0.9 0 1 0 1.8 0a0.9 0.9 0 1 0 -1.8 0M155.3 199.8a0.9 0.9 0 1 0 1.8 0a0.9 0.9 0 1 0 -1.8 0M176.0 206.2a0.9 0.9 0 1 0 1.8 0a0.9 0.9 0 1 0 -1.8 0M178.5 204.2a0.9 0.9 0 1 0 1.8 0a0.9 0.9 0 1 0 -1.8 0M148.2 205.2a0.9 0.9 0 1 0 1.8 0a0.9 0.9 0 1 0 -1.8 0M147.6 213.1a0.9 0.9 0 1 0 1.8 0a0.9 0.9 0 1 0 -1.8 0M166.1 200.7a0.9 0.9 0 1 0 1.8 0a0.9 0.9 0 1 0 -1.8 0M160.9 204.1a0.9 0.9 0 1 0 1.8 0a0.9 0.9 0 1 0 -1.8 0M163.8 212.1a0.9 0.9 0 1 0 1.8 0a0.9 0.9 0 1 0 -1.8 0M153.4 203.7a0.9 0.9 0 1 0 1.8 0a0.9 0.9 0 1 0 -1.8 0M148.2 209.0a0.9 0.9 0 1 0 1.8 0a0.9 0.9 0 1 0 -1.8 0M148.4 198.6a0.9 0.9 0 1 0 1.8 0a0.9 0.9 0 1 0 -1.8 0M146.7 207.0a0.9 0.9 0 1 0 1.8 0a0.9 0.9 0 1 0 -1.8 0M155.7 202.3a0.9 0.9 0 1 0 1.8 0a0.9 0.9 0 1 0 -1.8 0M149.5 207.3a0.9 0.9 0 1 0 1.8 0a0.9 0.9 0 1 0 -1.8 0M153.0 195.9a0.9 0.9 0 1 0 1.8 0a0.9 0.9 0 1 0 -1.8 0M170.6 207.4a0.9 0.9 0 1 0 1.8 0a0.9 0.9 0 1 0 -1.8 0M150.5 197.4a0.9 0.9 0 1 0 1.8 0a0.9 0.9 0 1 0 -1.8 0M175.3 177.5a0.9 0.9 0 1 0 1.8 0a0.9 0.9 0 1 0 -1.8 0M154.8 213.3a0.9 0.9 0 1 0 1.8 0a0.9 0.9 0 1 0 -1.8 0M168.3 213.1a0.9 0.9 0 1 0 1.8 0a0.9 0.9 0 1 0 -1.8 0M150.2 194.6a0.9 0.9 0 1 0 1.8 0a0.9 0.9 0 1 0 -1.8 0M164.4 209.7a0.9 0.9 0 1 0 1.8 0a0.9 0.9 0 1 0 -1.8 0M153.7 209.0a0.9 0.9 0 1 0 1.8 0a0.9 0.9 0 1 0 -1.8 0M150.3 196.9a0.9 0.9 0 1 0 1.8 0a0.9 0.9 0 1 0 -1.8 0M146.8 210.7a0.9 0.9 0 1 0 1.8 0a0.9 0.9 0 1 0 -1.8 0M147.1 213.4a0.9 0.9 0 1 0 1.8 0a0.9 0.9 0 1 0 -1.8 0M159.2 209.6a0.9 0.9 0 1 0 1.8 0a0.9 0.9 0 1 0 -1.8 0M148.8 205.7a0.9 0.9 0 1 0 1.8 0a0.9 0.9 0 1 0 -1.8 0M156.1 178.7a0.9 0.9 0 1 0 1.8 0a0.9 0.9 0 1 0 -1.8 0M153.6 181.3a0.9 0.9 0 1 0 1.8 0a0.9 0.9 0 1 0 -1.8 0M161.8 186.3a0.9 0.9 0 1 0 1.8 0a0.9 0.9 0 1 0 -1.8 0M161.1 188.8a0.9 0.9 0 1 0 1.8 0a0.9 0.9 0 1 0 -1.8 0M164.3 165.5a0.9 0.9 0 1 0 1.8 0a0.9 0.9 0 1 0 -1.8 0M175.9 168.8a0.9 0.9 0 1 0 1.8 0a0.9 0.9 0 1 0 -1.8 0M146.7 208.9a0.9 0.9 0 1 0 1.8 0a0.9 0.9 0 1 0 -1.8 0M156.4 213.1a0.9 0.9 0 1 0 1.8 0a0.9 0.9 0 1 0 -1.8 0M146.3 211.9a0.9 0.9 0 1 0 1.8 0a0.9 0.9 0 1 0 -1.8 0M183.5 158.3a0.9 0.9 0 1 0 1.8 0a0.9 0.9 0 1 0 -1.8 0M148.9 210.7a0.9 0.9 0 1 0 1.8 0a0.9 0.9 0 1 0 -1.8 0M150.6 211.9a0.9 0.9 0 1 0 1.8 0a0.9 0.9 0 1 0 -1.8 0M176.1 210.6a0.9 0.9 0 1 0 1.8 0a0.9 0.9 0 1 0 -1.8 0M146.2 208.7a0.9 0.9 0 1 0 1.8 0a0.9 0.9 0 1 0 -1.8 0M153.9 206.3a0.9 0.9 0 1 0 1.8 0a0.9 0.9 0 1 0 -1.8 0M146.8 205.6a0.9 0.9 0 1 0 1.8 0a0.9 0.9 0 1 0 -1.8 0M149.6 212.9a0.9 0.9 0 1 0 1.8 0a0.9 0.9 0 1 0 -1.8 0M153.6 210.8a0.9 0.9 0 1 0 1.8 0a0.9 0.9 0 1 0 -1.8 0M162.4 197.3a0.9 0.9 0 1 0 1.8 0a0.9 0.9 0 1 0 -1.8 0M157.9 188.6a0.9 0.9 0 1 0 1.8 0a0.9 0.9 0 1 0 -1.8 0M158.9 163.8a0.9 0.9 0 1 0 1.8 0a0.9 0.9 0 1 0 -1.8 0M154.2 172.8a0.9 0.9 0 1 0 1.8 0a0.9 0.9 0 1 0 -1.8 0M180.9 156.9a0.9 0.9 0 1 0 1.8 0a0.9 0.9 0 1 0 -1.8 0M159.0 162.0a0.9 0.9 0 1 0 1.8 0a0.9 0.9 0 1 0 -1.8 0M165.7 205.6a0.9 0.9 0 1 0 1.8 0a0.9 0.9 0 1 0 -1.8 0M176.6 161.1a0.9 0.9 0 1 0 1.8 0a0.9 0.9 0 1 0 -1.8 0M178.8 170.3a0.9 0.9 0 1 0 1.8 0a0.9 0.9 0 1 0 -1.8 0M147.2 208.6a0.9 0.9 0 1 0 1.8 0a0.9 0.9 0 1 0 -1.8 0M170.8 178.3a0.9 0.9 0 1 0 1.8 0a0.9 0.9 0 1 0 -1.8 0M156.0 200.3a0.9 0.9 0 1 0 1.8 0a0.9 0.9 0 1 0 -1.8 0M167.9 194.8a0.9 0.9 0 1 0 1.8 0a0.9 0.9 0 1 0 -1.8 0M158.5 204.8a0.9 0.9 0 1 0 1.8 0a0.9 0.9 0 1 0 -1.8 0M152.0 198.0a0.9 0.9 0 1 0 1.8 0a0.9 0.9 0 1 0 -1.8 0M157.7 210.3a0.9 0.9 0 1 0 1.8 0a0.9 0.9 0 1 0 -1.8 0M152.6 208.2a0.9 0.9 0 1 0 1.8 0a0.9 0.9 0 1 0 -1.8 0M161.3 196.5a0.9 0.9 0 1 0 1.8 0a0.9 0.9 0 1 0 -1.8 0M146.6 213.0a0.9 0.9 0 1 0 1.8 0a0.9 0.9 0 1 0 -1.8 0M153.0 197.7a0.9 0.9 0 1 0 1.8 0a0.9 0.9 0 1 0 -1.8 0M156.0 210.2a0.9 0.9 0 1 0 1.8 0a0.9 0.9 0 1 0 -1.8 0M151.9 200.5a0.9 0.9 0 1 0 1.8 0a0.9 0.9 0 1 0 -1.8 0M153.0 206.5a0.9 0.9 0 1 0 1.8 0a0.9 0.9 0 1 0 -1.8 0M154.0 187.1a0.9 0.9 0 1 0 1.8 0a0.9 0.9 0 1 0 -1.8 0M156.8 154.1a0.9 0.9 0 1 0 1.8 0a0.9 0.9 0 1 0 -1.8 0M148.0 210.2a0.9 0.9 0 1 0 1.8 0a0.9 0.9 0 1 0 -1.8 0M158.3 200.5a0.9 0.9 0 1 0 1.8 0a0.9 0.9 0 1 0 -1.8 0M179.5 205.1a0.9 0.9 0 1 0 1.8 0a0.9 0.9 0 1 0 -1.8 0M159.3 193.4a0.9 0.9 0 1 0 1.8 0a0.9 0.9 0 1 0 -1.8 0M159.8 169.0a0.9 0.9 0 1 0 1.8 0a0.9 0.9 0 1 0 -1.8 0M151.8 182.9a0.9 0.9 0 1 0 1.8 0a0.9 0.9 0 1 0 -1.8 0M153.0 205.9a0.9 0.9 0 1 0 1.8 0a0.9 0.9 0 1 0 -1.8 0M149.1 212.2a0.9 0.9 0 1 0 1.8 0a0.9 0.9 0 1 0 -1.8 0M149.5 192.0a0.9 0.9 0 1 0 1.8 0a0.9 0.9 0 1 0 -1.8 0M158.9 160.3a0.9 0.9 0 1 0 1.8 0a0.9 0.9 0 1 0 -1.8 0M151.0 208.4a0.9 0.9 0 1 0 1.8 0a0.9 0.9 0 1 0 -1.8 0M161.3 176.3a0.9 0.9 0 1 0 1.8 0a0.9 0.9 0 1 0 -1.8 0M146.3 210.1a0.9 0.9 0 1 0 1.8 0a0.9 0.9 0 1 0 -1.8 0M154.3 192.4a0.9 0.9 0 1 0 1.8 0a0.9 0.9 0 1 0 -1.8 0M152.2 198.0a0.9 0.9 0 1 0 1.8 0a0.9 0.9 0 1 0 -1.8 0M149.7 211.5a0.9 0.9 0 1 0 1.8 0a0.9 0.9 0 1 0 -1.8 0M148.8 198.7a0.9 0.9 0 1 0 1.8 0a0.9 0.9 0 1 0 -1.8 0M174.1 185.1a0.9 0.9 0 1 0 1.8 0a0.9 0.9 0 1 0 -1.8 0M146.4 210.0a0.9 0.9 0 1 0 1.8 0a0.9 0.9 0 1 0 -1.8 0M153.4 205.9a0.9 0.9 0 1 0 1.8 0a0.9 0.9 0 1 0 -1.8 0M158.4 209.8a0.9 0.9 0 1 0 1.8 0a0.9 0.9 0 1 0 -1.8 0M162.3 197.3a0.9 0.9 0 1 0 1.8 0a0.9 0.9 0 1 0 -1.8 0M152.5 204.2a0.9 0.9 0 1 0 1.8 0a0.9 0.9 0 1 0 -1.8 0M147.5 211.9a0.9 0.9 0 1 0 1.8 0a0.9 0.9 0 1 0 -1.8 0M155.8 182.2a0.9 0.9 0 1 0 1.8 0a0.9 0.9 0 1 0 -1.8 0M172.9 150.2a0.9 0.9 0 1 0 1.8 0a0.9 0.9 0 1 0 -1.8 0M146.4 211.4a0.9 0.9 0 1 0 1.8 0a0.9 0.9 0 1 0 -1.8 0M147.6 212.9a0.9 0.9 0 1 0 1.8 0a0.9 0.9 0 1 0 -1.8 0M171.2 203.9a0.9 0.9 0 1 0 1.8 0a0.9 0.9 0 1 0 -1.8 0M158.9 187.6a0.9 0.9 0 1 0 1.8 0a0.9 0.9 0 1 0 -1.8 0M150.2 208.3a0.9 0.9 0 1 0 1.8 0a0.9 0.9 0 1 0 -1.8 0M177.4 210.1a0.9 0.9 0 1 0 1.8 0a0.9 0.9 0 1 0 -1.8 0M157.2 205.6a0.9 0.9 0 1 0 1.8 0a0.9 0.9 0 1 0 -1.8 0M151.7 200.2a0.9 0.9 0 1 0 1.8 0a0.9 0.9 0 1 0 -1.8 0M152.1 207.9a0.9 0.9 0 1 0 1.8 0a0.9 0.9 0 1 0 -1.8 0M160.9 186.9a0.9 0.9 0 1 0 1.8 0a0.9 0.9 0 1 0 -1.8 0M181.8 182.6a0.9 0.9 0 1 0 1.8 0a0.9 0.9 0 1 0 -1.8 0M164.2 151.8a0.9 0.9 0 1 0 1.8 0a0.9 0.9 0 1 0 -1.8 0M151.9 212.0a0.9 0.9 0 1 0 1.8 0a0.9 0.9 0 1 0 -1.8 0M175.2 179.9a0.9 0.9 0 1 0 1.8 0a0.9 0.9 0 1 0 -1.8 0M156.6 196.6a0.9 0.9 0 1 0 1.8 0a0.9 0.9 0 1 0 -1.8 0M157.6 213.5a0.9 0.9 0 1 0 1.8 0a0.9 0.9 0 1 0 -1.8 0M168.9 183.7a0.9 0.9 0 1 0 1.8 0a0.9 0.9 0 1 0 -1.8 0M147.9 212.4a0.9 0.9 0 1 0 1.8 0a0.9 0.9 0 1 0 -1.8 0M149.4 199.6a0.9 0.9 0 1 0 1.8 0a0.9 0.9 0 1 0 -1.8 0M156.2 205.1a0.9 0.9 0 1 0 1.8 0a0.9 0.9 0 1 0 -1.8 0M153.9 211.0a0.9 0.9 0 1 0 1.8 0a0.9 0.9 0 1 0 -1.8 0M151.7 209.7a0.9 0.9 0 1 0 1.8 0a0.9 0.9 0 1 0 -1.8 0M148.3 210.8a0.9 0.9 0 1 0 1.8 0a0.9 0.9 0 1 0 -1.8 0M162.0 168.9a0.9 0.9 0 1 0 1.8 0a0.9 0.9 0 1 0 -1.8 0M158.5 205.7a0.9 0.9 0 1 0 1.8 0a0.9 0.9 0 1 0 -1.8 0M155.8 210.4a0.9 0.9 0 1 0 1.8 0a0.9 0.9 0 1 0 -1.8 0M148.4 199.5a0.9 0.9 0 1 0 1.8 0a0.9 0.9 0 1 0 -1.8 0M157.8 207.5a0.9 0.9 0 1 0 1.8 0a0.9 0.9 0 1 0 -1.8 0M167.4 194.9a0.9 0.9 0 1 0 1.8 0a0.9 0.9 0 1 0 -1.8 0M176.6 211.2a0.9 0.9 0 1 0 1.8 0a0.9 0.9 0 1 0 -1.8 0M152.9 193.4a0.9 0.9 0 1 0 1.8 0a0.9 0.9 0 1 0 -1.8 0M153.1 196.9a0.9 0.9 0 1 0 1.8 0a0.9 0.9 0 1 0 -1.8 0M155.1 182.3a0.9 0.9 0 1 0 1.8 0a0.9 0.9 0 1 0 -1.8 0M157.3 207.5a0.9 0.9 0 1 0 1.8 0a0.9 0.9 0 1 0 -1.8 0M152.4 204.6a0.9 0.9 0 1 0 1.8 0a0.9 0.9 0 1 0 -1.8 0M157.1 170.1a0.9 0.9 0 1 0 1.8 0a0.9 0.9 0 1 0 -1.8 0M149.4 213.3a0.9 0.9 0 1 0 1.8 0a0.9 0.9 0 1 0 -1.8 0M166.7 154.4a0.9 0.9 0 1 0 1.8 0a0.9 0.9 0 1 0 -1.8 0M176.2 181.0a0.9 0.9 0 1 0 1.8 0a0.9 0.9 0 1 0 -1.8 0M153.4 200.9a0.9 0.9 0 1 0 1.8 0a0.9 0.9 0 1 0 -1.8 0M147.8 209.2a0.9 0.9 0 1 0 1.8 0a0.9 0.9 0 1 0 -1.8 0M149.9 210.1a0.9 0.9 0 1 0 1.8 0a0.9 0.9 0 1 0 -1.8 0M181.3 206.1a0.9 0.9 0 1 0 1.8 0a0.9 0.9 0 1 0 -1.8 0M162.7 208.7a0.9 0.9 0 1 0 1.8 0a0.9 0.9 0 1 0 -1.8 0M151.5 186.3a0.9 0.9 0 1 0 1.8 0a0.9 0.9 0 1 0 -1.8 0M170.6 208.4a0.9 0.9 0 1 0 1.8 0a0.9 0.9 0 1 0 -1.8 0M168.1 208.6a0.9 0.9 0 1 0 1.8 0a0.9 0.9 0 1 0 -1.8 0M162.9 207.7a0.9 0.9 0 1 0 1.8 0a0.9 0.9 0 1 0 -1.8 0M145.9 211.4a0.9 0.9 0 1 0 1.8 0a0.9 0.9 0 1 0 -1.8 0M156.2 183.7a0.9 0.9 0 1 0 1.8 0a0.9 0.9 0 1 0 -1.8 0M166.6 156.5a0.9 0.9 0 1 0 1.8 0a0.9 0.9 0 1 0 -1.8 0M171.3 176.0a0.9 0.9 0 1 0 1.8 0a0.9 0.9 0 1 0 -1.8 0M152.9 198.9a0.9 0.9 0 1 0 1.8 0a0.9 0.9 0 1 0 -1.8 0M182.0 155.3a0.9 0.9 0 1 0 1.8 0a0.9 0.9 0 1 0 -1.8 0M147.7 212.4a0.9 0.9 0 1 0 1.8 0a0.9 0.9 0 1 0 -1.8 0M150.9 210.5a0.9 0.9 0 1 0 1.8 0a0.9 0.9 0 1 0 -1.8 0M154.9 182.4a0.9 0.9 0 1 0 1.8 0a0.9 0.9 0 1 0 -1.8 0M160.7 175.1a0.9 0.9 0 1 0 1.8 0a0.9 0.9 0 1 0 -1.8 0M160.8 208.6a0.9 0.9 0 1 0 1.8 0a0.9 0.9 0 1 0 -1.8 0M157.9 211.4a0.9 0.9 0 1 0 1.8 0a0.9 0.9 0 1 0 -1.8 0M145.5 213.2a0.9 0.9 0 1 0 1.8 0a0.9 0.9 0 1 0 -1.8 0M183.0 209.3a0.9 0.9 0 1 0 1.8 0a0.9 0.9 0 1 0 -1.8 0M164.9 150.8a0.9 0.9 0 1 0 1.8 0a0.9 0.9 0 1 0 -1.8 0M151.1 212.8a0.9 0.9 0 1 0 1.8 0a0.9 0.9 0 1 0 -1.8 0M149.2 206.9a0.9 0.9 0 1 0 1.8 0a0.9 0.9 0 1 0 -1.8 0M160.3 202.4a0.9 0.9 0 1 0 1.8 0a0.9 0.9 0 1 0 -1.8 0M182.4 159.8a0.9 0.9 0 1 0 1.8 0a0.9 0.9 0 1 0 -1.8 0M154.6 191.9a0.9 0.9 0 1 0 1.8 0a0.9 0.9 0 1 0 -1.8 0M159.2 208.4a0.9 0.9 0 1 0 1.8 0a0.9 0.9 0 1 0 -1.8 0M148.3 210.6a0.9 0.9 0 1 0 1.8 0a0.9 0.9 0 1 0 -1.8 0M163.9 188.1a0.9 0.9 0 1 0 1.8 0a0.9 0.9 0 1 0 -1.8 0M160.5 210.8a0.9 0.9 0 1 0 1.8 0a0.9 0.9 0 1 0 -1.8 0M158.8 157.5a0.9 0.9 0 1 0 1.8 0a0.9 0.9 0 1 0 -1.8 0M175.2 193.5a0.9 0.9 0 1 0 1.8 0a0.9 0.9 0 1 0 -1.8 0M148.7 211.4a0.9 0.9 0 1 0 1.8 0a0.9 0.9 0 1 0 -1.8 0M177.2 211.5a0.9 0.9 0 1 0 1.8 0a0.9 0.9 0 1 0 -1.8 0M159.7 182.1a0.9 0.9 0 1 0 1.8 0a0.9 0.9 0 1 0 -1.8 0M155.9 185.3a0.9 0.9 0 1 0 1.8 0a0.9 0.9 0 1 0 -1.8 0M159.3 153.5a0.9 0.9 0 1 0 1.8 0a0.9 0.9 0 1 0 -1.8 0M150.2 202.4a0.9 0.9 0 1 0 1.8 0a0.9 0.9 0 1 0 -1.8 0M147.4 212.2a0.9 0.9 0 1 0 1.8 0a0.9 0.9 0 1 0 -1.8 0M159.2 203.0a0.9 0.9 0 1 0 1.8 0a0.9 0.9 0 1 0 -1.8 0M150.3 200.4a0.9 0.9 0 1 0 1.8 0a0.9 0.9 0 1 0 -1.8 0M159.6 211.3a0.9 0.9 0 1 0 1.8 0a0.9 0.9 0 1 0 -1.8 0M146.1 213.2a0.9 0.9 0 1 0 1.8 0a0.9 0.9 0 1 0 -1.8 0M158.1 204.4a0.9 0.9 0 1 0 1.8 0a0.9 0.9 0 1 0 -1.8 0M155.8 211.9a0.9 0.9 0 1 0 1.8 0a0.9 0.9 0 1 0 -1.8 0M149.3 210.0a0.9 0.9 0 1 0 1.8 0a0.9 0.9 0 1 0 -1.8 0M160.8 194.0a0.9 0.9 0 1 0 1.8 0a0.9 0.9 0 1 0 -1.8 0M166.2 207.5a0.9 0.9 0 1 0 1.8 0a0.9 0.9 0 1 0 -1.8 0M153.0 190.7a0.9 0.9 0 1 0 1.8 0a0.9 0.9 0 1 0 -1.8 0M147.8 201.0a0.9 0.9 0 1 0 1.8 0a0.9 0.9 0 1 0 -1.8 0M178.2 186.9a0.9 0.9 0 1 0 1.8 0a0.9 0.9 0 1 0 -1.8 0M160.0 188.3a0.9 0.9 0 1 0 1.8 0a0.9 0.9 0 1 0 -1.8 0M175.7 201.7a0.9 0.9 0 1 0 1.8 0a0.9 0.9 0 1 0 -1.8 0M152.8 202.3a0.9 0.9 0 1 0 1.8 0a0.9 0.9 0 1 0 -1.8 0M148.3 212.1a0.9 0.9 0 1 0 1.8 0a0.9 0.9 0 1 0 -1.8 0M153.3 182.8a0.9 0.9 0 1 0 1.8 0a0.9 0.9 0 1 0 -1.8 0M169.8 212.4a0.9 0.9 0 1 0 1.8 0a0.9 0.9 0 1 0 -1.8 0M152.2 183.1a0.9 0.9 0 1 0 1.8 0a0.9 0.9 0 1 0 -1.8 0M151.8 193.1a0.9 0.9 0 1 0 1.8 0a0.9 0.9 0 1 0 -1.8 0M154.3 199.8a0.9 0.9 0 1 0 1.8 0a0.9 0.9 0 1 0 -1.8 0M160.5 160.9a0.9 0.9 0 1 0 1.8 0a0.9 0.9 0 1 0 -1.8 0M153.5 207.9a0.9 0.9 0 1 0 1.8 0a0.9 0.9 0 1 0 -1.8 0M147.8 212.4a0.9 0.9 0 1 0 1.8 0a0.9 0.9 0 1 0 -1.8 0M157.2 156.6a0.9 0.9 0 1 0 1.8 0a0.9 0.9 0 1 0 -1.8 0M149.0 197.0a0.9 0.9 0 1 0 1.8 0a0.9 0.9 0 1 0 -1.8 0M156.0 206.5a0.9 0.9 0 1 0 1.8 0a0.9 0.9 0 1 0 -1.8 0M151.7 202.2a0.9 0.9 0 1 0 1.8 0a0.9 0.9 0 1 0 -1.8 0M153.4 203.5a0.9 0.9 0 1 0 1.8 0a0.9 0.9 0 1 0 -1.8 0M152.4 206.9a0.9 0.9 0 1 0 1.8 0a0.9 0.9 0 1 0 -1.8 0M155.1 202.4a0.9 0.9 0 1 0 1.8 0a0.9 0.9 0 1 0 -1.8 0M168.5 196.7a0.9 0.9 0 1 0 1.8 0a0.9 0.9 0 1 0 -1.8 0M151.2 211.6a0.9 0.9 0 1 0 1.8 0a0.9 0.9 0 1 0 -1.8 0M150.2 212.4a0.9 0.9 0 1 0 1.8 0a0.9 0.9 0 1 0 -1.8 0M153.7 207.0a0.9 0.9 0 1 0 1.8 0a0.9 0.9 0 1 0 -1.8 0M148.5 201.9a0.9 0.9 0 1 0 1.8 0a0.9 0.9 0 1 0 -1.8 0M171.5 164.2a0.9 0.9 0 1 0 1.8 0a0.9 0.9 0 1 0 -1.8 0M151.8 205.6a0.9 0.9 0 1 0 1.8 0a0.9 0.9 0 1 0 -1.8 0M167.5 205.3a0.9 0.9 0 1 0 1.8 0a0.9 0.9 0 1 0 -1.8 0M169.9 166.0a0.9 0.9 0 1 0 1.8 0a0.9 0.9 0 1 0 -1.8 0M160.9 155.4a0.9 0.9 0 1 0 1.8 0a0.9 0.9 0 1 0 -1.8 0M158.1 154.4a0.9 0.9 0 1 0 1.8 0a0.9 0.9 0 1 0 -1.8 0M150.7 197.1a0.9 0.9 0 1 0 1.8 0a0.9 0.9 0 1 0 -1.8 0M171.1 196.4a0.9 0.9 0 1 0 1.8 0a0.9 0.9 0 1 0 -1.8 0M173.3 205.6a0.9 0.9 0 1 0 1.8 0a0.9 0.9 0 1 0 -1.8 0M152.2 210.3a0.9 0.9 0 1 0 1.8 0a0.9 0.9 0 1 0 -1.8 0M146.8 213.5a0.9 0.9 0 1 0 1.8 0a0.9 0.9 0 1 0 -1.8 0M172.1 180.9a0.9 0.9 0 1 0 1.8 0a0.9 0.9 0 1 0 -1.8 0M164.5 203.2a0.9 0.9 0 1 0 1.8 0a0.9 0.9 0 1 0 -1.8 0M157.8 204.9a0.9 0.9 0 1 0 1.8 0a0.9 0.9 0 1 0 -1.8 0M162.5 189.2a0.9 0.9 0 1 0 1.8 0a0.9 0.9 0 1 0 -1.8 0M152.0 188.3a0.9 0.9 0 1 0 1.8 0a0.9 0.9 0 1 0 -1.8 0M163.2 173.7a0.9 0.9 0 1 0 1.8 0a0.9 0.9 0 1 0 -1.8 0M160.1 208.6a0.9 0.9 0 1 0 1.8 0a0.9 0.9 0 1 0 -1.8 0M157.4 211.7a0.9 0.9 0 1 0 1.8 0a0.9 0.9 0 1 0 -1.8 0M153.4 193.4a0.9 0.9 0 1 0 1.8 0a0.9 0.9 0 1 0 -1.8 0M175.2 164.3a0.9 0.9 0 1 0 1.8 0a0.9 0.9 0 1 0 -1.8 0M146.0 209.5a0.9 0.9 0 1 0 1.8 0a0.9 0.9 0 1 0 -1.8 0M153.7 212.1a0.9 0.9 0 1 0 1.8 0a0.9 0.9 0 1 0 -1.8 0M170.7 205.4a0.9 0.9 0 1 0 1.8 0a0.9 0.9 0 1 0 -1.8 0M155.2 210.9a0.9 0.9 0 1 0 1.8 0a0.9 0.9 0 1 0 -1.8 0M149.1 212.7a0.9 0.9 0 1 0 1.8 0a0.9 0.9 0 1 0 -1.8 0M157.1 203.5a0.9 0.9 0 1 0 1.8 0a0.9 0.9 0 1 0 -1.8 0M154.9 202.3a0.9 0.9 0 1 0 1.8 0a0.9 0.9 0 1 0 -1.8 0M156.7 180.9a0.9 0.9 0 1 0 1.8 0a0.9 0.9 0 1 0 -1.8 0M153.8 212.8a0.9 0.9 0 1 0 1.8 0a0.9 0.9 0 1 0 -1.8 0M166.9 163.9a0.9 0.9 0 1 0 1.8 0a0.9 0.9 0 1 0 -1.8 0M151.8 204.1a0.9 0.9 0 1 0 1.8 0a0.9 0.9 0 1 0 -1.8 0M174.5 207.0a0.9 0.9 0 1 0 1.8 0a0.9 0.9 0 1 0 -1.8 0M178.1 198.1a0.9 0.9 0 1 0 1.8 0a0.9 0.9 0 1 0 -1.8 0M152.5 204.9a0.9 0.9 0 1 0 1.8 0a0.9 0.9 0 1 0 -1.8 0M157.6 213.3a0.9 0.9 0 1 0 1.8 0a0.9 0.9 0 1 0 -1.8 0M177.8 204.4a0.9 0.9 0 1 0 1.8 0a0.9 0.9 0 1 0 -1.8 0M153.9 211.3a0.9 0.9 0 1 0 1.8 0a0.9 0.9 0 1 0 -1.8 0M167.2 201.7a0.9 0.9 0 1 0 1.8 0a0.9 0.9 0 1 0 -1.8 0M149.3 209.6a0.9 0.9 0 1 0 1.8 0a0.9 0.9 0 1 0 -1.8 0M174.7 187.6a0.9 0.9 0 1 0 1.8 0a0.9 0.9 0 1 0 -1.8 0M168.6 166.3a0.9 0.9 0 1 0 1.8 0a0.9 0.9 0 1 0 -1.8 0M155.2 185.0a0.9 0.9 0 1 0 1.8 0a0.9 0.9 0 1 0 -1.8 0M146.1 210.8a0.9 0.9 0 1 0 1.8 0a0.9 0.9 0 1 0 -1.8 0M163.8 197.4a0.9 0.9 0 1 0 1.8 0a0.9 0.9 0 1 0 -1.8 0M160.9 168.5a0.9 0.9 0 1 0 1.8 0a0.9 0.9 0 1 0 -1.8 0M162.1 207.1a0.9 0.9 0 1 0 1.8 0a0.9 0.9 0 1 0 -1.8 0M155.2 210.3a0.9 0.9 0 1 0 1.8 0a0.9 0.9 0 1 0 -1.8 0M173.7 200.1a0.9 0.9 0 1 0 1.8 0a0.9 0.9 0 1 0 -1.8 0M148.3 210.4a0.9 0.9 0 1 0 1.8 0a0.9 0.9 0 1 0 -1.8 0M156.4 188.5a0.9 0.9 0 1 0 1.8 0a0.9 0.9 0 1 0 -1.8 0M167.3 185.4a0.9 0.9 0 1 0 1.8 0a0.9 0.9 0 1 0 -1.8 0M166.9 192.0a0.9 0.9 0 1 0 1.8 0a0.9 0.9 0 1 0 -1.8 0M171.8 186.0a0.9 0.9 0 1 0 1.8 0a0.9 0.9 0 1 0 -1.8 0M148.2 209.6a0.9 0.9 0 1 0 1.8 0a0.9 0.9 0 1 0 -1.8 0M165.3 213.0a0.9 0.9 0 1 0 1.8 0a0.9 0.9 0 1 0 -1.8 0M158.9 182.3a0.9 0.9 0 1 0 1.8 0a0.9 0.9 0 1 0 -1.8 0M160.2 199.8a0.9 0.9 0 1 0 1.8 0a0.9 0.9 0 1 0 -1.8 0M149.2 198.0a0.9 0.9 0 1 0 1.8 0a0.9 0.9 0 1 0 -1.8 0M162.6 208.6a0.9 0.9 0 1 0 1.8 0a0.9 0.9 0 1 0 -1.8 0M157.9 157.0a0.9 0.9 0 1 0 1.8 0a0.9 0.9 0 1 0 -1.8 0M146.7 211.2a0.9 0.9 0 1 0 1.8 0a0.9 0.9 0 1 0 -1.8 0M174.3 191.4a0.9 0.9 0 1 0 1.8 0a0.9 0.9 0 1 0 -1.8 0M163.5 193.1a0.9 0.9 0 1 0 1.8 0a0.9 0.9 0 1 0 -1.8 0M146.2 212.7a0.9 0.9 0 1 0 1.8 0a0.9 0.9 0 1 0 -1.8 0M152.3 200.9a0.9 0.9 0 1 0 1.8 0a0.9 0.9 0 1 0 -1.8 0M157.5 210.0a0.9 0.9 0 1 0 1.8 0a0.9 0.9 0 1 0 -1.8 0M177.3 209.4a0.9 0.9 0 1 0 1.8 0a0.9 0.9 0 1 0 -1.8 0M164.0 191.1a0.9 0.9 0 1 0 1.8 0a0.9 0.9 0 1 0 -1.8 0M152.1 207.6a0.9 0.9 0 1 0 1.8 0a0.9 0.9 0 1 0 -1.8 0M167.4 191.8a0.9 0.9 0 1 0 1.8 0a0.9 0.9 0 1 0 -1.8 0M163.3 211.1a0.9 0.9 0 1 0 1.8 0a0.9 0.9 0 1 0 -1.8 0M151.9 193.4a0.9 0.9 0 1 0 1.8 0a0.9 0.9 0 1 0 -1.8 0M158.3 211.3a0.9 0.9 0 1 0 1.8 0a0.9 0.9 0 1 0 -1.8 0M163.3 205.9a0.9 0.9 0 1 0 1.8 0a0.9 0.9 0 1 0 -1.8 0M151.2 205.8a0.9 0.9 0 1 0 1.8 0a0.9 0.9 0 1 0 -1.8 0M156.3 211.1a0.9 0.9 0 1 0 1.8 0a0.9 0.9 0 1 0 -1.8 0M153.9 212.6a0.9 0.9 0 1 0 1.8 0a0.9 0.9 0 1 0 -1.8 0M165.0 195.4a0.9 0.9 0 1 0 1.8 0a0.9 0.9 0 1 0 -1.8 0M162.0 173.8a0.9 0.9 0 1 0 1.8 0a0.9 0.9 0 1 0 -1.8 0M168.0 208.0a0.9 0.9 0 1 0 1.8 0a0.9 0.9 0 1 0 -1.8 0M150.8 187.7a0.9 0.9 0 1 0 1.8 0a0.9 0.9 0 1 0 -1.8 0M166.9 210.3a0.9 0.9 0 1 0 1.8 0a0.9 0.9 0 1 0 -1.8 0M167.2 208.3a0.9 0.9 0 1 0 1.8 0a0.9 0.9 0 1 0 -1.8 0M154.3 206.6a0.9 0.9 0 1 0 1.8 0a0.9 0.9 0 1 0 -1.8 0M178.1 165.8a0.9 0.9 0 1 0 1.8 0a0.9 0.9 0 1 0 -1.8 0M147.6 209.3a0.9 0.9 0 1 0 1.8 0a0.9 0.9 0 1 0 -1.8 0M181.6 171.6a0.9 0.9 0 1 0 1.8 0a0.9 0.9 0 1 0 -1.8 0M161.5 207.1a0.9 0.9 0 1 0 1.8 0a0.9 0.9 0 1 0 -1.8 0M150.7 212.4a0.9 0.9 0 1 0 1.8 0a0.9 0.9 0 1 0 -1.8 0M150.8 198.8a0.9 0.9 0 1 0 1.8 0a0.9 0.9 0 1 0 -1.8 0M171.0 199.4a0.9 0.9 0 1 0 1.8 0a0.9 0.9 0 1 0 -1.8 0M148.0 212.0a0.9 0.9 0 1 0 1.8 0a0.9 0.9 0 1 0 -1.8 0M148.7 205.1a0.9 0.9 0 1 0 1.8 0a0.9 0.9 0 1 0 -1.8 0M178.0 211.5a0.9 0.9 0 1 0 1.8 0a0.9 0.9 0 1 0 -1.8 0M179.1 207.5a0.9 0.9 0 1 0 1.8 0a0.9 0.9 0 1 0 -1.8 0M167.1 167.1a0.9 0.9 0 1 0 1.8 0a0.9 0.9 0 1 0 -1.8 0M148.9 201.8a0.9 0.9 0 1 0 1.8 0a0.9 0.9 0 1 0 -1.8 0M146.6 208.1a0.9 0.9 0 1 0 1.8 0a0.9 0.9 0 1 0 -1.8 0M165.0 195.2a0.9 0.9 0 1 0 1.8 0a0.9 0.9 0 1 0 -1.8 0M154.7 202.0a0.9 0.9 0 1 0 1.8 0a0.9 0.9 0 1 0 -1.8 0M153.2 202.9a0.9 0.9 0 1 0 1.8 0a0.9 0.9 0 1 0 -1.8 0M170.5 155.9a0.9 0.9 0 1 0 1.8 0a0.9 0.9 0 1 0 -1.8 0M155.5 197.4a0.9 0.9 0 1 0 1.8 0a0.9 0.9 0 1 0 -1.8 0M174.9 198.6a0.9 0.9 0 1 0 1.8 0a0.9 0.9 0 1 0 -1.8 0M154.6 201.7a0.9 0.9 0 1 0 1.8 0a0.9 0.9 0 1 0 -1.8 0M148.7 202.1a0.9 0.9 0 1 0 1.8 0a0.9 0.9 0 1 0 -1.8 0M165.6 195.7a0.9 0.9 0 1 0 1.8 0a0.9 0.9 0 1 0 -1.8 0M150.8 210.5a0.9 0.9 0 1 0 1.8 0a0.9 0.9 0 1 0 -1.8 0M153.5 202.3a0.9 0.9 0 1 0 1.8 0a0.9 0.9 0 1 0 -1.8 0M155.0 182.1a0.9 0.9 0 1 0 1.8 0a0.9 0.9 0 1 0 -1.8 0M155.3 195.9a0.9 0.9 0 1 0 1.8 0a0.9 0.9 0 1 0 -1.8 0M154.7 169.9a0.9 0.9 0 1 0 1.8 0a0.9 0.9 0 1 0 -1.8 0M158.7 211.9a0.9 0.9 0 1 0 1.8 0a0.9 0.9 0 1 0 -1.8 0M153.7 180.8a0.9 0.9 0 1 0 1.8 0a0.9 0.9 0 1 0 -1.8 0M160.6 204.7a0.9 0.9 0 1 0 1.8 0a0.9 0.9 0 1 0 -1.8 0M168.2 201.8a0.9 0.9 0 1 0 1.8 0a0.9 0.9 0 1 0 -1.8 0M175.6 207.7a0.9 0.9 0 1 0 1.8 0a0.9 0.9 0 1 0 -1.8 0M153.9 200.2a0.9 0.9 0 1 0 1.8 0a0.9 0.9 0 1 0 -1.8 0M147.9 213.3a0.9 0.9 0 1 0 1.8 0a0.9 0.9 0 1 0 -1.8 0M158.3 207.5a0.9 0.9 0 1 0 1.8 0a0.9 0.9 0 1 0 -1.8 0M148.2 210.3a0.9 0.9 0 1 0 1.8 0a0.9 0.9 0 1 0 -1.8 0M175.9 153.8a0.9 0.9 0 1 0 1.8 0a0.9 0.9 0 1 0 -1.8 0M155.9 194.6a0.9 0.9 0 1 0 1.8 0a0.9 0.9 0 1 0 -1.8 0M158.2 212.3a0.9 0.9 0 1 0 1.8 0a0.9 0.9 0 1 0 -1.8 0M166.0 173.4a0.9 0.9 0 1 0 1.8 0a0.9 0.9 0 1 0 -1.8 0M175.3 210.9a0.9 0.9 0 1 0 1.8 0a0.9 0.9 0 1 0 -1.8 0M167.5 201.8a0.9 0.9 0 1 0 1.8 0a0.9 0.9 0 1 0 -1.8 0M157.0 184.0a0.9 0.9 0 1 0 1.8 0a0.9 0.9 0 1 0 -1.8 0M160.6 212.4a0.9 0.9 0 1 0 1.8 0a0.9 0.9 0 1 0 -1.8 0M154.3 191.2a0.9 0.9 0 1 0 1.8 0a0.9 0.9 0 1 0 -1.8 0M150.8 210.5a0.9 0.9 0 1 0 1.8 0a0.9 0.9 0 1 0 -1.8 0M152.5 196.0a0.9 0.9 0 1 0 1.8 0a0.9 0.9 0 1 0 -1.8 0M152.5 206.2a0.9 0.9 0 1 0 1.8 0a0.9 0.9 0 1 0 -1.8 0M153.0 201.1a0.9 0.9 0 1 0 1.8 0a0.9 0.9 0 1 0 -1.8 0M157.4 159.3a0.9 0.9 0 1 0 1.8 0a0.9 0.9 0 1 0 -1.8 0M163.8 192.6a0.9 0.9 0 1 0 1.8 0a0.9 0.9 0 1 0 -1.8 0M159.4 172.0a0.9 0.9 0 1 0 1.8 0a0.9 0.9 0 1 0 -1.8 0M147.7 212.2a0.9 0.9 0 1 0 1.8 0a0.9 0.9 0 1 0 -1.8 0M152.0 191.8a0.9 0.9 0 1 0 1.8 0a0.9 0.9 0 1 0 -1.8 0M159.5 163.3a0.9 0.9 0 1 0 1.8 0a0.9 0.9 0 1 0 -1.8 0M182.8 175.1a0.9 0.9 0 1 0 1.8 0a0.9 0.9 0 1 0 -1.8 0M175.4 187.1a0.9 0.9 0 1 0 1.8 0a0.9 0.9 0 1 0 -1.8 0M161.5 201.4a0.9 0.9 0 1 0 1.8 0a0.9 0.9 0 1 0 -1.8 0M155.8 197.7a0.9 0.9 0 1 0 1.8 0a0.9 0.9 0 1 0 -1.8 0M157.9 178.5a0.9 0.9 0 1 0 1.8 0a0.9 0.9 0 1 0 -1.8 0M151.3 212.2a0.9 0.9 0 1 0 1.8 0a0.9 0.9 0 1 0 -1.8 0M148.2 206.4a0.9 0.9 0 1 0 1.8 0a0.9 0.9 0 1 0 -1.8 0M154.9 205.7a0.9 0.9 0 1 0 1.8 0a0.9 0.9 0 1 0 -1.8 0M160.1 213.6a0.9 0.9 0 1 0 1.8 0a0.9 0.9 0 1 0 -1.8 0M159.1 204.1a0.9 0.9 0 1 0 1.8 0a0.9 0.9 0 1 0 -1.8 0M158.1 190.0a0.9 0.9 0 1 0 1.8 0a0.9 0.9 0 1 0 -1.8 0M155.6 209.2a0.9 0.9 0 1 0 1.8 0a0.9 0.9 0 1 0 -1.8 0M180.4 200.2a0.9 0.9 0 1 0 1.8 0a0.9 0.9 0 1 0 -1.8 0M170.7 166.0a0.9 0.9 0 1 0 1.8 0a0.9 0.9 0 1 0 -1.8 0M151.1 186.7a0.9 0.9 0 1 0 1.8 0a0.9 0.9 0 1 0 -1.8 0M161.4 174.0a0.9 0.9 0 1 0 1.8 0a0.9 0.9 0 1 0 -1.8 0M159.5 190.6a0.9 0.9 0 1 0 1.8 0a0.9 0.9 0 1 0 -1.8 0M151.8 196.3a0.9 0.9 0 1 0 1.8 0a0.9 0.9 0 1 0 -1.8 0M154.5 207.4a0.9 0.9 0 1 0 1.8 0a0.9 0.9 0 1 0 -1.8 0M172.8 195.3a0.9 0.9 0 1 0 1.8 0a0.9 0.9 0 1 0 -1.8 0M150.1 205.6a0.9 0.9 0 1 0 1.8 0a0.9 0.9 0 1 0 -1.8 0M176.6 169.7a0.9 0.9 0 1 0 1.8 0a0.9 0.9 0 1 0 -1.8 0M154.8 192.8a0.9 0.9 0 1 0 1.8 0a0.9 0.9 0 1 0 -1.8 0M158.5 203.4a0.9 0.9 0 1 0 1.8 0a0.9 0.9 0 1 0 -1.8 0M156.9 211.4a0.9 0.9 0 1 0 1.8 0a0.9 0.9 0 1 0 -1.8 0M153.0 179.1a0.9 0.9 0 1 0 1.8 0a0.9 0.9 0 1 0 -1.8 0M167.3 183.5a0.9 0.9 0 1 0 1.8 0a0.9 0.9 0 1 0 -1.8 0M181.6 195.3a0.9 0.9 0 1 0 1.8 0a0.9 0.9 0 1 0 -1.8 0M158.7 202.5a0.9 0.9 0 1 0 1.8 0a0.9 0.9 0 1 0 -1.8 0M160.1 203.1a0.9 0.9 0 1 0 1.8 0a0.9 0.9 0 1 0 -1.8 0M155.1 200.8a0.9 0.9 0 1 0 1.8 0a0.9 0.9 0 1 0 -1.8 0M148.4 207.5a0.9 0.9 0 1 0 1.8 0a0.9 0.9 0 1 0 -1.8 0M181.5 196.1a0.9 0.9 0 1 0 1.8 0a0.9 0.9 0 1 0 -1.8 0M162.9 208.5a0.9 0.9 0 1 0 1.8 0a0.9 0.9 0 1 0 -1.8 0M157.9 178.0a0.9 0.9 0 1 0 1.8 0a0.9 0.9 0 1 0 -1.8 0M150.2 207.4a0.9 0.9 0 1 0 1.8 0a0.9 0.9 0 1 0 -1.8 0M179.3 201.7a0.9 0.9 0 1 0 1.8 0a0.9 0.9 0 1 0 -1.8 0M147.6 203.9a0.9 0.9 0 1 0 1.8 0a0.9 0.9 0 1 0 -1.8 0M161.1 194.1a0.9 0.9 0 1 0 1.8 0a0.9 0.9 0 1 0 -1.8 0M151.1 185.4a0.9 0.9 0 1 0 1.8 0a0.9 0.9 0 1 0 -1.8 0M178.4 203.2a0.9 0.9 0 1 0 1.8 0a0.9 0.9 0 1 0 -1.8 0M160.3 183.6a0.9 0.9 0 1 0 1.8 0a0.9 0.9 0 1 0 -1.8 0M150.4 201.6a0.9 0.9 0 1 0 1.8 0a0.9 0.9 0 1 0 -1.8 0M149.4 200.2a0.9 0.9 0 1 0 1.8 0a0.9 0.9 0 1 0 -1.8 0M166.0 208.4a0.9 0.9 0 1 0 1.8 0a0.9 0.9 0 1 0 -1.8 0M164.9 198.5a0.9 0.9 0 1 0 1.8 0a0.9 0.9 0 1 0 -1.8 0M157.4 213.4a0.9 0.9 0 1 0 1.8 0a0.9 0.9 0 1 0 -1.8 0M169.3 190.8a0.9 0.9 0 1 0 1.8 0a0.9 0.9 0 1 0 -1.8 0M161.8 202.1a0.9 0.9 0 1 0 1.8 0a0.9 0.9 0 1 0 -1.8 0M156.8 181.7a0.9 0.9 0 1 0 1.8 0a0.9 0.9 0 1 0 -1.8 0M154.5 168.1a0.9 0.9 0 1 0 1.8 0a0.9 0.9 0 1 0 -1.8 0M167.7 201.4a0.9 0.9 0 1 0 1.8 0a0.9 0.9 0 1 0 -1.8 0M158.2 209.5a0.9 0.9 0 1 0 1.8 0a0.9 0.9 0 1 0 -1.8 0M159.9 190.3a0.9 0.9 0 1 0 1.8 0a0.9 0.9 0 1 0 -1.8 0M154.5 208.5a0.9 0.9 0 1 0 1.8 0a0.9 0.9 0 1 0 -1.8 0M149.7 200.4a0.9 0.9 0 1 0 1.8 0a0.9 0.9 0 1 0 -1.8 0M165.3 190.8a0.9 0.9 0 1 0 1.8 0a0.9 0.9 0 1 0 -1.8 0M151.2 207.5a0.9 0.9 0 1 0 1.8 0a0.9 0.9 0 1 0 -1.8 0M146.5 209.8a0.9 0.9 0 1 0 1.8 0a0.9 0.9 0 1 0 -1.8 0M160.0 175.5a0.9 0.9 0 1 0 1.8 0a0.9 0.9 0 1 0 -1.8 0M157.9 187.7a0.9 0.9 0 1 0 1.8 0a0.9 0.9 0 1 0 -1.8 0M172.9 203.0a0.9 0.9 0 1 0 1.8 0a0.9 0.9 0 1 0 -1.8 0M148.7 195.9a0.9 0.9 0 1 0 1.8 0a0.9 0.9 0 1 0 -1.8 0M155.2 207.4a0.9 0.9 0 1 0 1.8 0a0.9 0.9 0 1 0 -1.8 0M157.2 157.2a0.9 0.9 0 1 0 1.8 0a0.9 0.9 0 1 0 -1.8 0M163.3 210.2a0.9 0.9 0 1 0 1.8 0a0.9 0.9 0 1 0 -1.8 0"/>
<path d="M49.4 214.0 H230.7" stroke="#5e6a6a" stroke-width="1.2"/>
<path d="M140 26 V222" stroke="#5e6a6a" stroke-width="1.5"/>
<circle cx="188.7" cy="25.0" r="2.85" fill="#f4ae0a"/>
<circle cx="169.2" cy="45.8" r="2.85" fill="#f4ae0a"/>
<circle cx="169.9" cy="120.1" r="2.85" fill="#f4ae0a"/>
<circle cx="164.2" cy="141.7" r="2.85" fill="#f4ae0a"/>
<circle cx="159.5" cy="177.9" r="2.85" fill="#f4ae0a"/>
<circle cx="107.5" cy="192.3" r="2.85" fill="#f4ae0a"/>
<circle cx="124.0" cy="199.6" r="2.85" fill="#f4ae0a"/>
<rect x="189.8" y="15.8" width="25.6" height="6.5" fill="#fff"/>
<text x="190.3" y="21.8" font-size="7.5" text-anchor="start" fill="#111" textLength="24.6" lengthAdjust="spacingAndGlyphs" class="t" >SLC4A</text>
<rect x="146.7" y="37" width="30.2" height="6.5" fill="#fff"/>
<text x="147.2" y="43.0" font-size="7.5" text-anchor="start" fill="#111" textLength="29.2" lengthAdjust="spacingAndGlyphs" class="t" >RAD23A</text>
<rect x="143.3" y="111.7" width="24.2" height="6.5" fill="#fff"/>
<text x="143.8" y="117.7" font-size="7.5" text-anchor="start" fill="#111" textLength="23.2" lengthAdjust="spacingAndGlyphs" class="t" >GATA1</text>
<rect x="133.4" y="138.7" width="25.4" height="6.5" fill="#fff"/>
<text x="133.9" y="144.7" font-size="7.5" text-anchor="start" fill="#111" textLength="24.4" lengthAdjust="spacingAndGlyphs" class="t" >PRDX6</text>
<rect x="137.4" y="174.7" width="17.1" height="6.5" fill="#fff"/>
<text x="137.9" y="180.7" font-size="7.5" text-anchor="start" fill="#111" textLength="16.1" lengthAdjust="spacingAndGlyphs" class="t" >LYL1</text>
<rect x="91.6" y="173.4" width="23.2" height="6.5" fill="#fff"/>
<text x="92.1" y="179.4" font-size="7.5" text-anchor="start" fill="#111" textLength="22.2" lengthAdjust="spacingAndGlyphs" class="t" >FCRL1</text>
<rect x="124.3" y="189.6" width="13.9" height="6.5" fill="#fff"/>
<text x="124.8" y="195.6" font-size="7.5" text-anchor="start" fill="#111" textLength="12.9" lengthAdjust="spacingAndGlyphs" class="t" >BLK</text>
</g>
<g id="B">
<text x="252.6" y="14.8" font-size="10.8" text-anchor="start" fill="#000" font-weight="bold" stroke="#000" stroke-width="0.35">B</text>
<path d="M280.4 27.6 V221.8 H512.4 M277.2 221.8 H280.4 M277.2 173.2 H280.4 M277.2 124.7 H280.4 M277.2 76.2 H280.4 M277.2 27.6 H280.4 M297.6 221.8 V225 M325.8 221.8 V225 M354.1 221.8 V225 M382.3 221.8 V225 M410.6 221.8 V225 M438.8 221.8 V225 M467.0 221.8 V225 M495.3 221.8 V225 " stroke="#000" stroke-width="1.25" fill="none"/>
<text x="274.6" y="224.5" font-size="7.4" text-anchor="end" fill="#111" class="t" >0</text>
<text x="274.6" y="175.9" font-size="7.4" text-anchor="end" fill="#111" class="t" >5</text>
<text x="274.6" y="127.4" font-size="7.4" text-anchor="end" fill="#111" class="t" >10</text>
<text x="274.6" y="78.9" font-size="7.4" text-anchor="end" fill="#111" class="t" >15</text>
<text x="274.6" y="30.3" font-size="7.4" text-anchor="end" fill="#111" class="t" >20</text>
<text x="297.6" y="233.3" font-size="7.6" text-anchor="middle" fill="#111" font-style="italic" class="t" style="stroke-width:0.15px">FCRL1</text>
<text x="325.8" y="233.3" font-size="7.6" text-anchor="middle" fill="#111" font-style="italic" class="t" style="stroke-width:0.15px">BLK</text>
<text x="354.1" y="233.3" font-size="7.6" text-anchor="middle" fill="#111" font-style="italic" class="t" style="stroke-width:0.15px">TP53</text>
<text x="382.3" y="233.3" font-size="7.6" text-anchor="middle" fill="#111" font-style="italic" class="t" style="stroke-width:0.15px">RAD23A</text>
<text x="410.6" y="233.3" font-size="7.6" text-anchor="middle" fill="#111" font-style="italic" class="t" style="stroke-width:0.15px">LYL1</text>
<text x="438.8" y="233.3" font-size="7.6" text-anchor="middle" fill="#111" font-style="italic" class="t" style="stroke-width:0.15px">GATA1</text>
<text x="467.0" y="233.3" font-size="7.6" text-anchor="middle" fill="#111" font-style="italic" class="t" style="stroke-width:0.15px">PRDX6</text>
<text x="495.3" y="233.3" font-size="7.6" text-anchor="middle" fill="#111" font-style="italic" class="t" style="stroke-width:0.15px">SLC4A1</text>
<text class="t" transform="translate(260.3 124) rotate(-90)" font-size="8" text-anchor="middle" textLength="72" lengthAdjust="spacingAndGlyphs" fill="#111">Relative expression levels</text>
<text x="374.1" y="246.0" font-size="8.3" text-anchor="start" fill="#111" textLength="44.7" lengthAdjust="spacingAndGlyphs" class="t" >Gene of interest</text>
<rect x="286.2" y="212.1" width="10.8" height="9.7" fill="#d0021b"/>
<path d="M291.6 212.1 V208.1 M289.8 208.1 H293.4" stroke="#000" stroke-width="1"/>
<rect x="298.4" y="221.6" width="10.8" height="0.2" fill="#0a30b4"/>
<path d="M303.8 221.6 V220.6 M302.0 220.6 H305.6" stroke="#000" stroke-width="1"/>
<rect x="302.9" y="215.8" width="1.8" height="1.7" fill="#111"/>
<rect x="314.4" y="212.1" width="10.8" height="9.7" fill="#d0021b"/>
<path d="M319.8 212.1 V210.2 M318.0 210.2 H321.6" stroke="#000" stroke-width="1"/>
<rect x="326.6" y="219.8" width="10.8" height="2.0" fill="#0a30b4"/>
<path d="M332.0 219.8 V217.9 M330.2 217.9 H333.8" stroke="#000" stroke-width="1"/>
<rect x="331.1" y="213.1" width="1.8" height="1.7" fill="#111"/>
<rect x="342.7" y="212.1" width="10.8" height="9.7" fill="#d0021b"/>
<path d="M348.1 212.1 V209.1 M346.3 209.1 H349.9" stroke="#000" stroke-width="1"/>
<rect x="354.9" y="214.6" width="10.8" height="7.2" fill="#0a30b4"/>
<path d="M360.3 214.6 V212.3 M358.5 212.3 H362.1" stroke="#000" stroke-width="1"/>
<rect x="370.9" y="212.1" width="10.8" height="9.7" fill="#d0021b"/>
<path d="M376.3 212.1 V210.9 M374.5 210.9 H378.1" stroke="#000" stroke-width="1"/>
<rect x="383.1" y="177.9" width="10.8" height="43.9" fill="#0a30b4"/>
<path d="M388.5 177.9 V175.3 M386.7 175.3 H390.3" stroke="#000" stroke-width="1"/>
<rect x="384.8" y="170.5" width="1.8" height="1.7" fill="#111"/>
<rect x="387.6" y="170.5" width="1.8" height="1.7" fill="#111"/>
<rect x="390.4" y="170.5" width="1.8" height="1.7" fill="#111"/>
<rect x="399.2" y="212.1" width="10.8" height="9.7" fill="#d0021b"/>
<path d="M404.6 212.1 V211.4 M402.8 211.4 H406.4" stroke="#000" stroke-width="1"/>
<rect x="411.4" y="170.2" width="10.8" height="51.6" fill="#0a30b4"/>
<path d="M416.8 170.2 V161.0 M415.0 161.0 H418.6" stroke="#000" stroke-width="1"/>
<rect x="414.5" y="156.2" width="1.8" height="1.7" fill="#111"/>
<rect x="417.3" y="156.2" width="1.8" height="1.7" fill="#111"/>
<rect x="427.4" y="212.1" width="10.8" height="9.7" fill="#d0021b"/>
<path d="M432.8 212.1 V210.4 M431.0 210.4 H434.6" stroke="#000" stroke-width="1"/>
<rect x="439.6" y="165.2" width="10.8" height="56.6" fill="#0a30b4"/>
<path d="M445.0 165.2 V163.9 M443.2 163.9 H446.8" stroke="#000" stroke-width="1"/>
<rect x="439.9" y="159.1" width="1.8" height="1.7" fill="#111"/>
<rect x="442.7" y="159.1" width="1.8" height="1.7" fill="#111"/>
<rect x="445.5" y="159.1" width="1.8" height="1.7" fill="#111"/>
<rect x="448.3" y="159.1" width="1.8" height="1.7" fill="#111"/>
<rect x="455.6" y="212.1" width="10.8" height="9.7" fill="#d0021b"/>
<path d="M461.0 212.1 V209.0 M459.2 209.0 H462.8" stroke="#000" stroke-width="1"/>
<rect x="467.8" y="148.8" width="10.8" height="73.0" fill="#0a30b4"/>
<path d="M473.2 148.8 V135.2 M471.4 135.2 H475.0" stroke="#000" stroke-width="1"/>
<rect x="470.9" y="130.4" width="1.8" height="1.7" fill="#111"/>
<rect x="473.7" y="130.4" width="1.8" height="1.7" fill="#111"/>
<rect x="483.9" y="212.1" width="10.8" height="9.7" fill="#d0021b"/>
<path d="M489.3 212.1 V211.4 M487.5 211.4 H491.1" stroke="#000" stroke-width="1"/>
<rect x="496.1" y="41.4" width="10.8" height="180.4" fill="#0a30b4"/>
<path d="M501.5 41.4 V38.2 M499.7 38.2 H503.3" stroke="#000" stroke-width="1"/>
<rect x="496.4" y="33.4" width="1.8" height="1.7" fill="#111"/>
<rect x="499.2" y="33.4" width="1.8" height="1.7" fill="#111"/>
<rect x="502.0" y="33.4" width="1.8" height="1.7" fill="#111"/>
<rect x="504.8" y="33.4" width="1.8" height="1.7" fill="#111"/>
</g>
<g id="C">
<text x="97.8" y="274.7" font-size="11.4" text-anchor="start" fill="#000" font-weight="bold" stroke="#000" stroke-width="0.35">C</text>
<path d="M214.2 278.2 V444.4 M312.5 278.2 V444.4 M410.9 278.2 V444.4 M115.2 278.2 H410.9 M115.2 333.6 H410.9 M115.2 389 H410.9 " stroke="#e0e6e8" stroke-width="1" fill="none"/>
<path d="M115.2 277.9 V444.6 H410.9" stroke="#000" stroke-width="1.5" fill="none"/>
<text x="105.8" y="361.5" font-size="8.4" text-anchor="middle" fill="#111" textLength="11.4" lengthAdjust="spacingAndGlyphs" class="t" transform="rotate(-90 105.8 361.5)" style="stroke-width:0.4px">PC2</text>
<text x="257.6" y="465.3" font-size="8.2" text-anchor="start" fill="#111" textLength="10.8" lengthAdjust="spacingAndGlyphs" class="t" style="stroke-width:0.4px">PC1</text>
<defs><filter id="gB" filterUnits="userSpaceOnUse" x="60" y="250" width="400" height="222" color-interpolation-filters="sRGB">
<feMorphology in="SourceAlpha" operator="erode" radius="0.9" result="er"/>
<feComposite in="SourceAlpha" in2="er" operator="out" result="ring0"/>
<feGaussianBlur in="ring0" stdDeviation="1.0" result="ring"/>
<feGaussianBlur in="SourceAlpha" stdDeviation="4" result="b"/>
<feComposite in="SourceAlpha" in2="b" operator="arithmetic" k2="1" k3="-1" result="edge"/>
<feComposite in="ring" in2="edge" operator="arithmetic" k2="0.5" k3="0.55" result="a1"/>
<feComposite in="a1" in2="SourceAlpha" operator="arithmetic" k2="1" k3="0.14" result="a"/>
<feFlood flood-color="#a9cdf3"/>
<feComposite in2="a" operator="in"/>
</filter><filter id="gO" filterUnits="userSpaceOnUse" x="60" y="250" width="400" height="222" color-interpolation-filters="sRGB">
<feMorphology in="SourceAlpha" operator="erode" radius="0.9" result="er"/>
<feComposite in="SourceAlpha" in2="er" operator="out" result="ring0"/>
<feGaussianBlur in="ring0" stdDeviation="1.0" result="ring"/>
<feGaussianBlur in="SourceAlpha" stdDeviation="4" result="b"/>
<feComposite in="SourceAlpha" in2="b" operator="arithmetic" k2="1" k3="-1" result="edge"/>
<feComposite in="ring" in2="edge" operator="arithmetic" k2="0.55" k3="0.5" result="a1"/>
<feComposite in="a1" in2="SourceAlpha" operator="arithmetic" k2="1" k3="0.06" result="a"/>
<feFlood flood-color="#fcd49c"/>
<feComposite in2="a" operator="in"/>
</filter><filter id="gP" filterUnits="userSpaceOnUse" x="60" y="250" width="400" height="222" color-interpolation-filters="sRGB">
<feMorphology in="SourceAlpha" operator="erode" radius="0.9" result="er"/>
<feComposite in="SourceAlpha" in2="er" operator="out" result="ring0"/>
<feGaussianBlur in="ring0" stdDeviation="1.0" result="ring"/>
<feGaussianBlur in="SourceAlpha" stdDeviation="4.0" result="b"/>
<feComposite in="SourceAlpha" in2="b" operator="arithmetic" k2="1" k3="-1" result="edge"/>
<feComposite in="ring" in2="edge" operator="arithmetic" k2="0.9" k3="0.85" result="a1"/>
<feComposite in="a1" in2="SourceAlpha" operator="arithmetic" k2="1" k3="0.0" result="a"/>
<feFlood flood-color="#f6acee"/>
<feComposite in2="a" operator="in"/>
</filter></defs>
<g filter="url(#gB)"><path d="M117.8 334.6 L145.2 336.9" stroke="#000" stroke-width="31" stroke-linecap="round"/></g>
<g filter="url(#gO)"><path d="M118 343 L250 444" stroke="#000" stroke-width="32" stroke-linecap="round"/></g>
<g filter="url(#gP)"><path d="M290.5 329.0 L382.9 281.4 L407.4 374.1 Z" fill="#000" stroke="#000" stroke-width="30" stroke-linejoin="round"/></g>
<circle cx="117.2" cy="342.3" r="4.3" fill="#fb8602"/>
<circle cx="230.6" cy="423.4" r="4.3" fill="#fb8602"/>
<circle cx="251.6" cy="443.7" r="4.3" fill="#fb8602"/>
<circle cx="117.2" cy="332.2" r="4.25" fill="#2c54fb"/>
<circle cx="118.6" cy="336.9" r="4.25" fill="#2c54fb"/>
<circle cx="145.5" cy="336.9" r="4.25" fill="#2c54fb"/>
<circle cx="290.5" cy="329.0" r="4.3" fill="#e5035a"/>
<circle cx="382.9" cy="281.4" r="4.3" fill="#e5035a"/>
<circle cx="407.4" cy="374.1" r="4.3" fill="#e5035a"/>
<text x="131.1" y="330.7" font-size="7.9" text-anchor="start" fill="#1638ad" font-weight="bold" textLength="20.9" lengthAdjust="spacingAndGlyphs" stroke="#1638ad" stroke-width="0.3">FANC</text>
<text x="168.7" y="388.0" font-size="7.8" text-anchor="start" fill="#f5b000" font-weight="bold" textLength="21.8" lengthAdjust="spacingAndGlyphs" stroke="#f5b000" stroke-width="0.3">SBDS</text>
<text x="345.3" y="316.4" font-size="7.6" text-anchor="start" fill="#d20a1e" font-weight="bold" textLength="19.4" lengthAdjust="spacingAndGlyphs" stroke="#d20a1e" stroke-width="0.4">DKC1</text>
</g>
<path fill="#000" d="M0 0H520V1.15H0Z M0 0H1.5V472H0Z M518.5 0H520V472H518.5Z M0 470.6H520V472H0Z"/>
</svg>

</body></html>
